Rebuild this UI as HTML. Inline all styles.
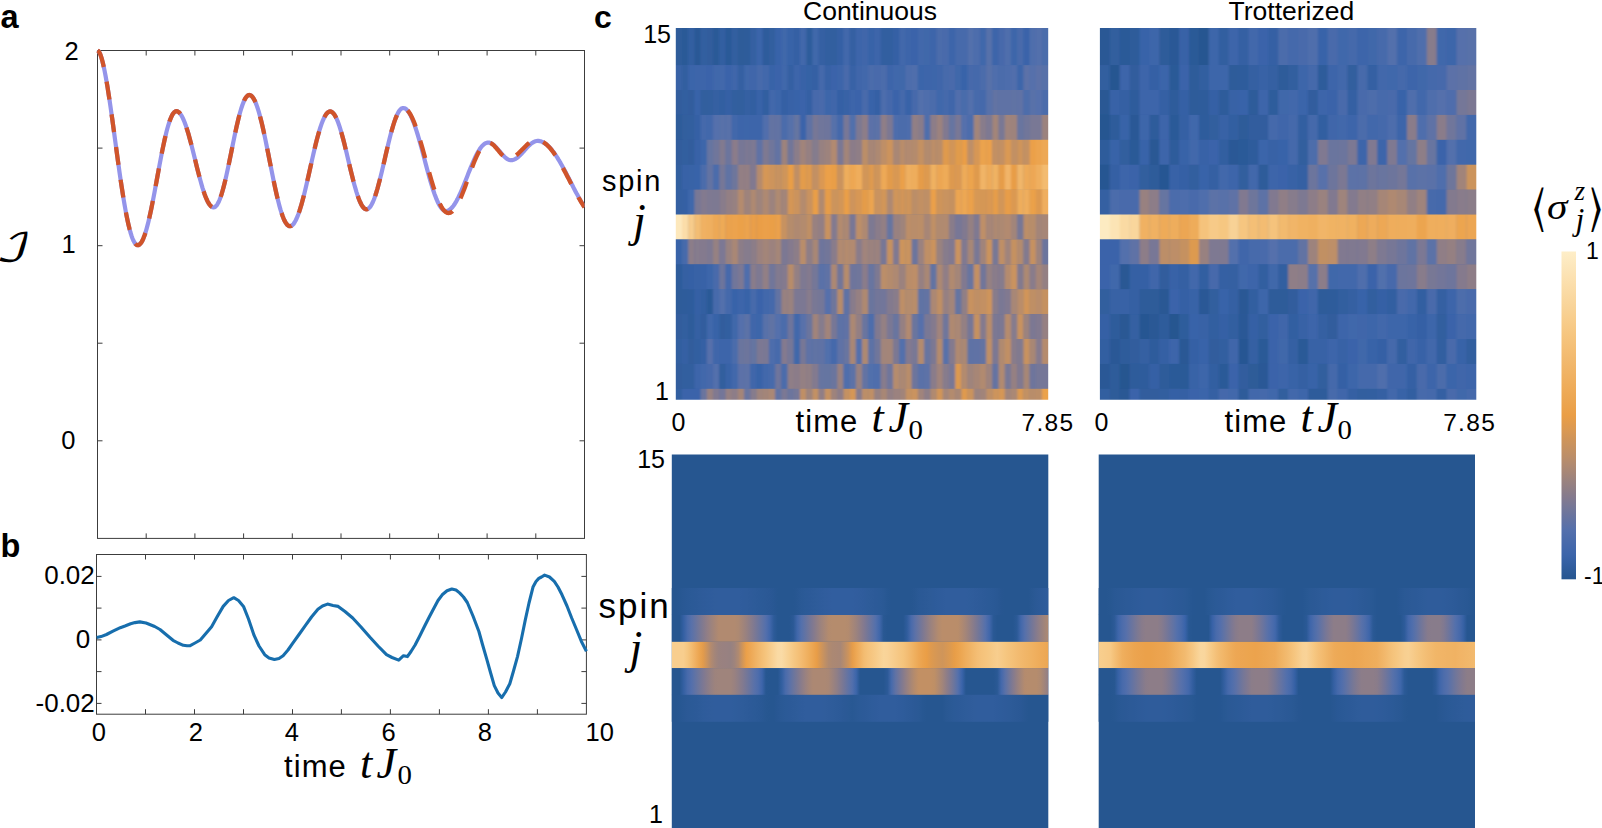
<!DOCTYPE html>
<html><head><meta charset="utf-8"><title>Figure</title>
<style>html,body{margin:0;padding:0;background:#fff}svg{display:block}</style></head>
<body><svg width="1602" height="828" viewBox="0 0 1602 828">
<rect width="1602" height="828" fill="#fff"/>
<g fill="none" stroke="#3c3c3c" stroke-width="1">
<rect x="97.5" y="50.5" width="487.0" height="487.9"/>
<path d="M146.2 50.5 v5 M146.2 538.4 v-5 M194.9 50.5 v5 M194.9 538.4 v-5 M243.6 50.5 v5 M243.6 538.4 v-5 M292.3 50.5 v5 M292.3 538.4 v-5 M341.0 50.5 v5 M341.0 538.4 v-5 M389.7 50.5 v5 M389.7 538.4 v-5 M438.4 50.5 v5 M438.4 538.4 v-5 M487.1 50.5 v5 M487.1 538.4 v-5 M535.8 50.5 v5 M535.8 538.4 v-5 M97.5 148.1 h5 M584.5 148.1 h-5 M97.5 245.7 h5 M584.5 245.7 h-5 M97.5 343.2 h5 M584.5 343.2 h-5 M97.5 440.8 h5 M584.5 440.8 h-5 "/>
</g>
<clipPath id="ca"><rect x="95.5" y="48.5" width="489.0" height="489.9"/></clipPath>
<g clip-path="url(#ca)" fill="none" stroke-linejoin="round">
<path d="M97.5 50.5 L98.5 51.1 L99.5 52.6 L100.5 54.9 L101.5 57.9 L102.5 61.5 L103.5 65.7 L104.5 70.4 L105.5 75.5 L106.5 81.1 L107.5 87.0 L108.5 93.3 L109.5 99.9 L110.5 106.7 L111.5 113.8 L112.5 120.9 L113.5 128.2 L114.5 135.6 L115.5 143.0 L116.5 150.4 L117.5 157.7 L118.5 164.9 L119.5 172.1 L120.5 179.0 L121.5 185.7 L122.5 192.2 L123.5 198.5 L124.5 204.4 L125.5 210.0 L126.5 215.3 L127.5 220.2 L128.5 224.7 L129.5 228.8 L130.5 232.5 L131.5 235.7 L132.5 238.5 L133.5 240.8 L134.5 242.6 L135.5 243.9 L136.5 244.8 L137.5 245.2 L138.5 245.1 L139.5 244.6 L140.5 243.6 L141.5 242.2 L142.5 240.4 L143.5 238.1 L144.5 235.5 L145.5 232.5 L146.5 229.1 L147.5 225.4 L148.5 221.4 L149.5 217.1 L150.5 212.5 L151.5 207.7 L152.5 202.7 L153.5 197.6 L154.5 192.3 L155.5 186.9 L156.5 181.5 L157.5 176.0 L158.5 170.6 L159.5 165.2 L160.5 159.9 L161.5 154.7 L162.5 149.7 L163.5 144.9 L164.5 140.2 L165.5 135.9 L166.5 131.8 L167.5 128.0 L168.5 124.6 L169.5 121.5 L170.5 118.8 L171.5 116.5 L172.5 114.5 L173.5 113.1 L174.5 112.0 L175.5 111.4 L176.5 111.2 L177.5 111.4 L178.5 112.0 L179.5 112.8 L180.5 114.1 L181.5 115.6 L182.5 117.4 L183.5 119.6 L184.5 122.0 L185.5 124.7 L186.5 127.7 L187.5 130.8 L188.5 134.2 L189.5 137.8 L190.5 141.5 L191.5 145.3 L192.5 149.2 L193.5 153.2 L194.5 157.3 L195.5 161.3 L196.5 165.4 L197.5 169.4 L198.5 173.3 L199.5 177.1 L200.5 180.8 L201.5 184.4 L202.5 187.8 L203.5 190.9 L204.5 193.9 L205.5 196.6 L206.5 199.0 L207.5 201.2 L208.5 203.0 L209.5 204.5 L210.5 205.8 L211.5 206.6 L212.5 207.2 L213.5 207.4 L214.5 207.2 L215.5 206.6 L216.5 205.6 L217.5 204.1 L218.5 202.3 L219.5 200.0 L220.5 197.4 L221.5 194.4 L222.5 191.0 L223.5 187.4 L224.5 183.5 L225.5 179.3 L226.5 174.9 L227.5 170.3 L228.5 165.6 L229.5 160.8 L230.5 155.9 L231.5 151.0 L232.5 146.0 L233.5 141.1 L234.5 136.3 L235.5 131.6 L236.5 127.0 L237.5 122.7 L238.5 118.5 L239.5 114.6 L240.5 111.0 L241.5 107.7 L242.5 104.8 L243.5 102.2 L244.5 99.9 L245.5 98.1 L246.5 96.7 L247.5 95.7 L248.5 95.1 L249.5 95.0 L250.5 95.3 L251.5 95.9 L252.5 97.0 L253.5 98.4 L254.5 100.2 L255.5 102.4 L256.5 104.9 L257.5 107.8 L258.5 110.9 L259.5 114.4 L260.5 118.1 L261.5 122.1 L262.5 126.3 L263.5 130.8 L264.5 135.4 L265.5 140.1 L266.5 145.0 L267.5 150.0 L268.5 155.0 L269.5 160.1 L270.5 165.2 L271.5 170.2 L272.5 175.2 L273.5 180.1 L274.5 184.9 L275.5 189.5 L276.5 194.0 L277.5 198.2 L278.5 202.3 L279.5 206.1 L280.5 209.6 L281.5 212.8 L282.5 215.7 L283.5 218.3 L284.5 220.6 L285.5 222.4 L286.5 223.9 L287.5 225.1 L288.5 225.8 L289.5 226.2 L290.5 226.1 L291.5 225.8 L292.5 225.0 L293.5 224.0 L294.5 222.5 L295.5 220.8 L296.5 218.8 L297.5 216.4 L298.5 213.8 L299.5 210.9 L300.5 207.7 L301.5 204.3 L302.5 200.7 L303.5 196.9 L304.5 192.9 L305.5 188.7 L306.5 184.5 L307.5 180.1 L308.5 175.7 L309.5 171.3 L310.5 166.8 L311.5 162.3 L312.5 157.9 L313.5 153.5 L314.5 149.3 L315.5 145.1 L316.5 141.1 L317.5 137.3 L318.5 133.7 L319.5 130.2 L320.5 127.0 L321.5 124.1 L322.5 121.4 L323.5 119.1 L324.5 117.0 L325.5 115.2 L326.5 113.8 L327.5 112.7 L328.5 111.9 L329.5 111.5 L330.5 111.4 L331.5 111.7 L332.5 112.4 L333.5 113.4 L334.5 114.8 L335.5 116.5 L336.5 118.5 L337.5 120.8 L338.5 123.5 L339.5 126.4 L340.5 129.6 L341.5 133.0 L342.5 136.6 L343.5 140.4 L344.5 144.3 L345.5 148.4 L346.5 152.5 L347.5 156.8 L348.5 161.0 L349.5 165.2 L350.5 169.4 L351.5 173.5 L352.5 177.6 L353.5 181.5 L354.5 185.2 L355.5 188.7 L356.5 192.1 L357.5 195.2 L358.5 198.0 L359.5 200.6 L360.5 202.8 L361.5 204.8 L362.5 206.4 L363.5 207.7 L364.5 208.6 L365.5 209.1 L366.5 209.3 L367.5 209.1 L368.5 208.6 L369.5 207.6 L370.5 206.4 L371.5 204.7 L372.5 202.8 L373.5 200.5 L374.5 197.9 L375.5 195.0 L376.5 191.8 L377.5 188.5 L378.5 184.8 L379.5 181.0 L380.5 177.1 L381.5 173.0 L382.5 168.8 L383.5 164.5 L384.5 160.2 L385.5 155.8 L386.5 151.5 L387.5 147.3 L388.5 143.1 L389.5 139.0 L390.5 135.1 L391.5 131.3 L392.5 127.8 L393.5 124.5 L394.5 121.4 L395.5 118.6 L396.5 116.1 L397.5 113.9 L398.5 112.0 L399.5 110.5 L400.5 109.3 L401.5 108.5 L402.5 108.1 L403.5 108.0 L404.5 108.2 L405.5 108.7 L406.5 109.5 L407.5 110.6 L408.5 111.9 L409.5 113.4 L410.5 115.3 L411.5 117.3 L412.5 119.6 L413.5 122.1 L414.5 124.8 L415.5 127.7 L416.5 130.8 L417.5 134.0 L418.5 137.3 L419.5 140.8 L420.5 144.4 L421.5 148.0 L422.5 151.8 L423.5 155.5 L424.5 159.3 L425.5 163.1 L426.5 166.9 L427.5 170.6 L428.5 174.3 L429.5 177.8 L430.5 181.3 L431.5 184.7 L432.5 187.9 L433.5 191.0 L434.5 193.9 L435.5 196.6 L436.5 199.2 L437.5 201.5 L438.5 203.6 L439.5 205.4 L440.5 207.0 L441.5 208.3 L442.5 209.4 L443.5 210.2 L444.5 210.7 L445.5 211.0 L446.5 211.0 L447.5 210.8 L448.5 210.4 L449.5 209.8 L450.5 209.0 L451.5 208.1 L452.5 207.0 L453.5 205.7 L454.5 204.3 L455.5 202.7 L456.5 200.9 L457.5 199.1 L458.5 197.1 L459.5 195.0 L460.5 192.8 L461.5 190.5 L462.5 188.1 L463.5 185.7 L464.5 183.2 L465.5 180.7 L466.5 178.2 L467.5 175.7 L468.5 173.1 L469.5 170.6 L470.5 168.1 L471.5 165.7 L472.5 163.3 L473.5 161.0 L474.5 158.8 L475.5 156.7 L476.5 154.7 L477.5 152.8 L478.5 151.1 L479.5 149.5 L480.5 148.0 L481.5 146.7 L482.5 145.6 L483.5 144.7 L484.5 143.9 L485.5 143.3 L486.5 142.9 L487.5 142.6 L488.5 142.6 L489.5 142.7 L490.5 143.0 L491.5 143.5 L492.5 144.1 L493.5 144.8 L494.5 145.7 L495.5 146.7 L496.5 147.7 L497.5 148.8 L498.5 150.0 L499.5 151.2 L500.5 152.4 L501.5 153.6 L502.5 154.8 L503.5 155.8 L504.5 156.8 L505.5 157.7 L506.5 158.5 L507.5 159.1 L508.5 159.6 L509.5 160.0 L510.5 160.2 L511.5 160.2 L512.5 160.1 L513.5 159.8 L514.5 159.4 L515.5 158.9 L516.5 158.3 L517.5 157.6 L518.5 156.7 L519.5 155.8 L520.5 154.8 L521.5 153.8 L522.5 152.7 L523.5 151.6 L524.5 150.4 L525.5 149.3 L526.5 148.2 L527.5 147.1 L528.5 146.1 L529.5 145.1 L530.5 144.2 L531.5 143.4 L532.5 142.7 L533.5 142.1 L534.5 141.6 L535.5 141.2 L536.5 141.0 L537.5 140.9 L538.5 140.9 L539.5 141.1 L540.5 141.3 L541.5 141.6 L542.5 142.0 L543.5 142.5 L544.5 143.1 L545.5 143.7 L546.5 144.5 L547.5 145.3 L548.5 146.3 L549.5 147.3 L550.5 148.3 L551.5 149.5 L552.5 150.8 L553.5 152.1 L554.5 153.4 L555.5 154.9 L556.5 156.4 L557.5 157.9 L558.5 159.6 L559.5 161.2 L560.5 162.9 L561.5 164.7 L562.5 166.5 L563.5 168.3 L564.5 170.2 L565.5 172.1 L566.5 174.0 L567.5 175.9 L568.5 177.8 L569.5 179.8 L570.5 181.7 L571.5 183.7 L572.5 185.6 L573.5 187.6 L574.5 189.5 L575.5 191.4 L576.5 193.3 L577.5 195.1 L578.5 196.9 L579.5 198.7 L580.5 200.5 L581.5 202.2 L582.5 203.8 L583.5 205.4 L584.5 207.0" stroke="#9494ea" stroke-width="4.2"/>
<path d="M97.5 50.5 L98.5 51.1 L99.5 52.6 L100.5 54.9 L101.5 57.9 L102.5 61.5 L103.5 65.7 L104.5 70.4 L105.5 75.5 L106.5 81.1 L107.5 87.0 L108.5 93.3 L109.5 99.9 L110.5 106.7 L111.5 113.8 L112.5 120.9 L113.5 128.2 L114.5 135.6 L115.5 143.0 L116.5 150.4 L117.5 157.7 L118.5 164.9 L119.5 172.1 L120.5 179.0 L121.5 185.7 L122.5 192.2 L123.5 198.5 L124.5 204.4 L125.5 210.0 L126.5 215.3 L127.5 220.2 L128.5 224.7 L129.5 228.8 L130.5 232.5 L131.5 235.7 L132.5 238.5 L133.5 240.8 L134.5 242.6 L135.5 243.9 L136.5 244.8 L137.5 245.2 L138.5 245.1 L139.5 244.6 L140.5 243.6 L141.5 242.2 L142.5 240.4 L143.5 238.1 L144.5 235.5 L145.5 232.5 L146.5 229.1 L147.5 225.4 L148.5 221.4 L149.5 217.1 L150.5 212.5 L151.5 207.7 L152.5 202.7 L153.5 197.6 L154.5 192.3 L155.5 186.9 L156.5 181.5 L157.5 176.0 L158.5 170.6 L159.5 165.2 L160.5 159.9 L161.5 154.7 L162.5 149.7 L163.5 144.9 L164.5 140.2 L165.5 135.9 L166.5 131.8 L167.5 128.0 L168.5 124.6 L169.5 121.5 L170.5 118.8 L171.5 116.5 L172.5 114.5 L173.5 113.1 L174.5 112.0 L175.5 111.4 L176.5 111.2 L177.5 111.4 L178.5 112.0 L179.5 112.8 L180.5 114.1 L181.5 115.6 L182.5 117.4 L183.5 119.6 L184.5 122.0 L185.5 124.7 L186.5 127.7 L187.5 130.8 L188.5 134.2 L189.5 137.8 L190.5 141.5 L191.5 145.3 L192.5 149.2 L193.5 153.2 L194.5 157.3 L195.5 161.3 L196.5 165.4 L197.5 169.4 L198.5 173.3 L199.5 177.1 L200.5 180.8 L201.5 184.4 L202.5 187.8 L203.5 190.9 L204.5 193.9 L205.5 196.6 L206.5 199.0 L207.5 201.2 L208.5 203.0 L209.5 204.5 L210.5 205.8 L211.5 206.6 L212.5 207.2 L213.5 207.4 L214.5 207.2 L215.5 206.6 L216.5 205.6 L217.5 204.1 L218.5 202.3 L219.5 200.0 L220.5 197.4 L221.5 194.4 L222.5 191.0 L223.5 187.4 L224.5 183.5 L225.5 179.3 L226.5 174.9 L227.5 170.3 L228.5 165.6 L229.5 160.8 L230.5 155.9 L231.5 151.0 L232.5 146.0 L233.5 141.1 L234.5 136.3 L235.5 131.6 L236.5 127.0 L237.5 122.7 L238.5 118.5 L239.5 114.6 L240.5 111.0 L241.5 107.7 L242.5 104.8 L243.5 102.2 L244.5 99.9 L245.5 98.1 L246.5 96.7 L247.5 95.7 L248.5 95.1 L249.5 95.0 L250.5 95.3 L251.5 95.9 L252.5 97.0 L253.5 98.4 L254.5 100.2 L255.5 102.4 L256.5 104.9 L257.5 107.8 L258.5 110.9 L259.5 114.4 L260.5 118.1 L261.5 122.1 L262.5 126.3 L263.5 130.8 L264.5 135.4 L265.5 140.1 L266.5 145.0 L267.5 150.0 L268.5 155.0 L269.5 160.1 L270.5 165.2 L271.5 170.2 L272.5 175.2 L273.5 180.1 L274.5 184.9 L275.5 189.5 L276.5 194.0 L277.5 198.2 L278.5 202.3 L279.5 206.1 L280.5 209.6 L281.5 212.8 L282.5 215.7 L283.5 218.3 L284.5 220.6 L285.5 222.4 L286.5 223.9 L287.5 225.1 L288.5 225.8 L289.5 226.2 L290.5 226.1 L291.5 225.8 L292.5 225.0 L293.5 224.0 L294.5 222.5 L295.5 220.8 L296.5 218.8 L297.5 216.4 L298.5 213.8 L299.5 210.9 L300.5 207.7 L301.5 204.3 L302.5 200.7 L303.5 196.9 L304.5 192.9 L305.5 188.7 L306.5 184.5 L307.5 180.1 L308.5 175.7 L309.5 171.3 L310.5 166.8 L311.5 162.3 L312.5 157.9 L313.5 153.5 L314.5 149.3 L315.5 145.1 L316.5 141.1 L317.5 137.3 L318.5 133.7 L319.5 130.2 L320.5 127.0 L321.5 124.1 L322.5 121.4 L323.5 119.1 L324.5 117.0 L325.5 115.2 L326.5 113.8 L327.5 112.7 L328.5 111.9 L329.5 111.5 L330.5 111.4 L331.5 111.7 L332.5 112.4 L333.5 113.4 L334.5 114.8 L335.5 116.5 L336.5 118.5 L337.5 120.8 L338.5 123.5 L339.5 126.4 L340.5 129.6 L341.5 133.0 L342.5 136.6 L343.5 140.4 L344.5 144.3 L345.5 148.4 L346.5 152.5 L347.5 156.8 L348.5 161.0 L349.5 165.2 L350.5 169.4 L351.5 173.5 L352.5 177.6 L353.5 181.5 L354.5 185.2 L355.5 188.7 L356.5 192.1 L357.5 195.2 L358.5 198.0 L359.5 200.6 L360.5 202.8 L361.5 204.8 L362.5 206.4 L363.5 207.7 L364.5 208.6 L365.5 209.1 L366.5 209.3 L367.5 209.1 L368.5 208.6 L369.5 207.6 L370.5 206.4 L371.5 204.7 L372.5 202.8 L373.5 200.5 L374.5 197.9 L375.5 195.0 L376.5 191.8 L377.5 188.5 L378.5 184.8 L379.5 181.0 L380.5 177.1 L381.5 173.0 L382.5 168.8 L383.5 164.5 L384.5 160.2 L385.5 155.8 L386.5 151.5 L387.5 147.3 L388.5 143.1 L389.5 139.0 L390.5 135.1 L391.5 131.3 L392.5 127.8 L393.5 124.5 L394.5 121.4 L395.5 118.6 L396.5 116.1 L397.5 113.9 L398.5 112.0 L399.5 110.5 L400.5 109.3 L401.5 108.5 L402.5 108.1 L403.5 108.0 L404.5 108.2 L405.5 108.7 L406.5 109.4 L407.5 110.3 L408.5 111.5 L409.5 112.9 L410.5 114.6 L411.5 116.5 L412.5 118.5 L413.5 120.8 L414.5 123.3 L415.5 126.0 L416.5 128.8 L417.5 131.8 L418.5 134.9 L419.5 138.1 L420.5 141.5 L421.5 144.9 L422.5 148.4 L423.5 152.0 L424.5 155.6 L425.5 159.2 L426.5 162.9 L427.5 166.5 L428.5 170.1 L429.5 173.6 L430.5 177.1 L431.5 180.5 L432.5 183.9 L433.5 187.1 L434.5 190.1 L435.5 193.1 L436.5 195.8 L437.5 198.5 L438.5 200.9 L439.5 203.1 L440.5 205.1 L441.5 206.9 L442.5 208.5 L443.5 209.9 L444.5 211.0 L445.5 211.9 L446.5 212.5 L447.5 212.9 L448.5 213.0 L449.5 212.9 L450.5 212.6 L451.5 212.0 L452.5 211.3 L453.5 210.3 L454.5 209.1 L455.5 207.7 L456.5 206.2 L457.5 204.4 L458.5 202.5 L459.5 200.5 L460.5 198.3 L461.5 196.0 L462.5 193.5 L463.5 191.0 L464.5 188.4 L465.5 185.7 L466.5 182.9 L467.5 180.2 L468.5 177.4 L469.5 174.6 L470.5 171.8 L471.5 169.1 L472.5 166.4 L473.5 163.8 L474.5 161.3 L475.5 158.9 L476.5 156.6 L477.5 154.5 L478.5 152.5 L479.5 150.6 L480.5 148.9 L481.5 147.4 L482.5 146.1 L483.5 145.0 L484.5 144.1 L485.5 143.4 L486.5 142.9 L487.5 142.7 L488.5 142.6 L489.5 142.8 L490.5 143.1 L491.5 143.6 L492.5 144.3 L493.5 145.1 L494.5 146.1 L495.5 147.2 L496.5 148.3 L497.5 149.5 L498.5 150.7 L499.5 152.0 L500.5 153.1 L501.5 154.3 L502.5 155.3 L503.5 156.2 L504.5 157.0 L505.5 157.7 L506.5 158.1 L507.5 158.4 L508.5 158.5 L509.5 158.4 L510.5 158.3 L511.5 158.0 L512.5 157.6 L513.5 157.1 L514.5 156.5 L515.5 155.8 L516.5 155.0 L517.5 154.2 L518.5 153.3 L519.5 152.3 L520.5 151.3 L521.5 150.3 L522.5 149.2 L523.5 148.2 L524.5 147.2 L525.5 146.2 L526.5 145.2 L527.5 144.3 L528.5 143.5 L529.5 142.7 L530.5 142.0 L531.5 141.4 L532.5 140.9 L533.5 140.5 L534.5 140.2 L535.5 140.1 L536.5 140.0 L537.5 140.0 L538.5 140.2 L539.5 140.4 L540.5 140.7 L541.5 141.1 L542.5 141.6 L543.5 142.2 L544.5 142.9 L545.5 143.7 L546.5 144.5 L547.5 145.4 L548.5 146.4 L549.5 147.5 L550.5 148.6 L551.5 149.9 L552.5 151.2 L553.5 152.5 L554.5 154.0 L555.5 155.4 L556.5 157.0 L557.5 158.6 L558.5 160.2 L559.5 161.9 L560.5 163.6 L561.5 165.4 L562.5 167.2 L563.5 169.1 L564.5 170.9 L565.5 172.8 L566.5 174.7 L567.5 176.7 L568.5 178.6 L569.5 180.5 L570.5 182.5 L571.5 184.4 L572.5 186.3 L573.5 188.2 L574.5 190.1 L575.5 192.0 L576.5 193.9 L577.5 195.7 L578.5 197.5 L579.5 199.2 L580.5 200.9 L581.5 202.6 L582.5 204.2 L583.5 205.8 L584.5 207.3" stroke="#d0542a" stroke-width="4.3" stroke-dasharray="18 15"/>
</g>
<g fill="none" stroke="#3c3c3c" stroke-width="1">
<rect x="96.5" y="554.5" width="489.9" height="159.7"/>
<path d="M145.5 554.5 v5 M145.5 714.2 v-5 M194.5 554.5 v5 M194.5 714.2 v-5 M243.5 554.5 v5 M243.5 714.2 v-5 M292.5 554.5 v5 M292.5 714.2 v-5 M341.4 554.5 v5 M341.4 714.2 v-5 M390.4 554.5 v5 M390.4 714.2 v-5 M439.4 554.5 v5 M439.4 714.2 v-5 M488.4 554.5 v5 M488.4 714.2 v-5 M537.4 554.5 v5 M537.4 714.2 v-5 M96.5 703.4 h5 M586.4 703.4 h-5 M96.5 671.6 h5 M586.4 671.6 h-5 M96.5 639.9 h5 M586.4 639.9 h-5 M96.5 608.1 h5 M586.4 608.1 h-5 M96.5 576.4 h5 M586.4 576.4 h-5 "/>
</g>
<path d="M96.7 637.5 L101.0 636.6 L106.5 634.5 L113.0 631.2 L120.3 627.7 L125.0 626.0 L130.6 623.8 L135.0 622.6 L139.8 621.9 L146.0 623.0 L154.7 626.5 L160.0 629.5 L166.0 634.5 L173.0 640.3 L178.0 643.0 L183.3 645.3 L187.0 645.8 L190.2 645.6 L195.0 643.0 L200.3 640.0 L205.0 634.5 L211.6 626.7 L217.0 617.0 L223.2 606.4 L228.5 600.5 L233.8 597.7 L238.5 600.5 L243.5 606.4 L248.5 619.0 L254.1 635.4 L259.0 646.0 L264.7 654.7 L269.0 658.0 L274.4 659.5 L279.0 658.5 L283.1 655.7 L288.0 650.0 L292.8 643.1 L299.0 634.5 L305.3 625.7 L311.5 617.0 L317.9 609.3 L322.5 606.0 L327.5 604.1 L333.0 605.5 L338.2 606.4 L345.0 611.5 L352.7 618.0 L361.0 627.0 L370.0 637.3 L378.0 646.0 L386.5 654.7 L392.0 657.5 L398.7 660.1 L403.5 655.7 L407.4 656.6 L411.0 651.5 L415.1 645.0 L420.0 635.5 L424.8 625.7 L429.5 616.5 L434.4 607.3 L438.0 600.5 L442.2 594.8 L447.0 590.8 L451.8 589.0 L456.0 590.0 L459.6 592.9 L463.5 597.0 L467.3 602.5 L473.0 616.0 L478.9 631.5 L482.5 644.5 L486.6 658.6 L490.5 672.5 L494.3 685.6 L498.0 693.0 L501.7 697.6 L505.5 692.0 L509.8 683.7 L513.5 671.0 L517.5 656.6 L521.5 638.5 L525.3 619.9 L529.0 603.0 L533.0 587.1 L536.0 581.5 L538.8 578.4 L541.5 577.0 L544.6 575.1 L549.5 577.0 L554.3 581.3 L558.0 587.0 L562.0 594.8 L567.0 606.0 L571.7 618.0 L576.5 629.5 L581.3 641.2 L586.4 651.3" fill="none" stroke="#176ead" stroke-width="3.1" stroke-linejoin="round" stroke-linecap="butt"/>
<text x="0.6" y="28.4" font-family='"Liberation Sans", Arial, Helvetica, sans-serif' font-size="32.5" text-anchor="start" font-weight="bold" font-style="normal" >a</text>
<text x="0.5" y="557.3" font-family='"Liberation Sans", Arial, Helvetica, sans-serif' font-size="32.5" text-anchor="start" font-weight="bold" font-style="normal" >b</text>
<text x="594.0" y="28.4" font-family='"Liberation Sans", Arial, Helvetica, sans-serif' font-size="32.0" text-anchor="start" font-weight="bold" font-style="normal" >c</text>
<text x="71.6" y="59.6" font-family='"Liberation Sans", Arial, Helvetica, sans-serif' font-size="25.5" text-anchor="middle" font-weight="normal" font-style="normal" >2</text>
<text x="68.6" y="253.1" font-family='"Liberation Sans", Arial, Helvetica, sans-serif' font-size="25.5" text-anchor="middle" font-weight="normal" font-style="normal" >1</text>
<text x="68.4" y="448.8" font-family='"Liberation Sans", Arial, Helvetica, sans-serif' font-size="25.5" text-anchor="middle" font-weight="normal" font-style="normal" >0</text>
<text x="94.8" y="584.1" font-family='"Liberation Sans", Arial, Helvetica, sans-serif' font-size="26.0" text-anchor="end" font-weight="normal" font-style="normal" >0.02</text>
<text x="90.2" y="648.2" font-family='"Liberation Sans", Arial, Helvetica, sans-serif' font-size="26.0" text-anchor="end" font-weight="normal" font-style="normal" >0</text>
<text x="94.8" y="711.8" font-family='"Liberation Sans", Arial, Helvetica, sans-serif' font-size="26.0" text-anchor="end" font-weight="normal" font-style="normal" >-0.02</text>
<text x="98.9" y="741.0" font-family='"Liberation Sans", Arial, Helvetica, sans-serif' font-size="25.5" text-anchor="middle" font-weight="normal" font-style="normal" >0</text>
<text x="195.9" y="741.0" font-family='"Liberation Sans", Arial, Helvetica, sans-serif' font-size="25.5" text-anchor="middle" font-weight="normal" font-style="normal" >2</text>
<text x="291.8" y="741.0" font-family='"Liberation Sans", Arial, Helvetica, sans-serif' font-size="25.5" text-anchor="middle" font-weight="normal" font-style="normal" >4</text>
<text x="388.5" y="741.0" font-family='"Liberation Sans", Arial, Helvetica, sans-serif' font-size="25.5" text-anchor="middle" font-weight="normal" font-style="normal" >6</text>
<text x="484.9" y="741.0" font-family='"Liberation Sans", Arial, Helvetica, sans-serif' font-size="25.5" text-anchor="middle" font-weight="normal" font-style="normal" >8</text>
<text x="599.8" y="741.0" font-family='"Liberation Sans", Arial, Helvetica, sans-serif' font-size="25.5" text-anchor="middle" font-weight="normal" font-style="normal" >10</text>
<text x="284.0" y="777.3" font-family='"Liberation Sans", Arial, Helvetica, sans-serif' font-size="31.0" text-anchor="start" font-weight="normal" font-style="normal" letter-spacing="1.1">time</text>
<text x="360.0" y="777.6" font-family='"Liberation Serif", "DejaVu Serif", serif' font-size="44.0" text-anchor="start" font-weight="normal" font-style="italic" >t</text>
<text x="376.5" y="777.6" font-family='"Liberation Serif", "DejaVu Serif", serif' font-size="44.0" text-anchor="start" font-weight="normal" font-style="italic" >J</text>
<text transform="translate(397.5 784.0) scale(1.030 1.000)" font-family='"Liberation Serif", "DejaVu Serif", serif' font-size="28.0" font-style="normal">0</text>
<text transform="translate(-4.5 260.8) scale(1.290 1.000)" font-family='"DejaVu Math TeX Gyre", "DejaVu Sans", "DejaVu Serif", serif' font-size="38.5" font-style="normal">&#x2110;</text>
<filter id="bx" x="-5%" y="-5%" width="110%" height="110%"><feGaussianBlur stdDeviation="1.1 0.35"/></filter>
<filter id="bx2" x="-5%" y="-5%" width="110%" height="110%"><feGaussianBlur stdDeviation="0.8 0.35"/></filter>
<clipPath id="ctl"><rect x="675.8" y="28" width="372.4" height="371.7"/></clipPath>
<clipPath id="ctr"><rect x="1099.9" y="28" width="376.4" height="371.7"/></clipPath>
<g clip-path="url(#ctl)"><g filter="url(#bx)">
<rect x="660" y="20" width="400" height="390" fill="#3a64aa"/>
<rect x="669.80" y="28.00" width="12.51" height="37.40" fill="#2e5b9a"/>
<rect x="682.01" y="28.00" width="6.51" height="37.40" fill="#2b5a97"/>
<rect x="688.21" y="28.00" width="6.51" height="37.40" fill="#335fa1"/>
<rect x="694.42" y="28.00" width="6.51" height="37.40" fill="#2b5996"/>
<rect x="700.63" y="28.00" width="6.51" height="37.40" fill="#325fa0"/>
<rect x="706.83" y="28.00" width="6.51" height="37.40" fill="#305d9d"/>
<rect x="713.04" y="28.00" width="6.51" height="37.40" fill="#2c5a97"/>
<rect x="719.25" y="28.00" width="6.51" height="37.40" fill="#335fa1"/>
<rect x="725.45" y="28.00" width="6.51" height="37.40" fill="#2c5a98"/>
<rect x="731.66" y="28.00" width="6.51" height="37.40" fill="#335fa0"/>
<rect x="737.87" y="28.00" width="6.51" height="37.40" fill="#2d5b99"/>
<rect x="744.07" y="28.00" width="6.51" height="37.40" fill="#2e5b9a"/>
<rect x="750.28" y="28.00" width="6.51" height="37.40" fill="#3460a2"/>
<rect x="756.49" y="28.00" width="6.51" height="37.40" fill="#3b65aa"/>
<rect x="762.69" y="28.00" width="6.51" height="37.40" fill="#2f5c9c"/>
<rect x="768.90" y="28.00" width="6.51" height="37.40" fill="#315e9f"/>
<rect x="775.11" y="28.00" width="6.51" height="37.40" fill="#3963a9"/>
<rect x="781.31" y="28.00" width="6.51" height="37.40" fill="#4067aa"/>
<rect x="787.52" y="28.00" width="6.51" height="37.40" fill="#3963a8"/>
<rect x="793.73" y="28.00" width="6.51" height="37.40" fill="#3661a4"/>
<rect x="799.93" y="28.00" width="6.51" height="37.40" fill="#4268ab"/>
<rect x="806.14" y="28.00" width="6.51" height="37.40" fill="#2f5d9c"/>
<rect x="812.35" y="28.00" width="6.51" height="37.40" fill="#4067aa"/>
<rect x="818.55" y="28.00" width="6.51" height="37.40" fill="#3560a3"/>
<rect x="824.76" y="28.00" width="6.51" height="37.40" fill="#325ea0"/>
<rect x="830.97" y="28.00" width="6.51" height="37.40" fill="#325e9f"/>
<rect x="837.17" y="28.00" width="6.51" height="37.40" fill="#3661a5"/>
<rect x="843.38" y="28.00" width="6.51" height="37.40" fill="#4268ab"/>
<rect x="849.59" y="28.00" width="6.51" height="37.40" fill="#3460a2"/>
<rect x="855.79" y="28.00" width="6.51" height="37.40" fill="#3d65aa"/>
<rect x="862.00" y="28.00" width="6.51" height="37.40" fill="#3f66aa"/>
<rect x="868.21" y="28.00" width="6.51" height="37.40" fill="#3963a8"/>
<rect x="874.41" y="28.00" width="6.51" height="37.40" fill="#3d65aa"/>
<rect x="880.62" y="28.00" width="6.51" height="37.40" fill="#325fa0"/>
<rect x="886.83" y="28.00" width="6.51" height="37.40" fill="#325fa0"/>
<rect x="893.03" y="28.00" width="6.51" height="37.40" fill="#3661a5"/>
<rect x="899.24" y="28.00" width="6.51" height="37.40" fill="#4268ab"/>
<rect x="905.45" y="28.00" width="6.51" height="37.40" fill="#3d65aa"/>
<rect x="911.65" y="28.00" width="6.51" height="37.40" fill="#3a64aa"/>
<rect x="917.86" y="28.00" width="6.51" height="37.40" fill="#4268ab"/>
<rect x="924.07" y="28.00" width="6.51" height="37.40" fill="#4067aa"/>
<rect x="930.27" y="28.00" width="6.51" height="37.40" fill="#3c65aa"/>
<rect x="936.48" y="28.00" width="6.51" height="37.40" fill="#4b6cab"/>
<rect x="942.69" y="28.00" width="6.51" height="37.40" fill="#496bab"/>
<rect x="948.89" y="28.00" width="6.51" height="37.40" fill="#3d65aa"/>
<rect x="955.10" y="28.00" width="6.51" height="37.40" fill="#476aab"/>
<rect x="961.31" y="28.00" width="6.51" height="37.40" fill="#476aab"/>
<rect x="967.51" y="28.00" width="6.51" height="37.40" fill="#526fac"/>
<rect x="973.72" y="28.00" width="6.51" height="37.40" fill="#4e6dac"/>
<rect x="979.93" y="28.00" width="6.51" height="37.40" fill="#4167ab"/>
<rect x="986.13" y="28.00" width="6.51" height="37.40" fill="#5771aa"/>
<rect x="992.34" y="28.00" width="6.51" height="37.40" fill="#3c65aa"/>
<rect x="998.55" y="28.00" width="6.51" height="37.40" fill="#4669ab"/>
<rect x="1004.75" y="28.00" width="6.51" height="37.40" fill="#506eac"/>
<rect x="1010.96" y="28.00" width="6.51" height="37.40" fill="#3e66aa"/>
<rect x="1017.17" y="28.00" width="6.51" height="37.40" fill="#496bab"/>
<rect x="1023.37" y="28.00" width="6.51" height="37.40" fill="#3b64aa"/>
<rect x="1029.58" y="28.00" width="6.51" height="37.40" fill="#4f6eac"/>
<rect x="1035.79" y="28.00" width="6.51" height="37.40" fill="#526fac"/>
<rect x="1041.99" y="28.00" width="12.51" height="37.40" fill="#4c6dab"/>
<rect x="669.80" y="65.10" width="12.51" height="25.20" fill="#3762a6"/>
<rect x="682.01" y="65.10" width="6.51" height="25.20" fill="#325fa0"/>
<rect x="688.21" y="65.10" width="6.51" height="25.20" fill="#3b65aa"/>
<rect x="694.42" y="65.10" width="6.51" height="25.20" fill="#3c65aa"/>
<rect x="700.63" y="65.10" width="6.51" height="25.20" fill="#3c65aa"/>
<rect x="706.83" y="65.10" width="6.51" height="25.20" fill="#3a64aa"/>
<rect x="713.04" y="65.10" width="6.51" height="25.20" fill="#4167ab"/>
<rect x="719.25" y="65.10" width="6.51" height="25.20" fill="#4368ab"/>
<rect x="725.45" y="65.10" width="6.51" height="25.20" fill="#3b64aa"/>
<rect x="731.66" y="65.10" width="6.51" height="25.20" fill="#3f66aa"/>
<rect x="737.87" y="65.10" width="6.51" height="25.20" fill="#3460a2"/>
<rect x="744.07" y="65.10" width="6.51" height="25.20" fill="#4067aa"/>
<rect x="750.28" y="65.10" width="6.51" height="25.20" fill="#3f66aa"/>
<rect x="756.49" y="65.10" width="6.51" height="25.20" fill="#466aab"/>
<rect x="762.69" y="65.10" width="6.51" height="25.20" fill="#4368ab"/>
<rect x="768.90" y="65.10" width="6.51" height="25.20" fill="#3963a8"/>
<rect x="775.11" y="65.10" width="6.51" height="25.20" fill="#3b64aa"/>
<rect x="781.31" y="65.10" width="6.51" height="25.20" fill="#4167ab"/>
<rect x="787.52" y="65.10" width="6.51" height="25.20" fill="#3460a3"/>
<rect x="793.73" y="65.10" width="6.51" height="25.20" fill="#3d65aa"/>
<rect x="799.93" y="65.10" width="6.51" height="25.20" fill="#3762a7"/>
<rect x="806.14" y="65.10" width="6.51" height="25.20" fill="#3662a5"/>
<rect x="812.35" y="65.10" width="6.51" height="25.20" fill="#3561a4"/>
<rect x="818.55" y="65.10" width="6.51" height="25.20" fill="#4569ab"/>
<rect x="824.76" y="65.10" width="6.51" height="25.20" fill="#3762a6"/>
<rect x="830.97" y="65.10" width="6.51" height="25.20" fill="#3a64aa"/>
<rect x="837.17" y="65.10" width="6.51" height="25.20" fill="#3d65aa"/>
<rect x="843.38" y="65.10" width="6.51" height="25.20" fill="#496bab"/>
<rect x="849.59" y="65.10" width="6.51" height="25.20" fill="#3762a6"/>
<rect x="855.79" y="65.10" width="6.51" height="25.20" fill="#3f66aa"/>
<rect x="862.00" y="65.10" width="6.51" height="25.20" fill="#4268ab"/>
<rect x="868.21" y="65.10" width="6.51" height="25.20" fill="#4b6cab"/>
<rect x="874.41" y="65.10" width="6.51" height="25.20" fill="#4a6bab"/>
<rect x="880.62" y="65.10" width="6.51" height="25.20" fill="#4b6cab"/>
<rect x="886.83" y="65.10" width="6.51" height="25.20" fill="#3d65aa"/>
<rect x="893.03" y="65.10" width="6.51" height="25.20" fill="#4167ab"/>
<rect x="899.24" y="65.10" width="6.51" height="25.20" fill="#4067aa"/>
<rect x="905.45" y="65.10" width="6.51" height="25.20" fill="#4e6dac"/>
<rect x="911.65" y="65.10" width="6.51" height="25.20" fill="#506eac"/>
<rect x="917.86" y="65.10" width="6.51" height="25.20" fill="#3b65aa"/>
<rect x="924.07" y="65.10" width="6.51" height="25.20" fill="#3c65aa"/>
<rect x="930.27" y="65.10" width="6.51" height="25.20" fill="#3e66aa"/>
<rect x="936.48" y="65.10" width="6.51" height="25.20" fill="#3f66aa"/>
<rect x="942.69" y="65.10" width="6.51" height="25.20" fill="#466aab"/>
<rect x="948.89" y="65.10" width="6.51" height="25.20" fill="#496bab"/>
<rect x="955.10" y="65.10" width="6.51" height="25.20" fill="#4067aa"/>
<rect x="961.31" y="65.10" width="6.51" height="25.20" fill="#3964a9"/>
<rect x="967.51" y="65.10" width="6.51" height="25.20" fill="#4669ab"/>
<rect x="973.72" y="65.10" width="6.51" height="25.20" fill="#4569ab"/>
<rect x="979.93" y="65.10" width="6.51" height="25.20" fill="#4b6cab"/>
<rect x="986.13" y="65.10" width="6.51" height="25.20" fill="#5871a9"/>
<rect x="992.34" y="65.10" width="6.51" height="25.20" fill="#506eac"/>
<rect x="998.55" y="65.10" width="6.51" height="25.20" fill="#4b6cab"/>
<rect x="1004.75" y="65.10" width="6.51" height="25.20" fill="#4e6dac"/>
<rect x="1010.96" y="65.10" width="6.51" height="25.20" fill="#516eac"/>
<rect x="1017.17" y="65.10" width="6.51" height="25.20" fill="#3e66aa"/>
<rect x="1023.37" y="65.10" width="6.51" height="25.20" fill="#5b71a8"/>
<rect x="1029.58" y="65.10" width="6.51" height="25.20" fill="#5670ab"/>
<rect x="1035.79" y="65.10" width="6.51" height="25.20" fill="#5b71a8"/>
<rect x="1041.99" y="65.10" width="12.51" height="25.20" fill="#5871a9"/>
<rect x="669.80" y="90.00" width="12.51" height="25.20" fill="#305d9d"/>
<rect x="682.01" y="90.00" width="6.51" height="25.20" fill="#325ea0"/>
<rect x="688.21" y="90.00" width="6.51" height="25.20" fill="#305d9d"/>
<rect x="694.42" y="90.00" width="6.51" height="25.20" fill="#3964a9"/>
<rect x="700.63" y="90.00" width="6.51" height="25.20" fill="#315e9e"/>
<rect x="706.83" y="90.00" width="6.51" height="25.20" fill="#315e9f"/>
<rect x="713.04" y="90.00" width="6.51" height="25.20" fill="#3460a2"/>
<rect x="719.25" y="90.00" width="6.51" height="25.20" fill="#335fa1"/>
<rect x="725.45" y="90.00" width="6.51" height="25.20" fill="#3661a5"/>
<rect x="731.66" y="90.00" width="6.51" height="25.20" fill="#325e9f"/>
<rect x="737.87" y="90.00" width="6.51" height="25.20" fill="#315e9e"/>
<rect x="744.07" y="90.00" width="6.51" height="25.20" fill="#3460a2"/>
<rect x="750.28" y="90.00" width="6.51" height="25.20" fill="#335fa1"/>
<rect x="756.49" y="90.00" width="6.51" height="25.20" fill="#3863a8"/>
<rect x="762.69" y="90.00" width="6.51" height="25.20" fill="#325fa0"/>
<rect x="768.90" y="90.00" width="6.51" height="25.20" fill="#4368ab"/>
<rect x="775.11" y="90.00" width="6.51" height="25.20" fill="#3e66aa"/>
<rect x="781.31" y="90.00" width="6.51" height="25.20" fill="#3561a4"/>
<rect x="787.52" y="90.00" width="6.51" height="25.20" fill="#3762a7"/>
<rect x="793.73" y="90.00" width="6.51" height="25.20" fill="#3964a9"/>
<rect x="799.93" y="90.00" width="6.51" height="25.20" fill="#3a64aa"/>
<rect x="806.14" y="90.00" width="6.51" height="25.20" fill="#3661a4"/>
<rect x="812.35" y="90.00" width="6.51" height="25.20" fill="#4669ab"/>
<rect x="818.55" y="90.00" width="6.51" height="25.20" fill="#496bab"/>
<rect x="824.76" y="90.00" width="6.51" height="25.20" fill="#3e66aa"/>
<rect x="830.97" y="90.00" width="6.51" height="25.20" fill="#3f66aa"/>
<rect x="837.17" y="90.00" width="6.51" height="25.20" fill="#3661a5"/>
<rect x="843.38" y="90.00" width="6.51" height="25.20" fill="#3762a6"/>
<rect x="849.59" y="90.00" width="6.51" height="25.20" fill="#3c65aa"/>
<rect x="855.79" y="90.00" width="6.51" height="25.20" fill="#3b64aa"/>
<rect x="862.00" y="90.00" width="6.51" height="25.20" fill="#496bab"/>
<rect x="868.21" y="90.00" width="6.51" height="25.20" fill="#3963a9"/>
<rect x="874.41" y="90.00" width="6.51" height="25.20" fill="#3661a5"/>
<rect x="880.62" y="90.00" width="6.51" height="25.20" fill="#4e6dac"/>
<rect x="886.83" y="90.00" width="6.51" height="25.20" fill="#4468ab"/>
<rect x="893.03" y="90.00" width="6.51" height="25.20" fill="#3a64aa"/>
<rect x="899.24" y="90.00" width="6.51" height="25.20" fill="#4569ab"/>
<rect x="905.45" y="90.00" width="6.51" height="25.20" fill="#3863a8"/>
<rect x="911.65" y="90.00" width="6.51" height="25.20" fill="#4669ab"/>
<rect x="917.86" y="90.00" width="6.51" height="25.20" fill="#536fac"/>
<rect x="924.07" y="90.00" width="6.51" height="25.20" fill="#506eac"/>
<rect x="930.27" y="90.00" width="6.51" height="25.20" fill="#4c6cab"/>
<rect x="936.48" y="90.00" width="6.51" height="25.20" fill="#4167ab"/>
<rect x="942.69" y="90.00" width="6.51" height="25.20" fill="#4469ab"/>
<rect x="948.89" y="90.00" width="6.51" height="25.20" fill="#3f66aa"/>
<rect x="955.10" y="90.00" width="6.51" height="25.20" fill="#516eac"/>
<rect x="961.31" y="90.00" width="6.51" height="25.20" fill="#4a6cab"/>
<rect x="967.51" y="90.00" width="6.51" height="25.20" fill="#526fac"/>
<rect x="973.72" y="90.00" width="6.51" height="25.20" fill="#466aab"/>
<rect x="979.93" y="90.00" width="6.51" height="25.20" fill="#4469ab"/>
<rect x="986.13" y="90.00" width="6.51" height="25.20" fill="#5871a9"/>
<rect x="992.34" y="90.00" width="6.51" height="25.20" fill="#6273a3"/>
<rect x="998.55" y="90.00" width="6.51" height="25.20" fill="#5e72a5"/>
<rect x="1004.75" y="90.00" width="6.51" height="25.20" fill="#5e72a5"/>
<rect x="1010.96" y="90.00" width="6.51" height="25.20" fill="#6173a4"/>
<rect x="1017.17" y="90.00" width="6.51" height="25.20" fill="#6072a5"/>
<rect x="1023.37" y="90.00" width="6.51" height="25.20" fill="#4d6dab"/>
<rect x="1029.58" y="90.00" width="6.51" height="25.20" fill="#5971a9"/>
<rect x="1035.79" y="90.00" width="6.51" height="25.20" fill="#5470ac"/>
<rect x="1041.99" y="90.00" width="12.51" height="25.20" fill="#4b6cab"/>
<rect x="669.80" y="114.90" width="12.51" height="25.20" fill="#2e5b9a"/>
<rect x="682.01" y="114.90" width="6.51" height="25.20" fill="#315e9e"/>
<rect x="688.21" y="114.90" width="6.51" height="25.20" fill="#315e9f"/>
<rect x="694.42" y="114.90" width="6.51" height="25.20" fill="#3661a5"/>
<rect x="700.63" y="114.90" width="6.51" height="25.20" fill="#4469ab"/>
<rect x="706.83" y="114.90" width="6.51" height="25.20" fill="#4368ab"/>
<rect x="713.04" y="114.90" width="6.51" height="25.20" fill="#5470ac"/>
<rect x="719.25" y="114.90" width="6.51" height="25.20" fill="#5871a9"/>
<rect x="725.45" y="114.90" width="6.51" height="25.20" fill="#5971a9"/>
<rect x="731.66" y="114.90" width="6.51" height="25.20" fill="#4268ab"/>
<rect x="737.87" y="114.90" width="6.51" height="25.20" fill="#3d65aa"/>
<rect x="744.07" y="114.90" width="6.51" height="25.20" fill="#3d66aa"/>
<rect x="750.28" y="114.90" width="6.51" height="25.20" fill="#3c65aa"/>
<rect x="756.49" y="114.90" width="6.51" height="25.20" fill="#3d65aa"/>
<rect x="762.69" y="114.90" width="6.51" height="25.20" fill="#516eac"/>
<rect x="768.90" y="114.90" width="6.51" height="25.20" fill="#6473a2"/>
<rect x="775.11" y="114.90" width="6.51" height="25.20" fill="#6273a3"/>
<rect x="781.31" y="114.90" width="6.51" height="25.20" fill="#4c6cab"/>
<rect x="787.52" y="114.90" width="6.51" height="25.20" fill="#5771aa"/>
<rect x="793.73" y="114.90" width="6.51" height="25.20" fill="#6574a1"/>
<rect x="799.93" y="114.90" width="6.51" height="25.20" fill="#3a64aa"/>
<rect x="806.14" y="114.90" width="6.51" height="25.20" fill="#5f72a5"/>
<rect x="812.35" y="114.90" width="6.51" height="25.20" fill="#777796"/>
<rect x="818.55" y="114.90" width="6.51" height="25.20" fill="#6f769b"/>
<rect x="824.76" y="114.90" width="6.51" height="25.20" fill="#6e759c"/>
<rect x="830.97" y="114.90" width="6.51" height="25.20" fill="#5771aa"/>
<rect x="837.17" y="114.90" width="6.51" height="25.20" fill="#4569ab"/>
<rect x="843.38" y="114.90" width="6.51" height="25.20" fill="#787796"/>
<rect x="849.59" y="114.90" width="6.51" height="25.20" fill="#516fac"/>
<rect x="855.79" y="114.90" width="6.51" height="25.20" fill="#7d7992"/>
<rect x="862.00" y="114.90" width="6.51" height="25.20" fill="#8d7d88"/>
<rect x="868.21" y="114.90" width="6.51" height="25.20" fill="#5b71a8"/>
<rect x="874.41" y="114.90" width="6.51" height="25.20" fill="#5c72a7"/>
<rect x="880.62" y="114.90" width="6.51" height="25.20" fill="#8f7e87"/>
<rect x="886.83" y="114.90" width="6.51" height="25.20" fill="#7c7893"/>
<rect x="893.03" y="114.90" width="6.51" height="25.20" fill="#4e6dac"/>
<rect x="899.24" y="114.90" width="6.51" height="25.20" fill="#4c6cab"/>
<rect x="905.45" y="114.90" width="6.51" height="25.20" fill="#4e6dac"/>
<rect x="911.65" y="114.90" width="6.51" height="25.20" fill="#917f85"/>
<rect x="917.86" y="114.90" width="6.51" height="25.20" fill="#897c8a"/>
<rect x="924.07" y="114.90" width="6.51" height="25.20" fill="#506eac"/>
<rect x="930.27" y="114.90" width="6.51" height="25.20" fill="#8d7d88"/>
<rect x="936.48" y="114.90" width="6.51" height="25.20" fill="#9c827e"/>
<rect x="942.69" y="114.90" width="6.51" height="25.20" fill="#817990"/>
<rect x="948.89" y="114.90" width="6.51" height="25.20" fill="#6674a1"/>
<rect x="955.10" y="114.90" width="6.51" height="25.20" fill="#797895"/>
<rect x="961.31" y="114.90" width="6.51" height="25.20" fill="#5570ac"/>
<rect x="967.51" y="114.90" width="6.51" height="25.20" fill="#4e6dac"/>
<rect x="973.72" y="114.90" width="6.51" height="25.20" fill="#a2857a"/>
<rect x="979.93" y="114.90" width="6.51" height="25.20" fill="#887b8b"/>
<rect x="986.13" y="114.90" width="6.51" height="25.20" fill="#7e7992"/>
<rect x="992.34" y="114.90" width="6.51" height="25.20" fill="#a38579"/>
<rect x="998.55" y="114.90" width="6.51" height="25.20" fill="#797895"/>
<rect x="1004.75" y="114.90" width="6.51" height="25.20" fill="#a0847b"/>
<rect x="1010.96" y="114.90" width="6.51" height="25.20" fill="#9e837c"/>
<rect x="1017.17" y="114.90" width="6.51" height="25.20" fill="#69749f"/>
<rect x="1023.37" y="114.90" width="6.51" height="25.20" fill="#71769a"/>
<rect x="1029.58" y="114.90" width="6.51" height="25.20" fill="#797895"/>
<rect x="1035.79" y="114.90" width="6.51" height="25.20" fill="#797895"/>
<rect x="1041.99" y="114.90" width="12.51" height="25.20" fill="#9b827e"/>
<rect x="669.80" y="139.80" width="12.51" height="25.20" fill="#305d9d"/>
<rect x="682.01" y="139.80" width="6.51" height="25.20" fill="#325e9f"/>
<rect x="688.21" y="139.80" width="6.51" height="25.20" fill="#305d9d"/>
<rect x="694.42" y="139.80" width="6.51" height="25.20" fill="#3762a7"/>
<rect x="700.63" y="139.80" width="6.51" height="25.20" fill="#3d66aa"/>
<rect x="706.83" y="139.80" width="6.51" height="25.20" fill="#6674a1"/>
<rect x="713.04" y="139.80" width="6.51" height="25.20" fill="#6f769b"/>
<rect x="719.25" y="139.80" width="6.51" height="25.20" fill="#827a8f"/>
<rect x="725.45" y="139.80" width="6.51" height="25.20" fill="#6c759d"/>
<rect x="731.66" y="139.80" width="6.51" height="25.20" fill="#8b7c8a"/>
<rect x="737.87" y="139.80" width="6.51" height="25.20" fill="#777796"/>
<rect x="744.07" y="139.80" width="6.51" height="25.20" fill="#7b7893"/>
<rect x="750.28" y="139.80" width="6.51" height="25.20" fill="#7e7992"/>
<rect x="756.49" y="139.80" width="6.51" height="25.20" fill="#6072a5"/>
<rect x="762.69" y="139.80" width="6.51" height="25.20" fill="#7e7991"/>
<rect x="768.90" y="139.80" width="6.51" height="25.20" fill="#6f769b"/>
<rect x="775.11" y="139.80" width="6.51" height="25.20" fill="#6373a3"/>
<rect x="781.31" y="139.80" width="6.51" height="25.20" fill="#9e837c"/>
<rect x="787.52" y="139.80" width="6.51" height="25.20" fill="#727699"/>
<rect x="793.73" y="139.80" width="6.51" height="25.20" fill="#8b7d89"/>
<rect x="799.93" y="139.80" width="6.51" height="25.20" fill="#a1847a"/>
<rect x="806.14" y="139.80" width="6.51" height="25.20" fill="#968082"/>
<rect x="812.35" y="139.80" width="6.51" height="25.20" fill="#857b8d"/>
<rect x="818.55" y="139.80" width="6.51" height="25.20" fill="#978181"/>
<rect x="824.76" y="139.80" width="6.51" height="25.20" fill="#9d837d"/>
<rect x="830.97" y="139.80" width="6.51" height="25.20" fill="#b28a6f"/>
<rect x="837.17" y="139.80" width="6.51" height="25.20" fill="#7a7894"/>
<rect x="843.38" y="139.80" width="6.51" height="25.20" fill="#a38579"/>
<rect x="849.59" y="139.80" width="6.51" height="25.20" fill="#8b7c89"/>
<rect x="855.79" y="139.80" width="6.51" height="25.20" fill="#8f7e86"/>
<rect x="862.00" y="139.80" width="6.51" height="25.20" fill="#bb8e68"/>
<rect x="868.21" y="139.80" width="6.51" height="25.20" fill="#a78676"/>
<rect x="874.41" y="139.80" width="6.51" height="25.20" fill="#ad8972"/>
<rect x="880.62" y="139.80" width="6.51" height="25.20" fill="#bf8f66"/>
<rect x="886.83" y="139.80" width="6.51" height="25.20" fill="#cc935d"/>
<rect x="893.03" y="139.80" width="6.51" height="25.20" fill="#a98775"/>
<rect x="899.24" y="139.80" width="6.51" height="25.20" fill="#b98d6a"/>
<rect x="905.45" y="139.80" width="6.51" height="25.20" fill="#b28a6f"/>
<rect x="911.65" y="139.80" width="6.51" height="25.20" fill="#b48b6d"/>
<rect x="917.86" y="139.80" width="6.51" height="25.20" fill="#c49162"/>
<rect x="924.07" y="139.80" width="6.51" height="25.20" fill="#b38b6e"/>
<rect x="930.27" y="139.80" width="6.51" height="25.20" fill="#bc8e68"/>
<rect x="936.48" y="139.80" width="6.51" height="25.20" fill="#ba8d69"/>
<rect x="942.69" y="139.80" width="6.51" height="25.20" fill="#df9a4e"/>
<rect x="948.89" y="139.80" width="6.51" height="25.20" fill="#d19558"/>
<rect x="955.10" y="139.80" width="6.51" height="25.20" fill="#e19b4c"/>
<rect x="961.31" y="139.80" width="6.51" height="25.20" fill="#ea9e46"/>
<rect x="967.51" y="139.80" width="6.51" height="25.20" fill="#be8f67"/>
<rect x="973.72" y="139.80" width="6.51" height="25.20" fill="#d69755"/>
<rect x="979.93" y="139.80" width="6.51" height="25.20" fill="#eba34d"/>
<rect x="986.13" y="139.80" width="6.51" height="25.20" fill="#eba14b"/>
<rect x="992.34" y="139.80" width="6.51" height="25.20" fill="#c39063"/>
<rect x="998.55" y="139.80" width="6.51" height="25.20" fill="#c39063"/>
<rect x="1004.75" y="139.80" width="6.51" height="25.20" fill="#da9952"/>
<rect x="1010.96" y="139.80" width="6.51" height="25.20" fill="#c29064"/>
<rect x="1017.17" y="139.80" width="6.51" height="25.20" fill="#cf945a"/>
<rect x="1023.37" y="139.80" width="6.51" height="25.20" fill="#c49162"/>
<rect x="1029.58" y="139.80" width="6.51" height="25.20" fill="#eba049"/>
<rect x="1035.79" y="139.80" width="6.51" height="25.20" fill="#eca44f"/>
<rect x="1041.99" y="139.80" width="12.51" height="25.20" fill="#eda855"/>
<rect x="669.80" y="164.70" width="12.51" height="25.20" fill="#325e9f"/>
<rect x="682.01" y="164.70" width="6.51" height="25.20" fill="#3862a7"/>
<rect x="688.21" y="164.70" width="6.51" height="25.20" fill="#3863a7"/>
<rect x="694.42" y="164.70" width="6.51" height="25.20" fill="#3963a9"/>
<rect x="700.63" y="164.70" width="6.51" height="25.20" fill="#4c6cab"/>
<rect x="706.83" y="164.70" width="6.51" height="25.20" fill="#6473a2"/>
<rect x="713.04" y="164.70" width="6.51" height="25.20" fill="#4c6cab"/>
<rect x="719.25" y="164.70" width="6.51" height="25.20" fill="#767797"/>
<rect x="725.45" y="164.70" width="6.51" height="25.20" fill="#6173a4"/>
<rect x="731.66" y="164.70" width="6.51" height="25.20" fill="#6e769b"/>
<rect x="737.87" y="164.70" width="6.51" height="25.20" fill="#937f84"/>
<rect x="744.07" y="164.70" width="6.51" height="25.20" fill="#937f84"/>
<rect x="750.28" y="164.70" width="6.51" height="25.20" fill="#817990"/>
<rect x="756.49" y="164.70" width="6.51" height="25.20" fill="#b58b6d"/>
<rect x="762.69" y="164.70" width="6.51" height="25.20" fill="#d59756"/>
<rect x="768.90" y="164.70" width="6.51" height="25.20" fill="#cd945b"/>
<rect x="775.11" y="164.70" width="6.51" height="25.20" fill="#c79260"/>
<rect x="781.31" y="164.70" width="6.51" height="25.20" fill="#cf955a"/>
<rect x="787.52" y="164.70" width="6.51" height="25.20" fill="#e99e47"/>
<rect x="793.73" y="164.70" width="6.51" height="25.20" fill="#c08f65"/>
<rect x="799.93" y="164.70" width="6.51" height="25.20" fill="#e39c4b"/>
<rect x="806.14" y="164.70" width="6.51" height="25.20" fill="#de9a4f"/>
<rect x="812.35" y="164.70" width="6.51" height="25.20" fill="#c39063"/>
<rect x="818.55" y="164.70" width="6.51" height="25.20" fill="#da9852"/>
<rect x="824.76" y="164.70" width="6.51" height="25.20" fill="#eba049"/>
<rect x="830.97" y="164.70" width="6.51" height="25.20" fill="#e99e47"/>
<rect x="837.17" y="164.70" width="6.51" height="25.20" fill="#cb935d"/>
<rect x="843.38" y="164.70" width="6.51" height="25.20" fill="#eead5b"/>
<rect x="849.59" y="164.70" width="6.51" height="25.20" fill="#eda753"/>
<rect x="855.79" y="164.70" width="6.51" height="25.20" fill="#efad5c"/>
<rect x="862.00" y="164.70" width="6.51" height="25.20" fill="#d29658"/>
<rect x="868.21" y="164.70" width="6.51" height="25.20" fill="#de9a4f"/>
<rect x="874.41" y="164.70" width="6.51" height="25.20" fill="#cf955a"/>
<rect x="880.62" y="164.70" width="6.51" height="25.20" fill="#eda956"/>
<rect x="886.83" y="164.70" width="6.51" height="25.20" fill="#e29b4c"/>
<rect x="893.03" y="164.70" width="6.51" height="25.20" fill="#d99853"/>
<rect x="899.24" y="164.70" width="6.51" height="25.20" fill="#eba049"/>
<rect x="905.45" y="164.70" width="6.51" height="25.20" fill="#efaf5f"/>
<rect x="911.65" y="164.70" width="6.51" height="25.20" fill="#eead5b"/>
<rect x="917.86" y="164.70" width="6.51" height="25.20" fill="#e59c4a"/>
<rect x="924.07" y="164.70" width="6.51" height="25.20" fill="#de9a4f"/>
<rect x="930.27" y="164.70" width="6.51" height="25.20" fill="#f0b161"/>
<rect x="936.48" y="164.70" width="6.51" height="25.20" fill="#eca652"/>
<rect x="942.69" y="164.70" width="6.51" height="25.20" fill="#eeab58"/>
<rect x="948.89" y="164.70" width="6.51" height="25.20" fill="#dd9950"/>
<rect x="955.10" y="164.70" width="6.51" height="25.20" fill="#dc9951"/>
<rect x="961.31" y="164.70" width="6.51" height="25.20" fill="#eeab59"/>
<rect x="967.51" y="164.70" width="6.51" height="25.20" fill="#eca44e"/>
<rect x="973.72" y="164.70" width="6.51" height="25.20" fill="#df9a4e"/>
<rect x="979.93" y="164.70" width="6.51" height="25.20" fill="#f1b466"/>
<rect x="986.13" y="164.70" width="6.51" height="25.20" fill="#eeac5a"/>
<rect x="992.34" y="164.70" width="6.51" height="25.20" fill="#f0b262"/>
<rect x="998.55" y="164.70" width="6.51" height="25.20" fill="#e69d49"/>
<rect x="1004.75" y="164.70" width="6.51" height="25.20" fill="#f1b467"/>
<rect x="1010.96" y="164.70" width="6.51" height="25.20" fill="#e89d47"/>
<rect x="1017.17" y="164.70" width="6.51" height="25.20" fill="#f1b669"/>
<rect x="1023.37" y="164.70" width="6.51" height="25.20" fill="#eeaa58"/>
<rect x="1029.58" y="164.70" width="6.51" height="25.20" fill="#eda754"/>
<rect x="1035.79" y="164.70" width="6.51" height="25.20" fill="#efaf5e"/>
<rect x="1041.99" y="164.70" width="12.51" height="25.20" fill="#f3bb70"/>
<rect x="669.80" y="189.60" width="12.51" height="25.20" fill="#3460a2"/>
<rect x="682.01" y="189.60" width="6.51" height="25.20" fill="#3661a4"/>
<rect x="688.21" y="189.60" width="6.51" height="25.20" fill="#4167ab"/>
<rect x="694.42" y="189.60" width="6.51" height="25.20" fill="#797895"/>
<rect x="700.63" y="189.60" width="6.51" height="25.20" fill="#837a8f"/>
<rect x="706.83" y="189.60" width="6.51" height="25.20" fill="#7e7992"/>
<rect x="713.04" y="189.60" width="6.51" height="25.20" fill="#7d7992"/>
<rect x="719.25" y="189.60" width="6.51" height="25.20" fill="#897c8b"/>
<rect x="725.45" y="189.60" width="6.51" height="25.20" fill="#937f84"/>
<rect x="731.66" y="189.60" width="6.51" height="25.20" fill="#978181"/>
<rect x="737.87" y="189.60" width="6.51" height="25.20" fill="#b48b6e"/>
<rect x="744.07" y="189.60" width="6.51" height="25.20" fill="#9e837c"/>
<rect x="750.28" y="189.60" width="6.51" height="25.20" fill="#af8971"/>
<rect x="756.49" y="189.60" width="6.51" height="25.20" fill="#9f847c"/>
<rect x="762.69" y="189.60" width="6.51" height="25.20" fill="#ae8972"/>
<rect x="768.90" y="189.60" width="6.51" height="25.20" fill="#9c837e"/>
<rect x="775.11" y="189.60" width="6.51" height="25.20" fill="#af8a71"/>
<rect x="781.31" y="189.60" width="6.51" height="25.20" fill="#a38579"/>
<rect x="787.52" y="189.60" width="6.51" height="25.20" fill="#d49656"/>
<rect x="793.73" y="189.60" width="6.51" height="25.20" fill="#cb935d"/>
<rect x="799.93" y="189.60" width="6.51" height="25.20" fill="#b48b6e"/>
<rect x="806.14" y="189.60" width="6.51" height="25.20" fill="#c9925e"/>
<rect x="812.35" y="189.60" width="6.51" height="25.20" fill="#e99e47"/>
<rect x="818.55" y="189.60" width="6.51" height="25.20" fill="#b08a70"/>
<rect x="824.76" y="189.60" width="6.51" height="25.20" fill="#e59c49"/>
<rect x="830.97" y="189.60" width="6.51" height="25.20" fill="#cc945c"/>
<rect x="837.17" y="189.60" width="6.51" height="25.20" fill="#d29658"/>
<rect x="843.38" y="189.60" width="6.51" height="25.20" fill="#ea9f47"/>
<rect x="849.59" y="189.60" width="6.51" height="25.20" fill="#ce945b"/>
<rect x="855.79" y="189.60" width="6.51" height="25.20" fill="#d79754"/>
<rect x="862.00" y="189.60" width="6.51" height="25.20" fill="#e49c4a"/>
<rect x="868.21" y="189.60" width="6.51" height="25.20" fill="#eca44f"/>
<rect x="874.41" y="189.60" width="6.51" height="25.20" fill="#ca935e"/>
<rect x="880.62" y="189.60" width="6.51" height="25.20" fill="#d29658"/>
<rect x="886.83" y="189.60" width="6.51" height="25.20" fill="#ae8972"/>
<rect x="893.03" y="189.60" width="6.51" height="25.20" fill="#cf955a"/>
<rect x="899.24" y="189.60" width="6.51" height="25.20" fill="#d29558"/>
<rect x="905.45" y="189.60" width="6.51" height="25.20" fill="#cf955a"/>
<rect x="911.65" y="189.60" width="6.51" height="25.20" fill="#bb8e68"/>
<rect x="917.86" y="189.60" width="6.51" height="25.20" fill="#c29064"/>
<rect x="924.07" y="189.60" width="6.51" height="25.20" fill="#bf8f66"/>
<rect x="930.27" y="189.60" width="6.51" height="25.20" fill="#eba049"/>
<rect x="936.48" y="189.60" width="6.51" height="25.20" fill="#ce945a"/>
<rect x="942.69" y="189.60" width="6.51" height="25.20" fill="#c9935e"/>
<rect x="948.89" y="189.60" width="6.51" height="25.20" fill="#c59161"/>
<rect x="955.10" y="189.60" width="6.51" height="25.20" fill="#eca551"/>
<rect x="961.31" y="189.60" width="6.51" height="25.20" fill="#eda753"/>
<rect x="967.51" y="189.60" width="6.51" height="25.20" fill="#eba14b"/>
<rect x="973.72" y="189.60" width="6.51" height="25.20" fill="#d79854"/>
<rect x="979.93" y="189.60" width="6.51" height="25.20" fill="#d59755"/>
<rect x="986.13" y="189.60" width="6.51" height="25.20" fill="#da9852"/>
<rect x="992.34" y="189.60" width="6.51" height="25.20" fill="#e69d49"/>
<rect x="998.55" y="189.60" width="6.51" height="25.20" fill="#d29658"/>
<rect x="1004.75" y="189.60" width="6.51" height="25.20" fill="#e79d48"/>
<rect x="1010.96" y="189.60" width="6.51" height="25.20" fill="#db9951"/>
<rect x="1017.17" y="189.60" width="6.51" height="25.20" fill="#eead5c"/>
<rect x="1023.37" y="189.60" width="6.51" height="25.20" fill="#efae5d"/>
<rect x="1029.58" y="189.60" width="6.51" height="25.20" fill="#eba14a"/>
<rect x="1035.79" y="189.60" width="6.51" height="25.20" fill="#dd9950"/>
<rect x="1041.99" y="189.60" width="12.51" height="25.20" fill="#efae5e"/>
<rect x="669.80" y="214.50" width="12.51" height="25.20" fill="#fde8bc"/>
<rect x="682.01" y="214.50" width="6.51" height="25.20" fill="#fbdda9"/>
<rect x="688.21" y="214.50" width="6.51" height="25.20" fill="#f7cc8b"/>
<rect x="694.42" y="214.50" width="6.51" height="25.20" fill="#f3bd73"/>
<rect x="700.63" y="214.50" width="6.51" height="25.20" fill="#f0b162"/>
<rect x="706.83" y="214.50" width="6.51" height="25.20" fill="#efaf5e"/>
<rect x="713.04" y="214.50" width="6.51" height="25.20" fill="#eda957"/>
<rect x="719.25" y="214.50" width="6.51" height="25.20" fill="#eeaa57"/>
<rect x="725.45" y="214.50" width="6.51" height="25.20" fill="#eba24d"/>
<rect x="731.66" y="214.50" width="6.51" height="25.20" fill="#eca34e"/>
<rect x="737.87" y="214.50" width="6.51" height="25.20" fill="#eba14a"/>
<rect x="744.07" y="214.50" width="6.51" height="25.20" fill="#eca34e"/>
<rect x="750.28" y="214.50" width="6.51" height="25.20" fill="#ea9f48"/>
<rect x="756.49" y="214.50" width="6.51" height="25.20" fill="#ea9e46"/>
<rect x="762.69" y="214.50" width="6.51" height="25.20" fill="#eba049"/>
<rect x="768.90" y="214.50" width="6.51" height="25.20" fill="#ea9f47"/>
<rect x="775.11" y="214.50" width="6.51" height="25.20" fill="#eba14b"/>
<rect x="781.31" y="214.50" width="6.51" height="25.20" fill="#c79260"/>
<rect x="787.52" y="214.50" width="6.51" height="25.20" fill="#b58c6c"/>
<rect x="793.73" y="214.50" width="6.51" height="25.20" fill="#af8971"/>
<rect x="799.93" y="214.50" width="6.51" height="25.20" fill="#b38b6e"/>
<rect x="806.14" y="214.50" width="6.51" height="25.20" fill="#bf8f65"/>
<rect x="812.35" y="214.50" width="6.51" height="25.20" fill="#998180"/>
<rect x="818.55" y="214.50" width="6.51" height="25.20" fill="#937f84"/>
<rect x="824.76" y="214.50" width="6.51" height="25.20" fill="#c8925f"/>
<rect x="830.97" y="214.50" width="6.51" height="25.20" fill="#837a8f"/>
<rect x="837.17" y="214.50" width="6.51" height="25.20" fill="#b38b6e"/>
<rect x="843.38" y="214.50" width="6.51" height="25.20" fill="#ac8873"/>
<rect x="849.59" y="214.50" width="6.51" height="25.20" fill="#787796"/>
<rect x="855.79" y="214.50" width="6.51" height="25.20" fill="#bc8e68"/>
<rect x="862.00" y="214.50" width="6.51" height="25.20" fill="#ae8972"/>
<rect x="868.21" y="214.50" width="6.51" height="25.20" fill="#7d7992"/>
<rect x="874.41" y="214.50" width="6.51" height="25.20" fill="#8a7c8a"/>
<rect x="880.62" y="214.50" width="6.51" height="25.20" fill="#937f84"/>
<rect x="886.83" y="214.50" width="6.51" height="25.20" fill="#6674a0"/>
<rect x="893.03" y="214.50" width="6.51" height="25.20" fill="#998180"/>
<rect x="899.24" y="214.50" width="6.51" height="25.20" fill="#9f847b"/>
<rect x="905.45" y="214.50" width="6.51" height="25.20" fill="#bc8e68"/>
<rect x="911.65" y="214.50" width="6.51" height="25.20" fill="#b98d6a"/>
<rect x="917.86" y="214.50" width="6.51" height="25.20" fill="#bb8e68"/>
<rect x="924.07" y="214.50" width="6.51" height="25.20" fill="#a78676"/>
<rect x="930.27" y="214.50" width="6.51" height="25.20" fill="#c09065"/>
<rect x="936.48" y="214.50" width="6.51" height="25.20" fill="#b08a70"/>
<rect x="942.69" y="214.50" width="6.51" height="25.20" fill="#b18a70"/>
<rect x="948.89" y="214.50" width="6.51" height="25.20" fill="#897c8a"/>
<rect x="955.10" y="214.50" width="6.51" height="25.20" fill="#787796"/>
<rect x="961.31" y="214.50" width="6.51" height="25.20" fill="#817990"/>
<rect x="967.51" y="214.50" width="6.51" height="25.20" fill="#958082"/>
<rect x="973.72" y="214.50" width="6.51" height="25.20" fill="#7f7991"/>
<rect x="979.93" y="214.50" width="6.51" height="25.20" fill="#be8f67"/>
<rect x="986.13" y="214.50" width="6.51" height="25.20" fill="#a78677"/>
<rect x="992.34" y="214.50" width="6.51" height="25.20" fill="#ad8972"/>
<rect x="998.55" y="214.50" width="6.51" height="25.20" fill="#ad8972"/>
<rect x="1004.75" y="214.50" width="6.51" height="25.20" fill="#b28a6f"/>
<rect x="1010.96" y="214.50" width="6.51" height="25.20" fill="#a1857a"/>
<rect x="1017.17" y="214.50" width="6.51" height="25.20" fill="#777796"/>
<rect x="1023.37" y="214.50" width="6.51" height="25.20" fill="#bc8e68"/>
<rect x="1029.58" y="214.50" width="6.51" height="25.20" fill="#b88d6b"/>
<rect x="1035.79" y="214.50" width="6.51" height="25.20" fill="#a38579"/>
<rect x="1041.99" y="214.50" width="12.51" height="25.20" fill="#a68677"/>
<rect x="669.80" y="239.40" width="12.51" height="25.20" fill="#3963a8"/>
<rect x="682.01" y="239.40" width="6.51" height="25.20" fill="#466aab"/>
<rect x="688.21" y="239.40" width="6.51" height="25.20" fill="#8c7d89"/>
<rect x="694.42" y="239.40" width="6.51" height="25.20" fill="#867b8d"/>
<rect x="700.63" y="239.40" width="6.51" height="25.20" fill="#847a8e"/>
<rect x="706.83" y="239.40" width="6.51" height="25.20" fill="#7f7991"/>
<rect x="713.04" y="239.40" width="6.51" height="25.20" fill="#968182"/>
<rect x="719.25" y="239.40" width="6.51" height="25.20" fill="#7b7894"/>
<rect x="725.45" y="239.40" width="6.51" height="25.20" fill="#998280"/>
<rect x="731.66" y="239.40" width="6.51" height="25.20" fill="#a98775"/>
<rect x="737.87" y="239.40" width="6.51" height="25.20" fill="#8c7d88"/>
<rect x="744.07" y="239.40" width="6.51" height="25.20" fill="#867b8d"/>
<rect x="750.28" y="239.40" width="6.51" height="25.20" fill="#8c7d88"/>
<rect x="756.49" y="239.40" width="6.51" height="25.20" fill="#9c827e"/>
<rect x="762.69" y="239.40" width="6.51" height="25.20" fill="#a38579"/>
<rect x="768.90" y="239.40" width="6.51" height="25.20" fill="#9c827e"/>
<rect x="775.11" y="239.40" width="6.51" height="25.20" fill="#a58678"/>
<rect x="781.31" y="239.40" width="6.51" height="25.20" fill="#7c7893"/>
<rect x="787.52" y="239.40" width="6.51" height="25.20" fill="#857a8e"/>
<rect x="793.73" y="239.40" width="6.51" height="25.20" fill="#8d7d88"/>
<rect x="799.93" y="239.40" width="6.51" height="25.20" fill="#b98d6a"/>
<rect x="806.14" y="239.40" width="6.51" height="25.20" fill="#8f7e86"/>
<rect x="812.35" y="239.40" width="6.51" height="25.20" fill="#a88775"/>
<rect x="818.55" y="239.40" width="6.51" height="25.20" fill="#6e759c"/>
<rect x="824.76" y="239.40" width="6.51" height="25.20" fill="#727699"/>
<rect x="830.97" y="239.40" width="6.51" height="25.20" fill="#897c8b"/>
<rect x="837.17" y="239.40" width="6.51" height="25.20" fill="#b28a6f"/>
<rect x="843.38" y="239.40" width="6.51" height="25.20" fill="#b48b6e"/>
<rect x="849.59" y="239.40" width="6.51" height="25.20" fill="#b28a6f"/>
<rect x="855.79" y="239.40" width="6.51" height="25.20" fill="#8a7c8a"/>
<rect x="862.00" y="239.40" width="6.51" height="25.20" fill="#a1847b"/>
<rect x="868.21" y="239.40" width="6.51" height="25.20" fill="#9b827e"/>
<rect x="874.41" y="239.40" width="6.51" height="25.20" fill="#9b827e"/>
<rect x="880.62" y="239.40" width="6.51" height="25.20" fill="#777796"/>
<rect x="886.83" y="239.40" width="6.51" height="25.20" fill="#c59161"/>
<rect x="893.03" y="239.40" width="6.51" height="25.20" fill="#807991"/>
<rect x="899.24" y="239.40" width="6.51" height="25.20" fill="#cd945c"/>
<rect x="905.45" y="239.40" width="6.51" height="25.20" fill="#c9935e"/>
<rect x="911.65" y="239.40" width="6.51" height="25.20" fill="#6c759d"/>
<rect x="917.86" y="239.40" width="6.51" height="25.20" fill="#9b827f"/>
<rect x="924.07" y="239.40" width="6.51" height="25.20" fill="#bf8f66"/>
<rect x="930.27" y="239.40" width="6.51" height="25.20" fill="#cc935c"/>
<rect x="936.48" y="239.40" width="6.51" height="25.20" fill="#9a827f"/>
<rect x="942.69" y="239.40" width="6.51" height="25.20" fill="#877b8c"/>
<rect x="948.89" y="239.40" width="6.51" height="25.20" fill="#817990"/>
<rect x="955.10" y="239.40" width="6.51" height="25.20" fill="#ca935e"/>
<rect x="961.31" y="239.40" width="6.51" height="25.20" fill="#817990"/>
<rect x="967.51" y="239.40" width="6.51" height="25.20" fill="#a78776"/>
<rect x="973.72" y="239.40" width="6.51" height="25.20" fill="#797895"/>
<rect x="979.93" y="239.40" width="6.51" height="25.20" fill="#a1847a"/>
<rect x="986.13" y="239.40" width="6.51" height="25.20" fill="#ca935d"/>
<rect x="992.34" y="239.40" width="6.51" height="25.20" fill="#787895"/>
<rect x="998.55" y="239.40" width="6.51" height="25.20" fill="#bf8f66"/>
<rect x="1004.75" y="239.40" width="6.51" height="25.20" fill="#a0847b"/>
<rect x="1010.96" y="239.40" width="6.51" height="25.20" fill="#c59161"/>
<rect x="1017.17" y="239.40" width="6.51" height="25.20" fill="#b48b6e"/>
<rect x="1023.37" y="239.40" width="6.51" height="25.20" fill="#837a8f"/>
<rect x="1029.58" y="239.40" width="6.51" height="25.20" fill="#c69161"/>
<rect x="1035.79" y="239.40" width="6.51" height="25.20" fill="#9d837d"/>
<rect x="1041.99" y="239.40" width="12.51" height="25.20" fill="#6c759d"/>
<rect x="669.80" y="264.30" width="12.51" height="25.20" fill="#2e5c9b"/>
<rect x="682.01" y="264.30" width="6.51" height="25.20" fill="#3460a3"/>
<rect x="688.21" y="264.30" width="6.51" height="25.20" fill="#3661a5"/>
<rect x="694.42" y="264.30" width="6.51" height="25.20" fill="#3762a6"/>
<rect x="700.63" y="264.30" width="6.51" height="25.20" fill="#3862a7"/>
<rect x="706.83" y="264.30" width="6.51" height="25.20" fill="#3e66aa"/>
<rect x="713.04" y="264.30" width="6.51" height="25.20" fill="#486bab"/>
<rect x="719.25" y="264.30" width="6.51" height="25.20" fill="#6d759c"/>
<rect x="725.45" y="264.30" width="6.51" height="25.20" fill="#4669ab"/>
<rect x="731.66" y="264.30" width="6.51" height="25.20" fill="#71769a"/>
<rect x="737.87" y="264.30" width="6.51" height="25.20" fill="#7b7894"/>
<rect x="744.07" y="264.30" width="6.51" height="25.20" fill="#4f6eac"/>
<rect x="750.28" y="264.30" width="6.51" height="25.20" fill="#897c8a"/>
<rect x="756.49" y="264.30" width="6.51" height="25.20" fill="#7e7992"/>
<rect x="762.69" y="264.30" width="6.51" height="25.20" fill="#927f85"/>
<rect x="768.90" y="264.30" width="6.51" height="25.20" fill="#71769a"/>
<rect x="775.11" y="264.30" width="6.51" height="25.20" fill="#827a8f"/>
<rect x="781.31" y="264.30" width="6.51" height="25.20" fill="#847a8e"/>
<rect x="787.52" y="264.30" width="6.51" height="25.20" fill="#b78c6b"/>
<rect x="793.73" y="264.30" width="6.51" height="25.20" fill="#948083"/>
<rect x="799.93" y="264.30" width="6.51" height="25.20" fill="#7e7992"/>
<rect x="806.14" y="264.30" width="6.51" height="25.20" fill="#847a8e"/>
<rect x="812.35" y="264.30" width="6.51" height="25.20" fill="#747798"/>
<rect x="818.55" y="264.30" width="6.51" height="25.20" fill="#5a71a8"/>
<rect x="824.76" y="264.30" width="6.51" height="25.20" fill="#5f72a5"/>
<rect x="830.97" y="264.30" width="6.51" height="25.20" fill="#ac8873"/>
<rect x="837.17" y="264.30" width="6.51" height="25.20" fill="#727699"/>
<rect x="843.38" y="264.30" width="6.51" height="25.20" fill="#b68c6c"/>
<rect x="849.59" y="264.30" width="6.51" height="25.20" fill="#6e759c"/>
<rect x="855.79" y="264.30" width="6.51" height="25.20" fill="#6f769b"/>
<rect x="862.00" y="264.30" width="6.51" height="25.20" fill="#8a7c8a"/>
<rect x="868.21" y="264.30" width="6.51" height="25.20" fill="#6874a0"/>
<rect x="874.41" y="264.30" width="6.51" height="25.20" fill="#7d7992"/>
<rect x="880.62" y="264.30" width="6.51" height="25.20" fill="#bb8e69"/>
<rect x="886.83" y="264.30" width="6.51" height="25.20" fill="#b48b6d"/>
<rect x="893.03" y="264.30" width="6.51" height="25.20" fill="#ae8972"/>
<rect x="899.24" y="264.30" width="6.51" height="25.20" fill="#9c827e"/>
<rect x="905.45" y="264.30" width="6.51" height="25.20" fill="#ba8d69"/>
<rect x="911.65" y="264.30" width="6.51" height="25.20" fill="#bd8e67"/>
<rect x="917.86" y="264.30" width="6.51" height="25.20" fill="#968082"/>
<rect x="924.07" y="264.30" width="6.51" height="25.20" fill="#a98775"/>
<rect x="930.27" y="264.30" width="6.51" height="25.20" fill="#6273a3"/>
<rect x="936.48" y="264.30" width="6.51" height="25.20" fill="#ac8873"/>
<rect x="942.69" y="264.30" width="6.51" height="25.20" fill="#907e86"/>
<rect x="948.89" y="264.30" width="6.51" height="25.20" fill="#b08a70"/>
<rect x="955.10" y="264.30" width="6.51" height="25.20" fill="#a58678"/>
<rect x="961.31" y="264.30" width="6.51" height="25.20" fill="#817990"/>
<rect x="967.51" y="264.30" width="6.51" height="25.20" fill="#6774a0"/>
<rect x="973.72" y="264.30" width="6.51" height="25.20" fill="#c39063"/>
<rect x="979.93" y="264.30" width="6.51" height="25.20" fill="#71769a"/>
<rect x="986.13" y="264.30" width="6.51" height="25.20" fill="#968182"/>
<rect x="992.34" y="264.30" width="6.51" height="25.20" fill="#8a7c8a"/>
<rect x="998.55" y="264.30" width="6.51" height="25.20" fill="#867b8d"/>
<rect x="1004.75" y="264.30" width="6.51" height="25.20" fill="#b48b6e"/>
<rect x="1010.96" y="264.30" width="6.51" height="25.20" fill="#ca935e"/>
<rect x="1017.17" y="264.30" width="6.51" height="25.20" fill="#837a8e"/>
<rect x="1023.37" y="264.30" width="6.51" height="25.20" fill="#ad8972"/>
<rect x="1029.58" y="264.30" width="6.51" height="25.20" fill="#897c8b"/>
<rect x="1035.79" y="264.30" width="6.51" height="25.20" fill="#a48578"/>
<rect x="1041.99" y="264.30" width="12.51" height="25.20" fill="#948083"/>
<rect x="669.80" y="289.20" width="12.51" height="25.20" fill="#2e5b9a"/>
<rect x="682.01" y="289.20" width="6.51" height="25.20" fill="#2e5c9b"/>
<rect x="688.21" y="289.20" width="6.51" height="25.20" fill="#2f5c9c"/>
<rect x="694.42" y="289.20" width="6.51" height="25.20" fill="#3661a5"/>
<rect x="700.63" y="289.20" width="6.51" height="25.20" fill="#335fa1"/>
<rect x="706.83" y="289.20" width="6.51" height="25.20" fill="#2b5a97"/>
<rect x="713.04" y="289.20" width="6.51" height="25.20" fill="#476aab"/>
<rect x="719.25" y="289.20" width="6.51" height="25.20" fill="#5370ac"/>
<rect x="725.45" y="289.20" width="6.51" height="25.20" fill="#4569ab"/>
<rect x="731.66" y="289.20" width="6.51" height="25.20" fill="#3964a9"/>
<rect x="737.87" y="289.20" width="6.51" height="25.20" fill="#3d65aa"/>
<rect x="744.07" y="289.20" width="6.51" height="25.20" fill="#3963a8"/>
<rect x="750.28" y="289.20" width="6.51" height="25.20" fill="#466aab"/>
<rect x="756.49" y="289.20" width="6.51" height="25.20" fill="#3a64aa"/>
<rect x="762.69" y="289.20" width="6.51" height="25.20" fill="#4368ab"/>
<rect x="768.90" y="289.20" width="6.51" height="25.20" fill="#4569ab"/>
<rect x="775.11" y="289.20" width="6.51" height="25.20" fill="#6273a3"/>
<rect x="781.31" y="289.20" width="6.51" height="25.20" fill="#988180"/>
<rect x="787.52" y="289.20" width="6.51" height="25.20" fill="#9a827f"/>
<rect x="793.73" y="289.20" width="6.51" height="25.20" fill="#7c7893"/>
<rect x="799.93" y="289.20" width="6.51" height="25.20" fill="#7c7893"/>
<rect x="806.14" y="289.20" width="6.51" height="25.20" fill="#887b8c"/>
<rect x="812.35" y="289.20" width="6.51" height="25.20" fill="#797895"/>
<rect x="818.55" y="289.20" width="6.51" height="25.20" fill="#757798"/>
<rect x="824.76" y="289.20" width="6.51" height="25.20" fill="#5670ab"/>
<rect x="830.97" y="289.20" width="6.51" height="25.20" fill="#6e769b"/>
<rect x="837.17" y="289.20" width="6.51" height="25.20" fill="#b78c6b"/>
<rect x="843.38" y="289.20" width="6.51" height="25.20" fill="#5e72a5"/>
<rect x="849.59" y="289.20" width="6.51" height="25.20" fill="#887c8b"/>
<rect x="855.79" y="289.20" width="6.51" height="25.20" fill="#968082"/>
<rect x="862.00" y="289.20" width="6.51" height="25.20" fill="#ae8971"/>
<rect x="868.21" y="289.20" width="6.51" height="25.20" fill="#6b759d"/>
<rect x="874.41" y="289.20" width="6.51" height="25.20" fill="#737699"/>
<rect x="880.62" y="289.20" width="6.51" height="25.20" fill="#72769a"/>
<rect x="886.83" y="289.20" width="6.51" height="25.20" fill="#837a8e"/>
<rect x="893.03" y="289.20" width="6.51" height="25.20" fill="#897c8a"/>
<rect x="899.24" y="289.20" width="6.51" height="25.20" fill="#be8f66"/>
<rect x="905.45" y="289.20" width="6.51" height="25.20" fill="#b58c6d"/>
<rect x="911.65" y="289.20" width="6.51" height="25.20" fill="#b98d6a"/>
<rect x="917.86" y="289.20" width="6.51" height="25.20" fill="#6073a4"/>
<rect x="924.07" y="289.20" width="6.51" height="25.20" fill="#6373a3"/>
<rect x="930.27" y="289.20" width="6.51" height="25.20" fill="#ac8873"/>
<rect x="936.48" y="289.20" width="6.51" height="25.20" fill="#bf8f65"/>
<rect x="942.69" y="289.20" width="6.51" height="25.20" fill="#968082"/>
<rect x="948.89" y="289.20" width="6.51" height="25.20" fill="#a38579"/>
<rect x="955.10" y="289.20" width="6.51" height="25.20" fill="#6574a1"/>
<rect x="961.31" y="289.20" width="6.51" height="25.20" fill="#917f85"/>
<rect x="967.51" y="289.20" width="6.51" height="25.20" fill="#c79260"/>
<rect x="973.72" y="289.20" width="6.51" height="25.20" fill="#bf8f65"/>
<rect x="979.93" y="289.20" width="6.51" height="25.20" fill="#c39063"/>
<rect x="986.13" y="289.20" width="6.51" height="25.20" fill="#ce945b"/>
<rect x="992.34" y="289.20" width="6.51" height="25.20" fill="#887c8b"/>
<rect x="998.55" y="289.20" width="6.51" height="25.20" fill="#7a7894"/>
<rect x="1004.75" y="289.20" width="6.51" height="25.20" fill="#817990"/>
<rect x="1010.96" y="289.20" width="6.51" height="25.20" fill="#a88776"/>
<rect x="1017.17" y="289.20" width="6.51" height="25.20" fill="#ba8d6a"/>
<rect x="1023.37" y="289.20" width="6.51" height="25.20" fill="#d19558"/>
<rect x="1029.58" y="289.20" width="6.51" height="25.20" fill="#bf8f65"/>
<rect x="1035.79" y="289.20" width="6.51" height="25.20" fill="#ba8d6a"/>
<rect x="1041.99" y="289.20" width="12.51" height="25.20" fill="#c59161"/>
<rect x="669.80" y="314.10" width="12.51" height="25.20" fill="#305d9d"/>
<rect x="682.01" y="314.10" width="6.51" height="25.20" fill="#315e9f"/>
<rect x="688.21" y="314.10" width="6.51" height="25.20" fill="#2e5b9a"/>
<rect x="694.42" y="314.10" width="6.51" height="25.20" fill="#3560a3"/>
<rect x="700.63" y="314.10" width="6.51" height="25.20" fill="#305d9e"/>
<rect x="706.83" y="314.10" width="6.51" height="25.20" fill="#4167ab"/>
<rect x="713.04" y="314.10" width="6.51" height="25.20" fill="#3963a8"/>
<rect x="719.25" y="314.10" width="6.51" height="25.20" fill="#305d9d"/>
<rect x="725.45" y="314.10" width="6.51" height="25.20" fill="#325fa0"/>
<rect x="731.66" y="314.10" width="6.51" height="25.20" fill="#4067aa"/>
<rect x="737.87" y="314.10" width="6.51" height="25.20" fill="#5470ac"/>
<rect x="744.07" y="314.10" width="6.51" height="25.20" fill="#5c72a7"/>
<rect x="750.28" y="314.10" width="6.51" height="25.20" fill="#3f66aa"/>
<rect x="756.49" y="314.10" width="6.51" height="25.20" fill="#3e66aa"/>
<rect x="762.69" y="314.10" width="6.51" height="25.20" fill="#5971a9"/>
<rect x="768.90" y="314.10" width="6.51" height="25.20" fill="#6173a4"/>
<rect x="775.11" y="314.10" width="6.51" height="25.20" fill="#5470ac"/>
<rect x="781.31" y="314.10" width="6.51" height="25.20" fill="#4c6cab"/>
<rect x="787.52" y="314.10" width="6.51" height="25.20" fill="#6e759c"/>
<rect x="793.73" y="314.10" width="6.51" height="25.20" fill="#4268ab"/>
<rect x="799.93" y="314.10" width="6.51" height="25.20" fill="#5871aa"/>
<rect x="806.14" y="314.10" width="6.51" height="25.20" fill="#6b759e"/>
<rect x="812.35" y="314.10" width="6.51" height="25.20" fill="#a1847a"/>
<rect x="818.55" y="314.10" width="6.51" height="25.20" fill="#867b8d"/>
<rect x="824.76" y="314.10" width="6.51" height="25.20" fill="#a1847a"/>
<rect x="830.97" y="314.10" width="6.51" height="25.20" fill="#777796"/>
<rect x="837.17" y="314.10" width="6.51" height="25.20" fill="#5d72a6"/>
<rect x="843.38" y="314.10" width="6.51" height="25.20" fill="#6072a5"/>
<rect x="849.59" y="314.10" width="6.51" height="25.20" fill="#ac8873"/>
<rect x="855.79" y="314.10" width="6.51" height="25.20" fill="#937f84"/>
<rect x="862.00" y="314.10" width="6.51" height="25.20" fill="#69749f"/>
<rect x="868.21" y="314.10" width="6.51" height="25.20" fill="#4e6dac"/>
<rect x="874.41" y="314.10" width="6.51" height="25.20" fill="#807990"/>
<rect x="880.62" y="314.10" width="6.51" height="25.20" fill="#948083"/>
<rect x="886.83" y="314.10" width="6.51" height="25.20" fill="#7a7894"/>
<rect x="893.03" y="314.10" width="6.51" height="25.20" fill="#69749f"/>
<rect x="899.24" y="314.10" width="6.51" height="25.20" fill="#968082"/>
<rect x="905.45" y="314.10" width="6.51" height="25.20" fill="#b28a6f"/>
<rect x="911.65" y="314.10" width="6.51" height="25.20" fill="#6a759e"/>
<rect x="917.86" y="314.10" width="6.51" height="25.20" fill="#5670ab"/>
<rect x="924.07" y="314.10" width="6.51" height="25.20" fill="#797895"/>
<rect x="930.27" y="314.10" width="6.51" height="25.20" fill="#847a8e"/>
<rect x="936.48" y="314.10" width="6.51" height="25.20" fill="#a1847b"/>
<rect x="942.69" y="314.10" width="6.51" height="25.20" fill="#6f769b"/>
<rect x="948.89" y="314.10" width="6.51" height="25.20" fill="#af8971"/>
<rect x="955.10" y="314.10" width="6.51" height="25.20" fill="#ab8874"/>
<rect x="961.31" y="314.10" width="6.51" height="25.20" fill="#948083"/>
<rect x="967.51" y="314.10" width="6.51" height="25.20" fill="#767797"/>
<rect x="973.72" y="314.10" width="6.51" height="25.20" fill="#c59161"/>
<rect x="979.93" y="314.10" width="6.51" height="25.20" fill="#847a8e"/>
<rect x="986.13" y="314.10" width="6.51" height="25.20" fill="#b98d6a"/>
<rect x="992.34" y="314.10" width="6.51" height="25.20" fill="#7c7893"/>
<rect x="998.55" y="314.10" width="6.51" height="25.20" fill="#7c7893"/>
<rect x="1004.75" y="314.10" width="6.51" height="25.20" fill="#b58b6d"/>
<rect x="1010.96" y="314.10" width="6.51" height="25.20" fill="#867b8d"/>
<rect x="1017.17" y="314.10" width="6.51" height="25.20" fill="#c8925f"/>
<rect x="1023.37" y="314.10" width="6.51" height="25.20" fill="#9c837e"/>
<rect x="1029.58" y="314.10" width="6.51" height="25.20" fill="#7c7893"/>
<rect x="1035.79" y="314.10" width="6.51" height="25.20" fill="#817990"/>
<rect x="1041.99" y="314.10" width="12.51" height="25.20" fill="#968082"/>
<rect x="669.80" y="339.00" width="12.51" height="25.20" fill="#325ea0"/>
<rect x="682.01" y="339.00" width="6.51" height="25.20" fill="#3561a4"/>
<rect x="688.21" y="339.00" width="6.51" height="25.20" fill="#305d9c"/>
<rect x="694.42" y="339.00" width="6.51" height="25.20" fill="#335fa0"/>
<rect x="700.63" y="339.00" width="6.51" height="25.20" fill="#3561a4"/>
<rect x="706.83" y="339.00" width="6.51" height="25.20" fill="#5670ab"/>
<rect x="713.04" y="339.00" width="6.51" height="25.20" fill="#3f66aa"/>
<rect x="719.25" y="339.00" width="6.51" height="25.20" fill="#3c65aa"/>
<rect x="725.45" y="339.00" width="6.51" height="25.20" fill="#3d65aa"/>
<rect x="731.66" y="339.00" width="6.51" height="25.20" fill="#4c6cab"/>
<rect x="737.87" y="339.00" width="6.51" height="25.20" fill="#6b759e"/>
<rect x="744.07" y="339.00" width="6.51" height="25.20" fill="#6d759c"/>
<rect x="750.28" y="339.00" width="6.51" height="25.20" fill="#6574a1"/>
<rect x="756.49" y="339.00" width="6.51" height="25.20" fill="#7c7893"/>
<rect x="762.69" y="339.00" width="6.51" height="25.20" fill="#7a7894"/>
<rect x="768.90" y="339.00" width="6.51" height="25.20" fill="#4e6dac"/>
<rect x="775.11" y="339.00" width="6.51" height="25.20" fill="#466aab"/>
<rect x="781.31" y="339.00" width="6.51" height="25.20" fill="#847a8e"/>
<rect x="787.52" y="339.00" width="6.51" height="25.20" fill="#767797"/>
<rect x="793.73" y="339.00" width="6.51" height="25.20" fill="#4067aa"/>
<rect x="799.93" y="339.00" width="6.51" height="25.20" fill="#777796"/>
<rect x="806.14" y="339.00" width="6.51" height="25.20" fill="#5e72a6"/>
<rect x="812.35" y="339.00" width="6.51" height="25.20" fill="#6073a4"/>
<rect x="818.55" y="339.00" width="6.51" height="25.20" fill="#5f72a5"/>
<rect x="824.76" y="339.00" width="6.51" height="25.20" fill="#516fac"/>
<rect x="830.97" y="339.00" width="6.51" height="25.20" fill="#4569ab"/>
<rect x="837.17" y="339.00" width="6.51" height="25.20" fill="#5e72a6"/>
<rect x="843.38" y="339.00" width="6.51" height="25.20" fill="#6874a0"/>
<rect x="849.59" y="339.00" width="6.51" height="25.20" fill="#a98775"/>
<rect x="855.79" y="339.00" width="6.51" height="25.20" fill="#526fac"/>
<rect x="862.00" y="339.00" width="6.51" height="25.20" fill="#ad8972"/>
<rect x="868.21" y="339.00" width="6.51" height="25.20" fill="#5d72a6"/>
<rect x="874.41" y="339.00" width="6.51" height="25.20" fill="#6f769b"/>
<rect x="880.62" y="339.00" width="6.51" height="25.20" fill="#a2857a"/>
<rect x="886.83" y="339.00" width="6.51" height="25.20" fill="#a38579"/>
<rect x="893.03" y="339.00" width="6.51" height="25.20" fill="#7c7893"/>
<rect x="899.24" y="339.00" width="6.51" height="25.20" fill="#5370ac"/>
<rect x="905.45" y="339.00" width="6.51" height="25.20" fill="#837a8f"/>
<rect x="911.65" y="339.00" width="6.51" height="25.20" fill="#797895"/>
<rect x="917.86" y="339.00" width="6.51" height="25.20" fill="#b38b6e"/>
<rect x="924.07" y="339.00" width="6.51" height="25.20" fill="#6874a0"/>
<rect x="930.27" y="339.00" width="6.51" height="25.20" fill="#7c7893"/>
<rect x="936.48" y="339.00" width="6.51" height="25.20" fill="#b48b6d"/>
<rect x="942.69" y="339.00" width="6.51" height="25.20" fill="#5971a9"/>
<rect x="948.89" y="339.00" width="6.51" height="25.20" fill="#847a8e"/>
<rect x="955.10" y="339.00" width="6.51" height="25.20" fill="#af8971"/>
<rect x="961.31" y="339.00" width="6.51" height="25.20" fill="#ab8873"/>
<rect x="967.51" y="339.00" width="6.51" height="25.20" fill="#5f72a5"/>
<rect x="973.72" y="339.00" width="6.51" height="25.20" fill="#6072a5"/>
<rect x="979.93" y="339.00" width="6.51" height="25.20" fill="#6473a2"/>
<rect x="986.13" y="339.00" width="6.51" height="25.20" fill="#bf8f66"/>
<rect x="992.34" y="339.00" width="6.51" height="25.20" fill="#7c7893"/>
<rect x="998.55" y="339.00" width="6.51" height="25.20" fill="#b08a70"/>
<rect x="1004.75" y="339.00" width="6.51" height="25.20" fill="#c08f65"/>
<rect x="1010.96" y="339.00" width="6.51" height="25.20" fill="#887b8b"/>
<rect x="1017.17" y="339.00" width="6.51" height="25.20" fill="#827a8f"/>
<rect x="1023.37" y="339.00" width="6.51" height="25.20" fill="#c8925f"/>
<rect x="1029.58" y="339.00" width="6.51" height="25.20" fill="#a88775"/>
<rect x="1035.79" y="339.00" width="6.51" height="25.20" fill="#857a8e"/>
<rect x="1041.99" y="339.00" width="12.51" height="25.20" fill="#b58b6d"/>
<rect x="669.80" y="363.90" width="12.51" height="25.20" fill="#305d9d"/>
<rect x="682.01" y="363.90" width="6.51" height="25.20" fill="#325e9f"/>
<rect x="688.21" y="363.90" width="6.51" height="25.20" fill="#325e9f"/>
<rect x="694.42" y="363.90" width="6.51" height="25.20" fill="#3c65aa"/>
<rect x="700.63" y="363.90" width="6.51" height="25.20" fill="#4368ab"/>
<rect x="706.83" y="363.90" width="6.51" height="25.20" fill="#4669ab"/>
<rect x="713.04" y="363.90" width="6.51" height="25.20" fill="#526fac"/>
<rect x="719.25" y="363.90" width="6.51" height="25.20" fill="#315e9e"/>
<rect x="725.45" y="363.90" width="6.51" height="25.20" fill="#3863a7"/>
<rect x="731.66" y="363.90" width="6.51" height="25.20" fill="#4268ab"/>
<rect x="737.87" y="363.90" width="6.51" height="25.20" fill="#5b71a8"/>
<rect x="744.07" y="363.90" width="6.51" height="25.20" fill="#5d72a7"/>
<rect x="750.28" y="363.90" width="6.51" height="25.20" fill="#3f66aa"/>
<rect x="756.49" y="363.90" width="6.51" height="25.20" fill="#3963a8"/>
<rect x="762.69" y="363.90" width="6.51" height="25.20" fill="#4268ab"/>
<rect x="768.90" y="363.90" width="6.51" height="25.20" fill="#466aab"/>
<rect x="775.11" y="363.90" width="6.51" height="25.20" fill="#6e759c"/>
<rect x="781.31" y="363.90" width="6.51" height="25.20" fill="#4c6cab"/>
<rect x="787.52" y="363.90" width="6.51" height="25.20" fill="#8f7e87"/>
<rect x="793.73" y="363.90" width="6.51" height="25.20" fill="#8b7c89"/>
<rect x="799.93" y="363.90" width="6.51" height="25.20" fill="#948083"/>
<rect x="806.14" y="363.90" width="6.51" height="25.20" fill="#917f85"/>
<rect x="812.35" y="363.90" width="6.51" height="25.20" fill="#837a8f"/>
<rect x="818.55" y="363.90" width="6.51" height="25.20" fill="#6674a1"/>
<rect x="824.76" y="363.90" width="6.51" height="25.20" fill="#6574a1"/>
<rect x="830.97" y="363.90" width="6.51" height="25.20" fill="#6b759e"/>
<rect x="837.17" y="363.90" width="6.51" height="25.20" fill="#998180"/>
<rect x="843.38" y="363.90" width="6.51" height="25.20" fill="#506eac"/>
<rect x="849.59" y="363.90" width="6.51" height="25.20" fill="#5c72a7"/>
<rect x="855.79" y="363.90" width="6.51" height="25.20" fill="#988180"/>
<rect x="862.00" y="363.90" width="6.51" height="25.20" fill="#6373a3"/>
<rect x="868.21" y="363.90" width="6.51" height="25.20" fill="#516fac"/>
<rect x="874.41" y="363.90" width="6.51" height="25.20" fill="#4f6eac"/>
<rect x="880.62" y="363.90" width="6.51" height="25.20" fill="#877b8c"/>
<rect x="886.83" y="363.90" width="6.51" height="25.20" fill="#6f769b"/>
<rect x="893.03" y="363.90" width="6.51" height="25.20" fill="#b58c6d"/>
<rect x="899.24" y="363.90" width="6.51" height="25.20" fill="#ac8873"/>
<rect x="905.45" y="363.90" width="6.51" height="25.20" fill="#b88d6b"/>
<rect x="911.65" y="363.90" width="6.51" height="25.20" fill="#6d759c"/>
<rect x="917.86" y="363.90" width="6.51" height="25.20" fill="#5a71a8"/>
<rect x="924.07" y="363.90" width="6.51" height="25.20" fill="#5d72a7"/>
<rect x="930.27" y="363.90" width="6.51" height="25.20" fill="#8a7c8a"/>
<rect x="936.48" y="363.90" width="6.51" height="25.20" fill="#a1847b"/>
<rect x="942.69" y="363.90" width="6.51" height="25.20" fill="#877b8c"/>
<rect x="948.89" y="363.90" width="6.51" height="25.20" fill="#797895"/>
<rect x="955.10" y="363.90" width="6.51" height="25.20" fill="#dc9950"/>
<rect x="961.31" y="363.90" width="6.51" height="25.20" fill="#b38b6e"/>
<rect x="967.51" y="363.90" width="6.51" height="25.20" fill="#9f847c"/>
<rect x="973.72" y="363.90" width="6.51" height="25.20" fill="#a78676"/>
<rect x="979.93" y="363.90" width="6.51" height="25.20" fill="#b18a6f"/>
<rect x="986.13" y="363.90" width="6.51" height="25.20" fill="#9f837c"/>
<rect x="992.34" y="363.90" width="6.51" height="25.20" fill="#6573a2"/>
<rect x="998.55" y="363.90" width="6.51" height="25.20" fill="#b18a6f"/>
<rect x="1004.75" y="363.90" width="6.51" height="25.20" fill="#787895"/>
<rect x="1010.96" y="363.90" width="6.51" height="25.20" fill="#958082"/>
<rect x="1017.17" y="363.90" width="6.51" height="25.20" fill="#817990"/>
<rect x="1023.37" y="363.90" width="6.51" height="25.20" fill="#a78776"/>
<rect x="1029.58" y="363.90" width="6.51" height="25.20" fill="#6e759c"/>
<rect x="1035.79" y="363.90" width="6.51" height="25.20" fill="#747798"/>
<rect x="1041.99" y="363.90" width="12.51" height="25.20" fill="#747798"/>
<rect x="669.80" y="388.80" width="12.51" height="11.20" fill="#325fa0"/>
<rect x="682.01" y="388.80" width="6.51" height="11.20" fill="#3b64aa"/>
<rect x="688.21" y="388.80" width="6.51" height="11.20" fill="#3a64aa"/>
<rect x="694.42" y="388.80" width="6.51" height="11.20" fill="#3a64aa"/>
<rect x="700.63" y="388.80" width="6.51" height="11.20" fill="#6a759e"/>
<rect x="706.83" y="388.80" width="6.51" height="11.20" fill="#988181"/>
<rect x="713.04" y="388.80" width="6.51" height="11.20" fill="#817990"/>
<rect x="719.25" y="388.80" width="6.51" height="11.20" fill="#737699"/>
<rect x="725.45" y="388.80" width="6.51" height="11.20" fill="#958083"/>
<rect x="731.66" y="388.80" width="6.51" height="11.20" fill="#8d7d88"/>
<rect x="737.87" y="388.80" width="6.51" height="11.20" fill="#a48578"/>
<rect x="744.07" y="388.80" width="6.51" height="11.20" fill="#6b759e"/>
<rect x="750.28" y="388.80" width="6.51" height="11.20" fill="#867b8d"/>
<rect x="756.49" y="388.80" width="6.51" height="11.20" fill="#9f847c"/>
<rect x="762.69" y="388.80" width="6.51" height="11.20" fill="#a38579"/>
<rect x="768.90" y="388.80" width="6.51" height="11.20" fill="#ab8874"/>
<rect x="775.11" y="388.80" width="6.51" height="11.20" fill="#6473a2"/>
<rect x="781.31" y="388.80" width="6.51" height="11.20" fill="#7b7894"/>
<rect x="787.52" y="388.80" width="6.51" height="11.20" fill="#6c759d"/>
<rect x="793.73" y="388.80" width="6.51" height="11.20" fill="#757798"/>
<rect x="799.93" y="388.80" width="6.51" height="11.20" fill="#bf8f65"/>
<rect x="806.14" y="388.80" width="6.51" height="11.20" fill="#9f847b"/>
<rect x="812.35" y="388.80" width="6.51" height="11.20" fill="#c39163"/>
<rect x="818.55" y="388.80" width="6.51" height="11.20" fill="#907e86"/>
<rect x="824.76" y="388.80" width="6.51" height="11.20" fill="#c49162"/>
<rect x="830.97" y="388.80" width="6.51" height="11.20" fill="#9e837c"/>
<rect x="837.17" y="388.80" width="6.51" height="11.20" fill="#8e7d87"/>
<rect x="843.38" y="388.80" width="6.51" height="11.20" fill="#c49162"/>
<rect x="849.59" y="388.80" width="6.51" height="11.20" fill="#d59756"/>
<rect x="855.79" y="388.80" width="6.51" height="11.20" fill="#877b8c"/>
<rect x="862.00" y="388.80" width="6.51" height="11.20" fill="#bb8e68"/>
<rect x="868.21" y="388.80" width="6.51" height="11.20" fill="#bf8f66"/>
<rect x="874.41" y="388.80" width="6.51" height="11.20" fill="#978181"/>
<rect x="880.62" y="388.80" width="6.51" height="11.20" fill="#a88775"/>
<rect x="886.83" y="388.80" width="6.51" height="11.20" fill="#937f84"/>
<rect x="893.03" y="388.80" width="6.51" height="11.20" fill="#9b827f"/>
<rect x="899.24" y="388.80" width="6.51" height="11.20" fill="#a1847a"/>
<rect x="905.45" y="388.80" width="6.51" height="11.20" fill="#c49162"/>
<rect x="911.65" y="388.80" width="6.51" height="11.20" fill="#ca935e"/>
<rect x="917.86" y="388.80" width="6.51" height="11.20" fill="#a0847b"/>
<rect x="924.07" y="388.80" width="6.51" height="11.20" fill="#8e7e87"/>
<rect x="930.27" y="388.80" width="6.51" height="11.20" fill="#b08a70"/>
<rect x="936.48" y="388.80" width="6.51" height="11.20" fill="#d19558"/>
<rect x="942.69" y="388.80" width="6.51" height="11.20" fill="#a58678"/>
<rect x="948.89" y="388.80" width="6.51" height="11.20" fill="#b38b6e"/>
<rect x="955.10" y="388.80" width="6.51" height="11.20" fill="#a98775"/>
<rect x="961.31" y="388.80" width="6.51" height="11.20" fill="#df9a4e"/>
<rect x="967.51" y="388.80" width="6.51" height="11.20" fill="#ca935d"/>
<rect x="973.72" y="388.80" width="6.51" height="11.20" fill="#9c837e"/>
<rect x="979.93" y="388.80" width="6.51" height="11.20" fill="#a1847a"/>
<rect x="986.13" y="388.80" width="6.51" height="11.20" fill="#bf8f66"/>
<rect x="992.34" y="388.80" width="6.51" height="11.20" fill="#cd945c"/>
<rect x="998.55" y="388.80" width="6.51" height="11.20" fill="#d59756"/>
<rect x="1004.75" y="388.80" width="6.51" height="11.20" fill="#a2857a"/>
<rect x="1010.96" y="388.80" width="6.51" height="11.20" fill="#aa8874"/>
<rect x="1017.17" y="388.80" width="6.51" height="11.20" fill="#db9951"/>
<rect x="1023.37" y="388.80" width="6.51" height="11.20" fill="#c39163"/>
<rect x="1029.58" y="388.80" width="6.51" height="11.20" fill="#b88d6a"/>
<rect x="1035.79" y="388.80" width="6.51" height="11.20" fill="#bb8e68"/>
<rect x="1041.99" y="388.80" width="12.51" height="11.20" fill="#eba24b"/>
</g></g>
<g clip-path="url(#ctr)"><g filter="url(#bx2)">
<rect x="1085" y="20" width="400" height="390" fill="#3a64aa"/>
<rect x="1093.90" y="28.00" width="16.21" height="37.40" fill="#2a5995"/>
<rect x="1109.81" y="28.00" width="10.21" height="37.40" fill="#315e9e"/>
<rect x="1119.71" y="28.00" width="10.21" height="37.40" fill="#2c5a98"/>
<rect x="1129.62" y="28.00" width="10.21" height="37.40" fill="#2e5c9a"/>
<rect x="1139.52" y="28.00" width="10.21" height="37.40" fill="#3964a9"/>
<rect x="1149.43" y="28.00" width="10.21" height="37.40" fill="#3d66aa"/>
<rect x="1159.33" y="28.00" width="10.21" height="37.40" fill="#2e5c9a"/>
<rect x="1169.24" y="28.00" width="10.21" height="37.40" fill="#2a5996"/>
<rect x="1179.14" y="28.00" width="10.21" height="37.40" fill="#3862a7"/>
<rect x="1189.05" y="28.00" width="10.21" height="37.40" fill="#2b5a97"/>
<rect x="1198.95" y="28.00" width="10.21" height="37.40" fill="#275791"/>
<rect x="1208.86" y="28.00" width="10.21" height="37.40" fill="#3e66aa"/>
<rect x="1218.76" y="28.00" width="10.21" height="37.40" fill="#325ea0"/>
<rect x="1228.67" y="28.00" width="10.21" height="37.40" fill="#3d65aa"/>
<rect x="1238.57" y="28.00" width="10.21" height="37.40" fill="#3460a3"/>
<rect x="1248.48" y="28.00" width="10.21" height="37.40" fill="#4368ab"/>
<rect x="1258.38" y="28.00" width="10.21" height="37.40" fill="#3a64aa"/>
<rect x="1268.29" y="28.00" width="10.21" height="37.40" fill="#3661a4"/>
<rect x="1278.19" y="28.00" width="10.21" height="37.40" fill="#4c6cab"/>
<rect x="1288.10" y="28.00" width="10.21" height="37.40" fill="#4569ab"/>
<rect x="1298.01" y="28.00" width="10.21" height="37.40" fill="#486aab"/>
<rect x="1307.91" y="28.00" width="10.21" height="37.40" fill="#506eac"/>
<rect x="1317.82" y="28.00" width="10.21" height="37.40" fill="#3964a9"/>
<rect x="1327.72" y="28.00" width="10.21" height="37.40" fill="#486bab"/>
<rect x="1337.63" y="28.00" width="10.21" height="37.40" fill="#4167ab"/>
<rect x="1347.53" y="28.00" width="10.21" height="37.40" fill="#4569ab"/>
<rect x="1357.44" y="28.00" width="10.21" height="37.40" fill="#3c65aa"/>
<rect x="1367.34" y="28.00" width="10.21" height="37.40" fill="#4067aa"/>
<rect x="1377.25" y="28.00" width="10.21" height="37.40" fill="#476aab"/>
<rect x="1387.15" y="28.00" width="10.21" height="37.40" fill="#526fac"/>
<rect x="1397.06" y="28.00" width="10.21" height="37.40" fill="#3c65aa"/>
<rect x="1406.96" y="28.00" width="10.21" height="37.40" fill="#466aab"/>
<rect x="1416.87" y="28.00" width="10.21" height="37.40" fill="#4f6eac"/>
<rect x="1426.77" y="28.00" width="10.21" height="37.40" fill="#887b8b"/>
<rect x="1436.68" y="28.00" width="10.21" height="37.40" fill="#4167ab"/>
<rect x="1446.58" y="28.00" width="10.21" height="37.40" fill="#3e66aa"/>
<rect x="1456.49" y="28.00" width="10.21" height="37.40" fill="#5670ab"/>
<rect x="1466.39" y="28.00" width="16.21" height="37.40" fill="#5871a9"/>
<rect x="1093.90" y="65.10" width="16.21" height="25.20" fill="#315e9f"/>
<rect x="1109.81" y="65.10" width="10.21" height="25.20" fill="#275791"/>
<rect x="1119.71" y="65.10" width="10.21" height="25.20" fill="#3d65aa"/>
<rect x="1129.62" y="65.10" width="10.21" height="25.20" fill="#305d9d"/>
<rect x="1139.52" y="65.10" width="10.21" height="25.20" fill="#3d65aa"/>
<rect x="1149.43" y="65.10" width="10.21" height="25.20" fill="#3661a5"/>
<rect x="1159.33" y="65.10" width="10.21" height="25.20" fill="#3b65aa"/>
<rect x="1169.24" y="65.10" width="10.21" height="25.20" fill="#2b5a97"/>
<rect x="1179.14" y="65.10" width="10.21" height="25.20" fill="#3b64aa"/>
<rect x="1189.05" y="65.10" width="10.21" height="25.20" fill="#2e5b9a"/>
<rect x="1198.95" y="65.10" width="10.21" height="25.20" fill="#325fa0"/>
<rect x="1208.86" y="65.10" width="10.21" height="25.20" fill="#3e66aa"/>
<rect x="1218.76" y="65.10" width="10.21" height="25.20" fill="#3e66aa"/>
<rect x="1228.67" y="65.10" width="10.21" height="25.20" fill="#2e5b9a"/>
<rect x="1238.57" y="65.10" width="10.21" height="25.20" fill="#2f5c9c"/>
<rect x="1248.48" y="65.10" width="10.21" height="25.20" fill="#3460a2"/>
<rect x="1258.38" y="65.10" width="10.21" height="25.20" fill="#3762a6"/>
<rect x="1268.29" y="65.10" width="10.21" height="25.20" fill="#3460a2"/>
<rect x="1278.19" y="65.10" width="10.21" height="25.20" fill="#2e5b9a"/>
<rect x="1288.10" y="65.10" width="10.21" height="25.20" fill="#315e9f"/>
<rect x="1298.01" y="65.10" width="10.21" height="25.20" fill="#3e66aa"/>
<rect x="1307.91" y="65.10" width="10.21" height="25.20" fill="#4469ab"/>
<rect x="1317.82" y="65.10" width="10.21" height="25.20" fill="#2f5c9b"/>
<rect x="1327.72" y="65.10" width="10.21" height="25.20" fill="#3c65aa"/>
<rect x="1337.63" y="65.10" width="10.21" height="25.20" fill="#4368ab"/>
<rect x="1347.53" y="65.10" width="10.21" height="25.20" fill="#315e9e"/>
<rect x="1357.44" y="65.10" width="10.21" height="25.20" fill="#476aab"/>
<rect x="1367.34" y="65.10" width="10.21" height="25.20" fill="#3460a3"/>
<rect x="1377.25" y="65.10" width="10.21" height="25.20" fill="#4268ab"/>
<rect x="1387.15" y="65.10" width="10.21" height="25.20" fill="#4167ab"/>
<rect x="1397.06" y="65.10" width="10.21" height="25.20" fill="#4469ab"/>
<rect x="1406.96" y="65.10" width="10.21" height="25.20" fill="#3c65aa"/>
<rect x="1416.87" y="65.10" width="10.21" height="25.20" fill="#4067aa"/>
<rect x="1426.77" y="65.10" width="10.21" height="25.20" fill="#4569ab"/>
<rect x="1436.68" y="65.10" width="10.21" height="25.20" fill="#4669ab"/>
<rect x="1446.58" y="65.10" width="10.21" height="25.20" fill="#5b71a8"/>
<rect x="1456.49" y="65.10" width="10.21" height="25.20" fill="#5f72a5"/>
<rect x="1466.39" y="65.10" width="16.21" height="25.20" fill="#6373a3"/>
<rect x="1093.90" y="90.00" width="16.21" height="25.20" fill="#295894"/>
<rect x="1109.81" y="90.00" width="10.21" height="25.20" fill="#3862a7"/>
<rect x="1119.71" y="90.00" width="10.21" height="25.20" fill="#3560a3"/>
<rect x="1129.62" y="90.00" width="10.21" height="25.20" fill="#2f5c9c"/>
<rect x="1139.52" y="90.00" width="10.21" height="25.20" fill="#3c65aa"/>
<rect x="1149.43" y="90.00" width="10.21" height="25.20" fill="#3d65aa"/>
<rect x="1159.33" y="90.00" width="10.21" height="25.20" fill="#3561a4"/>
<rect x="1169.24" y="90.00" width="10.21" height="25.20" fill="#2f5c9b"/>
<rect x="1179.14" y="90.00" width="10.21" height="25.20" fill="#3661a5"/>
<rect x="1189.05" y="90.00" width="10.21" height="25.20" fill="#2e5b9a"/>
<rect x="1198.95" y="90.00" width="10.21" height="25.20" fill="#2e5c9b"/>
<rect x="1208.86" y="90.00" width="10.21" height="25.20" fill="#3661a5"/>
<rect x="1218.76" y="90.00" width="10.21" height="25.20" fill="#2e5c9b"/>
<rect x="1228.67" y="90.00" width="10.21" height="25.20" fill="#3762a6"/>
<rect x="1238.57" y="90.00" width="10.21" height="25.20" fill="#3963a9"/>
<rect x="1248.48" y="90.00" width="10.21" height="25.20" fill="#2e5b9a"/>
<rect x="1258.38" y="90.00" width="10.21" height="25.20" fill="#3d65aa"/>
<rect x="1268.29" y="90.00" width="10.21" height="25.20" fill="#2f5d9c"/>
<rect x="1278.19" y="90.00" width="10.21" height="25.20" fill="#4067aa"/>
<rect x="1288.10" y="90.00" width="10.21" height="25.20" fill="#4268ab"/>
<rect x="1298.01" y="90.00" width="10.21" height="25.20" fill="#3b65aa"/>
<rect x="1307.91" y="90.00" width="10.21" height="25.20" fill="#315d9e"/>
<rect x="1317.82" y="90.00" width="10.21" height="25.20" fill="#3c65aa"/>
<rect x="1327.72" y="90.00" width="10.21" height="25.20" fill="#3a64a9"/>
<rect x="1337.63" y="90.00" width="10.21" height="25.20" fill="#4a6bab"/>
<rect x="1347.53" y="90.00" width="10.21" height="25.20" fill="#3560a3"/>
<rect x="1357.44" y="90.00" width="10.21" height="25.20" fill="#496bab"/>
<rect x="1367.34" y="90.00" width="10.21" height="25.20" fill="#4d6dab"/>
<rect x="1377.25" y="90.00" width="10.21" height="25.20" fill="#476aab"/>
<rect x="1387.15" y="90.00" width="10.21" height="25.20" fill="#496bab"/>
<rect x="1397.06" y="90.00" width="10.21" height="25.20" fill="#3963a9"/>
<rect x="1406.96" y="90.00" width="10.21" height="25.20" fill="#4f6eac"/>
<rect x="1416.87" y="90.00" width="10.21" height="25.20" fill="#4268ab"/>
<rect x="1426.77" y="90.00" width="10.21" height="25.20" fill="#506eac"/>
<rect x="1436.68" y="90.00" width="10.21" height="25.20" fill="#5470ac"/>
<rect x="1446.58" y="90.00" width="10.21" height="25.20" fill="#4f6dac"/>
<rect x="1456.49" y="90.00" width="10.21" height="25.20" fill="#747798"/>
<rect x="1466.39" y="90.00" width="16.21" height="25.20" fill="#7c7893"/>
<rect x="1093.90" y="114.90" width="16.21" height="25.20" fill="#275791"/>
<rect x="1109.81" y="114.90" width="10.21" height="25.20" fill="#2e5c9b"/>
<rect x="1119.71" y="114.90" width="10.21" height="25.20" fill="#3963a8"/>
<rect x="1129.62" y="114.90" width="10.21" height="25.20" fill="#2b5996"/>
<rect x="1139.52" y="114.90" width="10.21" height="25.20" fill="#3e66aa"/>
<rect x="1149.43" y="114.90" width="10.21" height="25.20" fill="#2e5c9b"/>
<rect x="1159.33" y="114.90" width="10.21" height="25.20" fill="#3c65aa"/>
<rect x="1169.24" y="114.90" width="10.21" height="25.20" fill="#2c5a98"/>
<rect x="1179.14" y="114.90" width="10.21" height="25.20" fill="#3561a4"/>
<rect x="1189.05" y="114.90" width="10.21" height="25.20" fill="#4167ab"/>
<rect x="1198.95" y="114.90" width="10.21" height="25.20" fill="#2f5c9c"/>
<rect x="1208.86" y="114.90" width="10.21" height="25.20" fill="#315e9e"/>
<rect x="1218.76" y="114.90" width="10.21" height="25.20" fill="#3762a6"/>
<rect x="1228.67" y="114.90" width="10.21" height="25.20" fill="#335fa1"/>
<rect x="1238.57" y="114.90" width="10.21" height="25.20" fill="#2d5b99"/>
<rect x="1248.48" y="114.90" width="10.21" height="25.20" fill="#315d9e"/>
<rect x="1258.38" y="114.90" width="10.21" height="25.20" fill="#315d9e"/>
<rect x="1268.29" y="114.90" width="10.21" height="25.20" fill="#4569ab"/>
<rect x="1278.19" y="114.90" width="10.21" height="25.20" fill="#3f66aa"/>
<rect x="1288.10" y="114.90" width="10.21" height="25.20" fill="#4569ab"/>
<rect x="1298.01" y="114.90" width="10.21" height="25.20" fill="#335fa1"/>
<rect x="1307.91" y="114.90" width="10.21" height="25.20" fill="#4469ab"/>
<rect x="1317.82" y="114.90" width="10.21" height="25.20" fill="#335fa1"/>
<rect x="1327.72" y="114.90" width="10.21" height="25.20" fill="#3f66aa"/>
<rect x="1337.63" y="114.90" width="10.21" height="25.20" fill="#4268ab"/>
<rect x="1347.53" y="114.90" width="10.21" height="25.20" fill="#3c65aa"/>
<rect x="1357.44" y="114.90" width="10.21" height="25.20" fill="#4b6cab"/>
<rect x="1367.34" y="114.90" width="10.21" height="25.20" fill="#4368ab"/>
<rect x="1377.25" y="114.90" width="10.21" height="25.20" fill="#4469ab"/>
<rect x="1387.15" y="114.90" width="10.21" height="25.20" fill="#4e6dac"/>
<rect x="1397.06" y="114.90" width="10.21" height="25.20" fill="#3c65aa"/>
<rect x="1406.96" y="114.90" width="10.21" height="25.20" fill="#8a7c8a"/>
<rect x="1416.87" y="114.90" width="10.21" height="25.20" fill="#506eac"/>
<rect x="1426.77" y="114.90" width="10.21" height="25.20" fill="#5e72a6"/>
<rect x="1436.68" y="114.90" width="10.21" height="25.20" fill="#8a7c8a"/>
<rect x="1446.58" y="114.90" width="10.21" height="25.20" fill="#6f769b"/>
<rect x="1456.49" y="114.90" width="10.21" height="25.20" fill="#6072a5"/>
<rect x="1466.39" y="114.90" width="16.21" height="25.20" fill="#4368ab"/>
<rect x="1093.90" y="139.80" width="16.21" height="25.20" fill="#2e5c9b"/>
<rect x="1109.81" y="139.80" width="10.21" height="25.20" fill="#3863a8"/>
<rect x="1119.71" y="139.80" width="10.21" height="25.20" fill="#315e9e"/>
<rect x="1129.62" y="139.80" width="10.21" height="25.20" fill="#2b5a97"/>
<rect x="1139.52" y="139.80" width="10.21" height="25.20" fill="#3963a9"/>
<rect x="1149.43" y="139.80" width="10.21" height="25.20" fill="#295894"/>
<rect x="1159.33" y="139.80" width="10.21" height="25.20" fill="#3c65aa"/>
<rect x="1169.24" y="139.80" width="10.21" height="25.20" fill="#2f5c9b"/>
<rect x="1179.14" y="139.80" width="10.21" height="25.20" fill="#3863a8"/>
<rect x="1189.05" y="139.80" width="10.21" height="25.20" fill="#4268ab"/>
<rect x="1198.95" y="139.80" width="10.21" height="25.20" fill="#3862a7"/>
<rect x="1208.86" y="139.80" width="10.21" height="25.20" fill="#3a64aa"/>
<rect x="1218.76" y="139.80" width="10.21" height="25.20" fill="#325ea0"/>
<rect x="1228.67" y="139.80" width="10.21" height="25.20" fill="#2b5996"/>
<rect x="1238.57" y="139.80" width="10.21" height="25.20" fill="#2c5a98"/>
<rect x="1248.48" y="139.80" width="10.21" height="25.20" fill="#2f5c9c"/>
<rect x="1258.38" y="139.80" width="10.21" height="25.20" fill="#3b65aa"/>
<rect x="1268.29" y="139.80" width="10.21" height="25.20" fill="#3762a6"/>
<rect x="1278.19" y="139.80" width="10.21" height="25.20" fill="#3964a9"/>
<rect x="1288.10" y="139.80" width="10.21" height="25.20" fill="#4469ab"/>
<rect x="1298.01" y="139.80" width="10.21" height="25.20" fill="#315e9e"/>
<rect x="1307.91" y="139.80" width="10.21" height="25.20" fill="#4d6dab"/>
<rect x="1317.82" y="139.80" width="10.21" height="25.20" fill="#807991"/>
<rect x="1327.72" y="139.80" width="10.21" height="25.20" fill="#6a759e"/>
<rect x="1337.63" y="139.80" width="10.21" height="25.20" fill="#6c759d"/>
<rect x="1347.53" y="139.80" width="10.21" height="25.20" fill="#7c7893"/>
<rect x="1357.44" y="139.80" width="10.21" height="25.20" fill="#3d65aa"/>
<rect x="1367.34" y="139.80" width="10.21" height="25.20" fill="#807991"/>
<rect x="1377.25" y="139.80" width="10.21" height="25.20" fill="#3c65aa"/>
<rect x="1387.15" y="139.80" width="10.21" height="25.20" fill="#7f7991"/>
<rect x="1397.06" y="139.80" width="10.21" height="25.20" fill="#526fac"/>
<rect x="1406.96" y="139.80" width="10.21" height="25.20" fill="#6574a1"/>
<rect x="1416.87" y="139.80" width="10.21" height="25.20" fill="#8e7e87"/>
<rect x="1426.77" y="139.80" width="10.21" height="25.20" fill="#6774a0"/>
<rect x="1436.68" y="139.80" width="10.21" height="25.20" fill="#3a64aa"/>
<rect x="1446.58" y="139.80" width="10.21" height="25.20" fill="#536fac"/>
<rect x="1456.49" y="139.80" width="10.21" height="25.20" fill="#4268ab"/>
<rect x="1466.39" y="139.80" width="16.21" height="25.20" fill="#4167ab"/>
<rect x="1093.90" y="164.70" width="16.21" height="25.20" fill="#285792"/>
<rect x="1109.81" y="164.70" width="10.21" height="25.20" fill="#3561a4"/>
<rect x="1119.71" y="164.70" width="10.21" height="25.20" fill="#3c65aa"/>
<rect x="1129.62" y="164.70" width="10.21" height="25.20" fill="#3a64a9"/>
<rect x="1139.52" y="164.70" width="10.21" height="25.20" fill="#315e9e"/>
<rect x="1149.43" y="164.70" width="10.21" height="25.20" fill="#2e5b9a"/>
<rect x="1159.33" y="164.70" width="10.21" height="25.20" fill="#285793"/>
<rect x="1169.24" y="164.70" width="10.21" height="25.20" fill="#3862a7"/>
<rect x="1179.14" y="164.70" width="10.21" height="25.20" fill="#3661a5"/>
<rect x="1189.05" y="164.70" width="10.21" height="25.20" fill="#315e9f"/>
<rect x="1198.95" y="164.70" width="10.21" height="25.20" fill="#3963a9"/>
<rect x="1208.86" y="164.70" width="10.21" height="25.20" fill="#3460a3"/>
<rect x="1218.76" y="164.70" width="10.21" height="25.20" fill="#4268ab"/>
<rect x="1228.67" y="164.70" width="10.21" height="25.20" fill="#3c65aa"/>
<rect x="1238.57" y="164.70" width="10.21" height="25.20" fill="#315e9e"/>
<rect x="1248.48" y="164.70" width="10.21" height="25.20" fill="#4268ab"/>
<rect x="1258.38" y="164.70" width="10.21" height="25.20" fill="#2e5c9a"/>
<rect x="1268.29" y="164.70" width="10.21" height="25.20" fill="#3c65aa"/>
<rect x="1278.19" y="164.70" width="10.21" height="25.20" fill="#3a64aa"/>
<rect x="1288.10" y="164.70" width="10.21" height="25.20" fill="#3762a6"/>
<rect x="1298.01" y="164.70" width="10.21" height="25.20" fill="#3460a3"/>
<rect x="1307.91" y="164.70" width="10.21" height="25.20" fill="#6c759d"/>
<rect x="1317.82" y="164.70" width="10.21" height="25.20" fill="#5871aa"/>
<rect x="1327.72" y="164.70" width="10.21" height="25.20" fill="#6d759c"/>
<rect x="1337.63" y="164.70" width="10.21" height="25.20" fill="#7c7893"/>
<rect x="1347.53" y="164.70" width="10.21" height="25.20" fill="#5b72a7"/>
<rect x="1357.44" y="164.70" width="10.21" height="25.20" fill="#5d72a6"/>
<rect x="1367.34" y="164.70" width="10.21" height="25.20" fill="#6d759c"/>
<rect x="1377.25" y="164.70" width="10.21" height="25.20" fill="#69749f"/>
<rect x="1387.15" y="164.70" width="10.21" height="25.20" fill="#6d759c"/>
<rect x="1397.06" y="164.70" width="10.21" height="25.20" fill="#747798"/>
<rect x="1406.96" y="164.70" width="10.21" height="25.20" fill="#5871a9"/>
<rect x="1416.87" y="164.70" width="10.21" height="25.20" fill="#5c72a7"/>
<rect x="1426.77" y="164.70" width="10.21" height="25.20" fill="#5a71a8"/>
<rect x="1436.68" y="164.70" width="10.21" height="25.20" fill="#506eac"/>
<rect x="1446.58" y="164.70" width="10.21" height="25.20" fill="#6e769b"/>
<rect x="1456.49" y="164.70" width="10.21" height="25.20" fill="#a1847a"/>
<rect x="1466.39" y="164.70" width="16.21" height="25.20" fill="#cc945c"/>
<rect x="1093.90" y="189.60" width="16.21" height="25.20" fill="#3460a2"/>
<rect x="1109.81" y="189.60" width="10.21" height="25.20" fill="#4b6cab"/>
<rect x="1119.71" y="189.60" width="10.21" height="25.20" fill="#4a6bab"/>
<rect x="1129.62" y="189.60" width="10.21" height="25.20" fill="#496bab"/>
<rect x="1139.52" y="189.60" width="10.21" height="25.20" fill="#988180"/>
<rect x="1149.43" y="189.60" width="10.21" height="25.20" fill="#8d7d88"/>
<rect x="1159.33" y="189.60" width="10.21" height="25.20" fill="#6674a1"/>
<rect x="1169.24" y="189.60" width="10.21" height="25.20" fill="#4c6cab"/>
<rect x="1179.14" y="189.60" width="10.21" height="25.20" fill="#4e6dac"/>
<rect x="1189.05" y="189.60" width="10.21" height="25.20" fill="#486aab"/>
<rect x="1198.95" y="189.60" width="10.21" height="25.20" fill="#4f6eac"/>
<rect x="1208.86" y="189.60" width="10.21" height="25.20" fill="#5c72a7"/>
<rect x="1218.76" y="189.60" width="10.21" height="25.20" fill="#5971a9"/>
<rect x="1228.67" y="189.60" width="10.21" height="25.20" fill="#5e72a6"/>
<rect x="1238.57" y="189.60" width="10.21" height="25.20" fill="#817990"/>
<rect x="1248.48" y="189.60" width="10.21" height="25.20" fill="#6e769b"/>
<rect x="1258.38" y="189.60" width="10.21" height="25.20" fill="#5d72a6"/>
<rect x="1268.29" y="189.60" width="10.21" height="25.20" fill="#817990"/>
<rect x="1278.19" y="189.60" width="10.21" height="25.20" fill="#907e86"/>
<rect x="1288.10" y="189.60" width="10.21" height="25.20" fill="#877b8c"/>
<rect x="1298.01" y="189.60" width="10.21" height="25.20" fill="#7d7992"/>
<rect x="1307.91" y="189.60" width="10.21" height="25.20" fill="#8d7d88"/>
<rect x="1317.82" y="189.60" width="10.21" height="25.20" fill="#9a827f"/>
<rect x="1327.72" y="189.60" width="10.21" height="25.20" fill="#817990"/>
<rect x="1337.63" y="189.60" width="10.21" height="25.20" fill="#9f847c"/>
<rect x="1347.53" y="189.60" width="10.21" height="25.20" fill="#837a8f"/>
<rect x="1357.44" y="189.60" width="10.21" height="25.20" fill="#917f85"/>
<rect x="1367.34" y="189.60" width="10.21" height="25.20" fill="#917f85"/>
<rect x="1377.25" y="189.60" width="10.21" height="25.20" fill="#a68677"/>
<rect x="1387.15" y="189.60" width="10.21" height="25.20" fill="#af8971"/>
<rect x="1397.06" y="189.60" width="10.21" height="25.20" fill="#a88776"/>
<rect x="1406.96" y="189.60" width="10.21" height="25.20" fill="#917f85"/>
<rect x="1416.87" y="189.60" width="10.21" height="25.20" fill="#9f847c"/>
<rect x="1426.77" y="189.60" width="10.21" height="25.20" fill="#476aab"/>
<rect x="1436.68" y="189.60" width="10.21" height="25.20" fill="#4569ab"/>
<rect x="1446.58" y="189.60" width="10.21" height="25.20" fill="#837a8e"/>
<rect x="1456.49" y="189.60" width="10.21" height="25.20" fill="#897c8b"/>
<rect x="1466.39" y="189.60" width="16.21" height="25.20" fill="#8b7d89"/>
<rect x="1093.90" y="214.50" width="16.21" height="25.20" fill="#fdebc2"/>
<rect x="1109.81" y="214.50" width="10.21" height="25.20" fill="#fce4b5"/>
<rect x="1119.71" y="214.50" width="10.21" height="25.20" fill="#fadaa3"/>
<rect x="1129.62" y="214.50" width="10.21" height="25.20" fill="#f9d69c"/>
<rect x="1139.52" y="214.50" width="10.21" height="25.20" fill="#f0b162"/>
<rect x="1149.43" y="214.50" width="10.21" height="25.20" fill="#f0b162"/>
<rect x="1159.33" y="214.50" width="10.21" height="25.20" fill="#eeab59"/>
<rect x="1169.24" y="214.50" width="10.21" height="25.20" fill="#eead5b"/>
<rect x="1179.14" y="214.50" width="10.21" height="25.20" fill="#eca652"/>
<rect x="1189.05" y="214.50" width="10.21" height="25.20" fill="#eeac5a"/>
<rect x="1198.95" y="214.50" width="10.21" height="25.20" fill="#f5c37c"/>
<rect x="1208.86" y="214.50" width="10.21" height="25.20" fill="#f7ca88"/>
<rect x="1218.76" y="214.50" width="10.21" height="25.20" fill="#f6c781"/>
<rect x="1228.67" y="214.50" width="10.21" height="25.20" fill="#f8d296"/>
<rect x="1238.57" y="214.50" width="10.21" height="25.20" fill="#f6c680"/>
<rect x="1248.48" y="214.50" width="10.21" height="25.20" fill="#f4bf76"/>
<rect x="1258.38" y="214.50" width="10.21" height="25.20" fill="#f3bc72"/>
<rect x="1268.29" y="214.50" width="10.21" height="25.20" fill="#f5c37b"/>
<rect x="1278.19" y="214.50" width="10.21" height="25.20" fill="#f2ba6e"/>
<rect x="1288.10" y="214.50" width="10.21" height="25.20" fill="#f1b567"/>
<rect x="1298.01" y="214.50" width="10.21" height="25.20" fill="#f0b262"/>
<rect x="1307.91" y="214.50" width="10.21" height="25.20" fill="#efb060"/>
<rect x="1317.82" y="214.50" width="10.21" height="25.20" fill="#f1b567"/>
<rect x="1327.72" y="214.50" width="10.21" height="25.20" fill="#f0b364"/>
<rect x="1337.63" y="214.50" width="10.21" height="25.20" fill="#f0b263"/>
<rect x="1347.53" y="214.50" width="10.21" height="25.20" fill="#f0b161"/>
<rect x="1357.44" y="214.50" width="10.21" height="25.20" fill="#eda854"/>
<rect x="1367.34" y="214.50" width="10.21" height="25.20" fill="#eeac5b"/>
<rect x="1377.25" y="214.50" width="10.21" height="25.20" fill="#eda855"/>
<rect x="1387.15" y="214.50" width="10.21" height="25.20" fill="#efad5c"/>
<rect x="1397.06" y="214.50" width="10.21" height="25.20" fill="#efad5c"/>
<rect x="1406.96" y="214.50" width="10.21" height="25.20" fill="#efae5d"/>
<rect x="1416.87" y="214.50" width="10.21" height="25.20" fill="#eca550"/>
<rect x="1426.77" y="214.50" width="10.21" height="25.20" fill="#efae5d"/>
<rect x="1436.68" y="214.50" width="10.21" height="25.20" fill="#efae5d"/>
<rect x="1446.58" y="214.50" width="10.21" height="25.20" fill="#efae5e"/>
<rect x="1456.49" y="214.50" width="10.21" height="25.20" fill="#eca550"/>
<rect x="1466.39" y="214.50" width="16.21" height="25.20" fill="#eca652"/>
<rect x="1093.90" y="239.40" width="16.21" height="25.20" fill="#3a64aa"/>
<rect x="1109.81" y="239.40" width="10.21" height="25.20" fill="#3a64aa"/>
<rect x="1119.71" y="239.40" width="10.21" height="25.20" fill="#5370ac"/>
<rect x="1129.62" y="239.40" width="10.21" height="25.20" fill="#5e72a6"/>
<rect x="1139.52" y="239.40" width="10.21" height="25.20" fill="#8d7d88"/>
<rect x="1149.43" y="239.40" width="10.21" height="25.20" fill="#787796"/>
<rect x="1159.33" y="239.40" width="10.21" height="25.20" fill="#bc8e68"/>
<rect x="1169.24" y="239.40" width="10.21" height="25.20" fill="#bd8e67"/>
<rect x="1179.14" y="239.40" width="10.21" height="25.20" fill="#c59161"/>
<rect x="1189.05" y="239.40" width="10.21" height="25.20" fill="#dd9a4f"/>
<rect x="1198.95" y="239.40" width="10.21" height="25.20" fill="#988180"/>
<rect x="1208.86" y="239.40" width="10.21" height="25.20" fill="#7e7992"/>
<rect x="1218.76" y="239.40" width="10.21" height="25.20" fill="#7f7991"/>
<rect x="1228.67" y="239.40" width="10.21" height="25.20" fill="#5370ac"/>
<rect x="1238.57" y="239.40" width="10.21" height="25.20" fill="#3f66aa"/>
<rect x="1248.48" y="239.40" width="10.21" height="25.20" fill="#466aab"/>
<rect x="1258.38" y="239.40" width="10.21" height="25.20" fill="#486aab"/>
<rect x="1268.29" y="239.40" width="10.21" height="25.20" fill="#5570ac"/>
<rect x="1278.19" y="239.40" width="10.21" height="25.20" fill="#4b6cab"/>
<rect x="1288.10" y="239.40" width="10.21" height="25.20" fill="#4b6cab"/>
<rect x="1298.01" y="239.40" width="10.21" height="25.20" fill="#6273a3"/>
<rect x="1307.91" y="239.40" width="10.21" height="25.20" fill="#9d837d"/>
<rect x="1317.82" y="239.40" width="10.21" height="25.20" fill="#c19064"/>
<rect x="1327.72" y="239.40" width="10.21" height="25.20" fill="#be8f67"/>
<rect x="1337.63" y="239.40" width="10.21" height="25.20" fill="#817990"/>
<rect x="1347.53" y="239.40" width="10.21" height="25.20" fill="#807990"/>
<rect x="1357.44" y="239.40" width="10.21" height="25.20" fill="#817990"/>
<rect x="1367.34" y="239.40" width="10.21" height="25.20" fill="#8e7e87"/>
<rect x="1377.25" y="239.40" width="10.21" height="25.20" fill="#7e7992"/>
<rect x="1387.15" y="239.40" width="10.21" height="25.20" fill="#777796"/>
<rect x="1397.06" y="239.40" width="10.21" height="25.20" fill="#6e759c"/>
<rect x="1406.96" y="239.40" width="10.21" height="25.20" fill="#6073a4"/>
<rect x="1416.87" y="239.40" width="10.21" height="25.20" fill="#7b7894"/>
<rect x="1426.77" y="239.40" width="10.21" height="25.20" fill="#5b72a7"/>
<rect x="1436.68" y="239.40" width="10.21" height="25.20" fill="#907e86"/>
<rect x="1446.58" y="239.40" width="10.21" height="25.20" fill="#958082"/>
<rect x="1456.49" y="239.40" width="10.21" height="25.20" fill="#877b8c"/>
<rect x="1466.39" y="239.40" width="16.21" height="25.20" fill="#70769b"/>
<rect x="1093.90" y="264.30" width="16.21" height="25.20" fill="#3b64aa"/>
<rect x="1109.81" y="264.30" width="10.21" height="25.20" fill="#4167ab"/>
<rect x="1119.71" y="264.30" width="10.21" height="25.20" fill="#295894"/>
<rect x="1129.62" y="264.30" width="10.21" height="25.20" fill="#3661a4"/>
<rect x="1139.52" y="264.30" width="10.21" height="25.20" fill="#3661a5"/>
<rect x="1149.43" y="264.30" width="10.21" height="25.20" fill="#3f66aa"/>
<rect x="1159.33" y="264.30" width="10.21" height="25.20" fill="#305d9d"/>
<rect x="1169.24" y="264.30" width="10.21" height="25.20" fill="#3862a7"/>
<rect x="1179.14" y="264.30" width="10.21" height="25.20" fill="#3460a3"/>
<rect x="1189.05" y="264.30" width="10.21" height="25.20" fill="#4268ab"/>
<rect x="1198.95" y="264.30" width="10.21" height="25.20" fill="#335fa1"/>
<rect x="1208.86" y="264.30" width="10.21" height="25.20" fill="#4669ab"/>
<rect x="1218.76" y="264.30" width="10.21" height="25.20" fill="#3560a3"/>
<rect x="1228.67" y="264.30" width="10.21" height="25.20" fill="#3460a2"/>
<rect x="1238.57" y="264.30" width="10.21" height="25.20" fill="#4167ab"/>
<rect x="1248.48" y="264.30" width="10.21" height="25.20" fill="#3c65aa"/>
<rect x="1258.38" y="264.30" width="10.21" height="25.20" fill="#325fa0"/>
<rect x="1268.29" y="264.30" width="10.21" height="25.20" fill="#4067aa"/>
<rect x="1278.19" y="264.30" width="10.21" height="25.20" fill="#335fa0"/>
<rect x="1288.10" y="264.30" width="10.21" height="25.20" fill="#8f7e87"/>
<rect x="1298.01" y="264.30" width="10.21" height="25.20" fill="#8c7d89"/>
<rect x="1307.91" y="264.30" width="10.21" height="25.20" fill="#5771aa"/>
<rect x="1317.82" y="264.30" width="10.21" height="25.20" fill="#8c7d89"/>
<rect x="1327.72" y="264.30" width="10.21" height="25.20" fill="#4067aa"/>
<rect x="1337.63" y="264.30" width="10.21" height="25.20" fill="#4268ab"/>
<rect x="1347.53" y="264.30" width="10.21" height="25.20" fill="#4268ab"/>
<rect x="1357.44" y="264.30" width="10.21" height="25.20" fill="#506eac"/>
<rect x="1367.34" y="264.30" width="10.21" height="25.20" fill="#3b64aa"/>
<rect x="1377.25" y="264.30" width="10.21" height="25.20" fill="#516fac"/>
<rect x="1387.15" y="264.30" width="10.21" height="25.20" fill="#4669ab"/>
<rect x="1397.06" y="264.30" width="10.21" height="25.20" fill="#6c759d"/>
<rect x="1406.96" y="264.30" width="10.21" height="25.20" fill="#6e759c"/>
<rect x="1416.87" y="264.30" width="10.21" height="25.20" fill="#887b8b"/>
<rect x="1426.77" y="264.30" width="10.21" height="25.20" fill="#787895"/>
<rect x="1436.68" y="264.30" width="10.21" height="25.20" fill="#737699"/>
<rect x="1446.58" y="264.30" width="10.21" height="25.20" fill="#6e759c"/>
<rect x="1456.49" y="264.30" width="10.21" height="25.20" fill="#857a8d"/>
<rect x="1466.39" y="264.30" width="16.21" height="25.20" fill="#8e7d87"/>
<rect x="1093.90" y="289.20" width="16.21" height="25.20" fill="#315e9e"/>
<rect x="1109.81" y="289.20" width="10.21" height="25.20" fill="#3762a5"/>
<rect x="1119.71" y="289.20" width="10.21" height="25.20" fill="#3762a6"/>
<rect x="1129.62" y="289.20" width="10.21" height="25.20" fill="#3460a3"/>
<rect x="1139.52" y="289.20" width="10.21" height="25.20" fill="#2d5b9a"/>
<rect x="1149.43" y="289.20" width="10.21" height="25.20" fill="#2d5b99"/>
<rect x="1159.33" y="289.20" width="10.21" height="25.20" fill="#295894"/>
<rect x="1169.24" y="289.20" width="10.21" height="25.20" fill="#3a64aa"/>
<rect x="1179.14" y="289.20" width="10.21" height="25.20" fill="#3661a5"/>
<rect x="1189.05" y="289.20" width="10.21" height="25.20" fill="#3863a7"/>
<rect x="1198.95" y="289.20" width="10.21" height="25.20" fill="#2a5996"/>
<rect x="1208.86" y="289.20" width="10.21" height="25.20" fill="#315e9e"/>
<rect x="1218.76" y="289.20" width="10.21" height="25.20" fill="#3964a9"/>
<rect x="1228.67" y="289.20" width="10.21" height="25.20" fill="#3560a3"/>
<rect x="1238.57" y="289.20" width="10.21" height="25.20" fill="#2a5995"/>
<rect x="1248.48" y="289.20" width="10.21" height="25.20" fill="#335fa0"/>
<rect x="1258.38" y="289.20" width="10.21" height="25.20" fill="#3d66aa"/>
<rect x="1268.29" y="289.20" width="10.21" height="25.20" fill="#2e5b9a"/>
<rect x="1278.19" y="289.20" width="10.21" height="25.20" fill="#2d5b99"/>
<rect x="1288.10" y="289.20" width="10.21" height="25.20" fill="#305d9d"/>
<rect x="1298.01" y="289.20" width="10.21" height="25.20" fill="#3a64aa"/>
<rect x="1307.91" y="289.20" width="10.21" height="25.20" fill="#3f66aa"/>
<rect x="1317.82" y="289.20" width="10.21" height="25.20" fill="#2e5c9a"/>
<rect x="1327.72" y="289.20" width="10.21" height="25.20" fill="#2f5c9b"/>
<rect x="1337.63" y="289.20" width="10.21" height="25.20" fill="#315e9f"/>
<rect x="1347.53" y="289.20" width="10.21" height="25.20" fill="#3460a2"/>
<rect x="1357.44" y="289.20" width="10.21" height="25.20" fill="#3964a9"/>
<rect x="1367.34" y="289.20" width="10.21" height="25.20" fill="#315e9f"/>
<rect x="1377.25" y="289.20" width="10.21" height="25.20" fill="#3661a5"/>
<rect x="1387.15" y="289.20" width="10.21" height="25.20" fill="#335fa1"/>
<rect x="1397.06" y="289.20" width="10.21" height="25.20" fill="#486bab"/>
<rect x="1406.96" y="289.20" width="10.21" height="25.20" fill="#4268ab"/>
<rect x="1416.87" y="289.20" width="10.21" height="25.20" fill="#335fa1"/>
<rect x="1426.77" y="289.20" width="10.21" height="25.20" fill="#4a6bab"/>
<rect x="1436.68" y="289.20" width="10.21" height="25.20" fill="#3460a2"/>
<rect x="1446.58" y="289.20" width="10.21" height="25.20" fill="#3c65aa"/>
<rect x="1456.49" y="289.20" width="10.21" height="25.20" fill="#4d6dab"/>
<rect x="1466.39" y="289.20" width="16.21" height="25.20" fill="#486bab"/>
<rect x="1093.90" y="314.10" width="16.21" height="25.20" fill="#3661a5"/>
<rect x="1109.81" y="314.10" width="10.21" height="25.20" fill="#2f5c9b"/>
<rect x="1119.71" y="314.10" width="10.21" height="25.20" fill="#295894"/>
<rect x="1129.62" y="314.10" width="10.21" height="25.20" fill="#3460a2"/>
<rect x="1139.52" y="314.10" width="10.21" height="25.20" fill="#275792"/>
<rect x="1149.43" y="314.10" width="10.21" height="25.20" fill="#2a5995"/>
<rect x="1159.33" y="314.10" width="10.21" height="25.20" fill="#2f5c9b"/>
<rect x="1169.24" y="314.10" width="10.21" height="25.20" fill="#265690"/>
<rect x="1179.14" y="314.10" width="10.21" height="25.20" fill="#2f5d9c"/>
<rect x="1189.05" y="314.10" width="10.21" height="25.20" fill="#3963a9"/>
<rect x="1198.95" y="314.10" width="10.21" height="25.20" fill="#3762a6"/>
<rect x="1208.86" y="314.10" width="10.21" height="25.20" fill="#335fa0"/>
<rect x="1218.76" y="314.10" width="10.21" height="25.20" fill="#3661a5"/>
<rect x="1228.67" y="314.10" width="10.21" height="25.20" fill="#325fa0"/>
<rect x="1238.57" y="314.10" width="10.21" height="25.20" fill="#2b5996"/>
<rect x="1248.48" y="314.10" width="10.21" height="25.20" fill="#3661a5"/>
<rect x="1258.38" y="314.10" width="10.21" height="25.20" fill="#315e9f"/>
<rect x="1268.29" y="314.10" width="10.21" height="25.20" fill="#3a64aa"/>
<rect x="1278.19" y="314.10" width="10.21" height="25.20" fill="#3f66aa"/>
<rect x="1288.10" y="314.10" width="10.21" height="25.20" fill="#335fa1"/>
<rect x="1298.01" y="314.10" width="10.21" height="25.20" fill="#3762a6"/>
<rect x="1307.91" y="314.10" width="10.21" height="25.20" fill="#3c65aa"/>
<rect x="1317.82" y="314.10" width="10.21" height="25.20" fill="#3460a2"/>
<rect x="1327.72" y="314.10" width="10.21" height="25.20" fill="#305d9d"/>
<rect x="1337.63" y="314.10" width="10.21" height="25.20" fill="#3c65aa"/>
<rect x="1347.53" y="314.10" width="10.21" height="25.20" fill="#4167ab"/>
<rect x="1357.44" y="314.10" width="10.21" height="25.20" fill="#3f66aa"/>
<rect x="1367.34" y="314.10" width="10.21" height="25.20" fill="#3d66aa"/>
<rect x="1377.25" y="314.10" width="10.21" height="25.20" fill="#4268ab"/>
<rect x="1387.15" y="314.10" width="10.21" height="25.20" fill="#3e66aa"/>
<rect x="1397.06" y="314.10" width="10.21" height="25.20" fill="#3d66aa"/>
<rect x="1406.96" y="314.10" width="10.21" height="25.20" fill="#3963a8"/>
<rect x="1416.87" y="314.10" width="10.21" height="25.20" fill="#3661a5"/>
<rect x="1426.77" y="314.10" width="10.21" height="25.20" fill="#3e66aa"/>
<rect x="1436.68" y="314.10" width="10.21" height="25.20" fill="#325e9f"/>
<rect x="1446.58" y="314.10" width="10.21" height="25.20" fill="#3a64aa"/>
<rect x="1456.49" y="314.10" width="10.21" height="25.20" fill="#4469ab"/>
<rect x="1466.39" y="314.10" width="16.21" height="25.20" fill="#4368ab"/>
<rect x="1093.90" y="339.00" width="16.21" height="25.20" fill="#335fa1"/>
<rect x="1109.81" y="339.00" width="10.21" height="25.20" fill="#2a5996"/>
<rect x="1119.71" y="339.00" width="10.21" height="25.20" fill="#2f5c9b"/>
<rect x="1129.62" y="339.00" width="10.21" height="25.20" fill="#305d9d"/>
<rect x="1139.52" y="339.00" width="10.21" height="25.20" fill="#3460a2"/>
<rect x="1149.43" y="339.00" width="10.21" height="25.20" fill="#2f5c9c"/>
<rect x="1159.33" y="339.00" width="10.21" height="25.20" fill="#3661a4"/>
<rect x="1169.24" y="339.00" width="10.21" height="25.20" fill="#3c65aa"/>
<rect x="1179.14" y="339.00" width="10.21" height="25.20" fill="#2a5995"/>
<rect x="1189.05" y="339.00" width="10.21" height="25.20" fill="#3661a5"/>
<rect x="1198.95" y="339.00" width="10.21" height="25.20" fill="#3963a9"/>
<rect x="1208.86" y="339.00" width="10.21" height="25.20" fill="#305d9d"/>
<rect x="1218.76" y="339.00" width="10.21" height="25.20" fill="#335fa0"/>
<rect x="1228.67" y="339.00" width="10.21" height="25.20" fill="#3f66aa"/>
<rect x="1238.57" y="339.00" width="10.21" height="25.20" fill="#285793"/>
<rect x="1248.48" y="339.00" width="10.21" height="25.20" fill="#3560a3"/>
<rect x="1258.38" y="339.00" width="10.21" height="25.20" fill="#2b5a97"/>
<rect x="1268.29" y="339.00" width="10.21" height="25.20" fill="#3b64aa"/>
<rect x="1278.19" y="339.00" width="10.21" height="25.20" fill="#4067aa"/>
<rect x="1288.10" y="339.00" width="10.21" height="25.20" fill="#3560a3"/>
<rect x="1298.01" y="339.00" width="10.21" height="25.20" fill="#2b5a97"/>
<rect x="1307.91" y="339.00" width="10.21" height="25.20" fill="#3762a6"/>
<rect x="1317.82" y="339.00" width="10.21" height="25.20" fill="#3762a6"/>
<rect x="1327.72" y="339.00" width="10.21" height="25.20" fill="#3c65aa"/>
<rect x="1337.63" y="339.00" width="10.21" height="25.20" fill="#3762a6"/>
<rect x="1347.53" y="339.00" width="10.21" height="25.20" fill="#3b64aa"/>
<rect x="1357.44" y="339.00" width="10.21" height="25.20" fill="#4067aa"/>
<rect x="1367.34" y="339.00" width="10.21" height="25.20" fill="#3963a8"/>
<rect x="1377.25" y="339.00" width="10.21" height="25.20" fill="#3661a5"/>
<rect x="1387.15" y="339.00" width="10.21" height="25.20" fill="#4569ab"/>
<rect x="1397.06" y="339.00" width="10.21" height="25.20" fill="#325fa0"/>
<rect x="1406.96" y="339.00" width="10.21" height="25.20" fill="#3f66aa"/>
<rect x="1416.87" y="339.00" width="10.21" height="25.20" fill="#3862a7"/>
<rect x="1426.77" y="339.00" width="10.21" height="25.20" fill="#4268ab"/>
<rect x="1436.68" y="339.00" width="10.21" height="25.20" fill="#325ea0"/>
<rect x="1446.58" y="339.00" width="10.21" height="25.20" fill="#496bab"/>
<rect x="1456.49" y="339.00" width="10.21" height="25.20" fill="#3963a8"/>
<rect x="1466.39" y="339.00" width="16.21" height="25.20" fill="#325e9f"/>
<rect x="1093.90" y="363.90" width="16.21" height="25.20" fill="#2b5996"/>
<rect x="1109.81" y="363.90" width="10.21" height="25.20" fill="#2e5c9a"/>
<rect x="1119.71" y="363.90" width="10.21" height="25.20" fill="#265690"/>
<rect x="1129.62" y="363.90" width="10.21" height="25.20" fill="#2f5c9b"/>
<rect x="1139.52" y="363.90" width="10.21" height="25.20" fill="#2f5c9c"/>
<rect x="1149.43" y="363.90" width="10.21" height="25.20" fill="#3661a5"/>
<rect x="1159.33" y="363.90" width="10.21" height="25.20" fill="#2e5c9a"/>
<rect x="1169.24" y="363.90" width="10.21" height="25.20" fill="#2c5a98"/>
<rect x="1179.14" y="363.90" width="10.21" height="25.20" fill="#2b5a97"/>
<rect x="1189.05" y="363.90" width="10.21" height="25.20" fill="#3863a7"/>
<rect x="1198.95" y="363.90" width="10.21" height="25.20" fill="#3d66aa"/>
<rect x="1208.86" y="363.90" width="10.21" height="25.20" fill="#335fa1"/>
<rect x="1218.76" y="363.90" width="10.21" height="25.20" fill="#2c5a98"/>
<rect x="1228.67" y="363.90" width="10.21" height="25.20" fill="#3a64aa"/>
<rect x="1238.57" y="363.90" width="10.21" height="25.20" fill="#315d9e"/>
<rect x="1248.48" y="363.90" width="10.21" height="25.20" fill="#2d5b98"/>
<rect x="1258.38" y="363.90" width="10.21" height="25.20" fill="#2b5996"/>
<rect x="1268.29" y="363.90" width="10.21" height="25.20" fill="#3b64aa"/>
<rect x="1278.19" y="363.90" width="10.21" height="25.20" fill="#3c65aa"/>
<rect x="1288.10" y="363.90" width="10.21" height="25.20" fill="#3863a7"/>
<rect x="1298.01" y="363.90" width="10.21" height="25.20" fill="#3560a3"/>
<rect x="1307.91" y="363.90" width="10.21" height="25.20" fill="#3863a8"/>
<rect x="1317.82" y="363.90" width="10.21" height="25.20" fill="#315e9e"/>
<rect x="1327.72" y="363.90" width="10.21" height="25.20" fill="#4569ab"/>
<rect x="1337.63" y="363.90" width="10.21" height="25.20" fill="#3661a5"/>
<rect x="1347.53" y="363.90" width="10.21" height="25.20" fill="#3e66aa"/>
<rect x="1357.44" y="363.90" width="10.21" height="25.20" fill="#4469ab"/>
<rect x="1367.34" y="363.90" width="10.21" height="25.20" fill="#4569ab"/>
<rect x="1377.25" y="363.90" width="10.21" height="25.20" fill="#506eac"/>
<rect x="1387.15" y="363.90" width="10.21" height="25.20" fill="#3f66aa"/>
<rect x="1397.06" y="363.90" width="10.21" height="25.20" fill="#3f66aa"/>
<rect x="1406.96" y="363.90" width="10.21" height="25.20" fill="#3561a4"/>
<rect x="1416.87" y="363.90" width="10.21" height="25.20" fill="#496bab"/>
<rect x="1426.77" y="363.90" width="10.21" height="25.20" fill="#3c65aa"/>
<rect x="1436.68" y="363.90" width="10.21" height="25.20" fill="#4b6cab"/>
<rect x="1446.58" y="363.90" width="10.21" height="25.20" fill="#3b65aa"/>
<rect x="1456.49" y="363.90" width="10.21" height="25.20" fill="#3f66aa"/>
<rect x="1466.39" y="363.90" width="16.21" height="25.20" fill="#3d65aa"/>
<rect x="1093.90" y="388.80" width="16.21" height="11.20" fill="#335fa0"/>
<rect x="1109.81" y="388.80" width="10.21" height="11.20" fill="#2d5b99"/>
<rect x="1119.71" y="388.80" width="10.21" height="11.20" fill="#295894"/>
<rect x="1129.62" y="388.80" width="10.21" height="11.20" fill="#3b64aa"/>
<rect x="1139.52" y="388.80" width="10.21" height="11.20" fill="#305d9d"/>
<rect x="1149.43" y="388.80" width="10.21" height="11.20" fill="#305d9d"/>
<rect x="1159.33" y="388.80" width="10.21" height="11.20" fill="#315e9f"/>
<rect x="1169.24" y="388.80" width="10.21" height="11.20" fill="#3661a5"/>
<rect x="1179.14" y="388.80" width="10.21" height="11.20" fill="#3561a4"/>
<rect x="1189.05" y="388.80" width="10.21" height="11.20" fill="#3b64aa"/>
<rect x="1198.95" y="388.80" width="10.21" height="11.20" fill="#3b65aa"/>
<rect x="1208.86" y="388.80" width="10.21" height="11.20" fill="#3460a3"/>
<rect x="1218.76" y="388.80" width="10.21" height="11.20" fill="#4468ab"/>
<rect x="1228.67" y="388.80" width="10.21" height="11.20" fill="#4268ab"/>
<rect x="1238.57" y="388.80" width="10.21" height="11.20" fill="#2e5c9a"/>
<rect x="1248.48" y="388.80" width="10.21" height="11.20" fill="#4268ab"/>
<rect x="1258.38" y="388.80" width="10.21" height="11.20" fill="#4469ab"/>
<rect x="1268.29" y="388.80" width="10.21" height="11.20" fill="#4167ab"/>
<rect x="1278.19" y="388.80" width="10.21" height="11.20" fill="#315e9e"/>
<rect x="1288.10" y="388.80" width="10.21" height="11.20" fill="#4368ab"/>
<rect x="1298.01" y="388.80" width="10.21" height="11.20" fill="#3e66aa"/>
<rect x="1307.91" y="388.80" width="10.21" height="11.20" fill="#2f5c9b"/>
<rect x="1317.82" y="388.80" width="10.21" height="11.20" fill="#2f5c9b"/>
<rect x="1327.72" y="388.80" width="10.21" height="11.20" fill="#476aab"/>
<rect x="1337.63" y="388.80" width="10.21" height="11.20" fill="#3f66aa"/>
<rect x="1347.53" y="388.80" width="10.21" height="11.20" fill="#3560a3"/>
<rect x="1357.44" y="388.80" width="10.21" height="11.20" fill="#315e9f"/>
<rect x="1367.34" y="388.80" width="10.21" height="11.20" fill="#335fa0"/>
<rect x="1377.25" y="388.80" width="10.21" height="11.20" fill="#3560a3"/>
<rect x="1387.15" y="388.80" width="10.21" height="11.20" fill="#4368ab"/>
<rect x="1397.06" y="388.80" width="10.21" height="11.20" fill="#3863a7"/>
<rect x="1406.96" y="388.80" width="10.21" height="11.20" fill="#335fa1"/>
<rect x="1416.87" y="388.80" width="10.21" height="11.20" fill="#476aab"/>
<rect x="1426.77" y="388.80" width="10.21" height="11.20" fill="#4569ab"/>
<rect x="1436.68" y="388.80" width="10.21" height="11.20" fill="#3460a3"/>
<rect x="1446.58" y="388.80" width="10.21" height="11.20" fill="#486aab"/>
<rect x="1456.49" y="388.80" width="10.21" height="11.20" fill="#4067aa"/>
<rect x="1466.39" y="388.80" width="16.21" height="11.20" fill="#4569ab"/>
</g></g>
<rect x="671.8" y="454.5" width="376.5" height="373.5" fill="#265690"/>
<rect x="1098.7" y="454.5" width="376.3" height="373.5" fill="#265690"/>
<linearGradient id="bl8" x1="0" x2="1" y1="0" y2="0"><stop offset="0.0000" stop-color="#f8ce8e"/><stop offset="0.0104" stop-color="#f8ce8e"/><stop offset="0.0208" stop-color="#f8ce8e"/><stop offset="0.0312" stop-color="#f8ce8e"/><stop offset="0.0417" stop-color="#f6c781"/><stop offset="0.0521" stop-color="#f3bc71"/><stop offset="0.0625" stop-color="#f0b061"/><stop offset="0.0729" stop-color="#eca550"/><stop offset="0.0833" stop-color="#e29b4c"/><stop offset="0.0938" stop-color="#cb935d"/><stop offset="0.1042" stop-color="#b28a6f"/><stop offset="0.1146" stop-color="#a38579"/><stop offset="0.1250" stop-color="#9a827f"/><stop offset="0.1354" stop-color="#998180"/><stop offset="0.1458" stop-color="#988181"/><stop offset="0.1562" stop-color="#968181"/><stop offset="0.1667" stop-color="#9f847c"/><stop offset="0.1771" stop-color="#b08a70"/><stop offset="0.1875" stop-color="#d09559"/><stop offset="0.1979" stop-color="#eba049"/><stop offset="0.2083" stop-color="#eda754"/><stop offset="0.2188" stop-color="#efaf5f"/><stop offset="0.2292" stop-color="#f1b76a"/><stop offset="0.2396" stop-color="#f4be74"/><stop offset="0.2500" stop-color="#f6c57e"/><stop offset="0.2604" stop-color="#f7cc8b"/><stop offset="0.2708" stop-color="#f9d397"/><stop offset="0.2812" stop-color="#fadaa4"/><stop offset="0.2917" stop-color="#fadba6"/><stop offset="0.3021" stop-color="#f9d59b"/><stop offset="0.3125" stop-color="#f8cf8f"/><stop offset="0.3229" stop-color="#f6c884"/><stop offset="0.3333" stop-color="#f5c27a"/><stop offset="0.3438" stop-color="#f3bb71"/><stop offset="0.3542" stop-color="#f1b466"/><stop offset="0.3646" stop-color="#eead5b"/><stop offset="0.3750" stop-color="#eca551"/><stop offset="0.3854" stop-color="#e89d47"/><stop offset="0.3958" stop-color="#d39657"/><stop offset="0.4062" stop-color="#c19064"/><stop offset="0.4167" stop-color="#b18a6f"/><stop offset="0.4271" stop-color="#ab8873"/><stop offset="0.4375" stop-color="#aa8774"/><stop offset="0.4479" stop-color="#a88776"/><stop offset="0.4583" stop-color="#b98d6a"/><stop offset="0.4688" stop-color="#cc935c"/><stop offset="0.4792" stop-color="#e59c4a"/><stop offset="0.4896" stop-color="#eda753"/><stop offset="0.5000" stop-color="#f0b162"/><stop offset="0.5104" stop-color="#f3bc71"/><stop offset="0.5208" stop-color="#f5c27a"/><stop offset="0.5312" stop-color="#f6c681"/><stop offset="0.5417" stop-color="#f7cb89"/><stop offset="0.5521" stop-color="#f8d092"/><stop offset="0.5625" stop-color="#f9d59a"/><stop offset="0.5729" stop-color="#f9d398"/><stop offset="0.5833" stop-color="#f8cf91"/><stop offset="0.5938" stop-color="#f7cb8a"/><stop offset="0.6042" stop-color="#f6c783"/><stop offset="0.6146" stop-color="#f5c47c"/><stop offset="0.6250" stop-color="#f3bd74"/><stop offset="0.6354" stop-color="#f1b669"/><stop offset="0.6458" stop-color="#efaf5e"/><stop offset="0.6562" stop-color="#eda754"/><stop offset="0.6667" stop-color="#eba24c"/><stop offset="0.6771" stop-color="#ea9e46"/><stop offset="0.6875" stop-color="#df9a4e"/><stop offset="0.6979" stop-color="#d89853"/><stop offset="0.7083" stop-color="#d39657"/><stop offset="0.7188" stop-color="#cf955a"/><stop offset="0.7292" stop-color="#d69755"/><stop offset="0.7396" stop-color="#dd9a4f"/><stop offset="0.7500" stop-color="#e79d48"/><stop offset="0.7604" stop-color="#eba24c"/><stop offset="0.7708" stop-color="#eda854"/><stop offset="0.7812" stop-color="#efae5d"/><stop offset="0.7917" stop-color="#f0b365"/><stop offset="0.8021" stop-color="#f2b96d"/><stop offset="0.8125" stop-color="#f4be75"/><stop offset="0.8229" stop-color="#f5c27a"/><stop offset="0.8333" stop-color="#f6c57e"/><stop offset="0.8438" stop-color="#f6c883"/><stop offset="0.8542" stop-color="#f7cb89"/><stop offset="0.8646" stop-color="#f8ce8e"/><stop offset="0.8750" stop-color="#f7ca88"/><stop offset="0.8854" stop-color="#f6c781"/><stop offset="0.8958" stop-color="#f5c37c"/><stop offset="0.9062" stop-color="#f4c077"/><stop offset="0.9167" stop-color="#f3bc72"/><stop offset="0.9271" stop-color="#f2b96d"/><stop offset="0.9375" stop-color="#f1b669"/><stop offset="0.9479" stop-color="#f0b465"/><stop offset="0.9583" stop-color="#f0b161"/><stop offset="0.9688" stop-color="#efae5d"/><stop offset="0.9792" stop-color="#eeab59"/><stop offset="0.9896" stop-color="#eda956"/><stop offset="1.0000" stop-color="#eca652"/></linearGradient>
<rect x="671.80" y="641.40" width="376.50" height="27.00" fill="url(#bl8)"/>
<linearGradient id="bl9" x1="0" x2="1" y1="0" y2="0"><stop offset="0.0000" stop-color="#265690"/><stop offset="0.0104" stop-color="#265690"/><stop offset="0.0208" stop-color="#265690"/><stop offset="0.0312" stop-color="#3460a3"/><stop offset="0.0417" stop-color="#496bab"/><stop offset="0.0521" stop-color="#5871aa"/><stop offset="0.0625" stop-color="#6674a1"/><stop offset="0.0729" stop-color="#757797"/><stop offset="0.0833" stop-color="#837a8e"/><stop offset="0.0938" stop-color="#917e86"/><stop offset="0.1042" stop-color="#9c837e"/><stop offset="0.1146" stop-color="#a78676"/><stop offset="0.1250" stop-color="#b18a70"/><stop offset="0.1354" stop-color="#b18a70"/><stop offset="0.1458" stop-color="#b18a70"/><stop offset="0.1562" stop-color="#b18a70"/><stop offset="0.1667" stop-color="#b18a70"/><stop offset="0.1771" stop-color="#ad8972"/><stop offset="0.1875" stop-color="#a38579"/><stop offset="0.1979" stop-color="#988180"/><stop offset="0.2083" stop-color="#8b7d89"/><stop offset="0.2188" stop-color="#7e7992"/><stop offset="0.2292" stop-color="#6f769b"/><stop offset="0.2396" stop-color="#6173a4"/><stop offset="0.2500" stop-color="#536fac"/><stop offset="0.2604" stop-color="#4167ab"/><stop offset="0.2708" stop-color="#2d5b99"/><stop offset="0.2812" stop-color="#265690"/><stop offset="0.2917" stop-color="#265690"/><stop offset="0.3021" stop-color="#265690"/><stop offset="0.3125" stop-color="#265690"/><stop offset="0.3229" stop-color="#2b5996"/><stop offset="0.3333" stop-color="#4067aa"/><stop offset="0.3438" stop-color="#5370ac"/><stop offset="0.3542" stop-color="#6273a3"/><stop offset="0.3646" stop-color="#727699"/><stop offset="0.3750" stop-color="#817990"/><stop offset="0.3854" stop-color="#8f7e86"/><stop offset="0.3958" stop-color="#9d837d"/><stop offset="0.4062" stop-color="#a88776"/><stop offset="0.4167" stop-color="#b38b6e"/><stop offset="0.4271" stop-color="#b58c6d"/><stop offset="0.4375" stop-color="#b58c6d"/><stop offset="0.4479" stop-color="#b58c6d"/><stop offset="0.4583" stop-color="#b58c6d"/><stop offset="0.4688" stop-color="#b38b6e"/><stop offset="0.4792" stop-color="#a88776"/><stop offset="0.4896" stop-color="#9d837d"/><stop offset="0.5000" stop-color="#907e86"/><stop offset="0.5104" stop-color="#827990"/><stop offset="0.5208" stop-color="#727699"/><stop offset="0.5312" stop-color="#6373a3"/><stop offset="0.5417" stop-color="#5370ac"/><stop offset="0.5521" stop-color="#4067aa"/><stop offset="0.5625" stop-color="#295893"/><stop offset="0.5729" stop-color="#265690"/><stop offset="0.5833" stop-color="#265690"/><stop offset="0.5938" stop-color="#265690"/><stop offset="0.6042" stop-color="#265690"/><stop offset="0.6146" stop-color="#265690"/><stop offset="0.6250" stop-color="#305d9d"/><stop offset="0.6354" stop-color="#486aab"/><stop offset="0.6458" stop-color="#5b71a8"/><stop offset="0.6562" stop-color="#6b759e"/><stop offset="0.6667" stop-color="#7c7893"/><stop offset="0.6771" stop-color="#8b7d89"/><stop offset="0.6875" stop-color="#9a827f"/><stop offset="0.6979" stop-color="#a78677"/><stop offset="0.7083" stop-color="#b38b6e"/><stop offset="0.7188" stop-color="#ba8d6a"/><stop offset="0.7292" stop-color="#ba8d6a"/><stop offset="0.7396" stop-color="#ba8d6a"/><stop offset="0.7500" stop-color="#ba8d6a"/><stop offset="0.7604" stop-color="#b98d6a"/><stop offset="0.7708" stop-color="#af8971"/><stop offset="0.7812" stop-color="#a38579"/><stop offset="0.7917" stop-color="#958082"/><stop offset="0.8021" stop-color="#867b8c"/><stop offset="0.8125" stop-color="#767796"/><stop offset="0.8229" stop-color="#6674a1"/><stop offset="0.8333" stop-color="#5470ac"/><stop offset="0.8438" stop-color="#4167ab"/><stop offset="0.8542" stop-color="#2a5995"/><stop offset="0.8646" stop-color="#265690"/><stop offset="0.8750" stop-color="#265690"/><stop offset="0.8854" stop-color="#265690"/><stop offset="0.8958" stop-color="#265690"/><stop offset="0.9062" stop-color="#265690"/><stop offset="0.9167" stop-color="#2b5a97"/><stop offset="0.9271" stop-color="#4268ab"/><stop offset="0.9375" stop-color="#5570ab"/><stop offset="0.9479" stop-color="#6574a1"/><stop offset="0.9583" stop-color="#767797"/><stop offset="0.9688" stop-color="#867b8d"/><stop offset="0.9792" stop-color="#948083"/><stop offset="0.9896" stop-color="#a1857a"/><stop offset="1.0000" stop-color="#ad8972"/></linearGradient>
<rect x="671.80" y="614.70" width="376.50" height="27.00" fill="url(#bl9)"/>
<linearGradient id="bl7" x1="0" x2="1" y1="0" y2="0"><stop offset="0.0000" stop-color="#265690"/><stop offset="0.0104" stop-color="#265690"/><stop offset="0.0208" stop-color="#265690"/><stop offset="0.0312" stop-color="#3460a2"/><stop offset="0.0417" stop-color="#476aab"/><stop offset="0.0521" stop-color="#536fac"/><stop offset="0.0625" stop-color="#6173a4"/><stop offset="0.0729" stop-color="#6f769b"/><stop offset="0.0833" stop-color="#7d7893"/><stop offset="0.0938" stop-color="#897c8a"/><stop offset="0.1042" stop-color="#948083"/><stop offset="0.1146" stop-color="#9d837d"/><stop offset="0.1250" stop-color="#9f847c"/><stop offset="0.1354" stop-color="#9f847c"/><stop offset="0.1458" stop-color="#9f847c"/><stop offset="0.1562" stop-color="#9f847c"/><stop offset="0.1667" stop-color="#998180"/><stop offset="0.1771" stop-color="#8e7e87"/><stop offset="0.1875" stop-color="#837a8f"/><stop offset="0.1979" stop-color="#757797"/><stop offset="0.2083" stop-color="#6774a0"/><stop offset="0.2188" stop-color="#5971a9"/><stop offset="0.2292" stop-color="#4e6dac"/><stop offset="0.2396" stop-color="#3d65aa"/><stop offset="0.2500" stop-color="#275791"/><stop offset="0.2604" stop-color="#265690"/><stop offset="0.2708" stop-color="#265690"/><stop offset="0.2812" stop-color="#265690"/><stop offset="0.2917" stop-color="#325fa0"/><stop offset="0.3021" stop-color="#496bab"/><stop offset="0.3125" stop-color="#5971a9"/><stop offset="0.3229" stop-color="#6a759e"/><stop offset="0.3333" stop-color="#7a7894"/><stop offset="0.3438" stop-color="#8a7c8a"/><stop offset="0.3542" stop-color="#988181"/><stop offset="0.3646" stop-color="#a48578"/><stop offset="0.3750" stop-color="#ac8873"/><stop offset="0.3854" stop-color="#ac8873"/><stop offset="0.3958" stop-color="#ac8873"/><stop offset="0.4062" stop-color="#ac8873"/><stop offset="0.4167" stop-color="#a98775"/><stop offset="0.4271" stop-color="#9d837d"/><stop offset="0.4375" stop-color="#917f85"/><stop offset="0.4479" stop-color="#827a8f"/><stop offset="0.4583" stop-color="#727699"/><stop offset="0.4688" stop-color="#6173a4"/><stop offset="0.4792" stop-color="#526fac"/><stop offset="0.4896" stop-color="#3d66aa"/><stop offset="0.5000" stop-color="#265690"/><stop offset="0.5104" stop-color="#265690"/><stop offset="0.5208" stop-color="#265690"/><stop offset="0.5312" stop-color="#265690"/><stop offset="0.5417" stop-color="#265690"/><stop offset="0.5521" stop-color="#265690"/><stop offset="0.5625" stop-color="#265690"/><stop offset="0.5729" stop-color="#2c5a98"/><stop offset="0.5833" stop-color="#466aab"/><stop offset="0.5938" stop-color="#5f72a5"/><stop offset="0.6042" stop-color="#737699"/><stop offset="0.6146" stop-color="#867b8d"/><stop offset="0.6250" stop-color="#988181"/><stop offset="0.6354" stop-color="#a88775"/><stop offset="0.6458" stop-color="#b78c6b"/><stop offset="0.6562" stop-color="#c29064"/><stop offset="0.6667" stop-color="#c29064"/><stop offset="0.6771" stop-color="#c29064"/><stop offset="0.6875" stop-color="#c29064"/><stop offset="0.6979" stop-color="#be8f66"/><stop offset="0.7083" stop-color="#b18a6f"/><stop offset="0.7188" stop-color="#a2857a"/><stop offset="0.7292" stop-color="#907e86"/><stop offset="0.7396" stop-color="#7e7992"/><stop offset="0.7500" stop-color="#6a759e"/><stop offset="0.7604" stop-color="#5470ac"/><stop offset="0.7708" stop-color="#3a64aa"/><stop offset="0.7812" stop-color="#265690"/><stop offset="0.7917" stop-color="#265690"/><stop offset="0.8021" stop-color="#265690"/><stop offset="0.8125" stop-color="#265690"/><stop offset="0.8229" stop-color="#265690"/><stop offset="0.8333" stop-color="#265690"/><stop offset="0.8438" stop-color="#265690"/><stop offset="0.8542" stop-color="#265690"/><stop offset="0.8646" stop-color="#2a5995"/><stop offset="0.8750" stop-color="#4368ab"/><stop offset="0.8854" stop-color="#5a71a8"/><stop offset="0.8958" stop-color="#6f769b"/><stop offset="0.9062" stop-color="#837a8f"/><stop offset="0.9167" stop-color="#958082"/><stop offset="0.9271" stop-color="#a58678"/><stop offset="0.9375" stop-color="#b48b6e"/><stop offset="0.9479" stop-color="#b58c6d"/><stop offset="0.9583" stop-color="#b58c6d"/><stop offset="0.9688" stop-color="#b58c6d"/><stop offset="0.9792" stop-color="#af8a71"/><stop offset="0.9896" stop-color="#a1847b"/><stop offset="1.0000" stop-color="#907e86"/></linearGradient>
<rect x="671.80" y="668.10" width="376.50" height="27.00" fill="url(#bl7)"/>
<linearGradient id="bl10" x1="0" x2="1" y1="0" y2="0"><stop offset="0.0000" stop-color="#265690"/><stop offset="0.0104" stop-color="#265690"/><stop offset="0.0208" stop-color="#275792"/><stop offset="0.0312" stop-color="#295894"/><stop offset="0.0417" stop-color="#2a5996"/><stop offset="0.0521" stop-color="#2b5a97"/><stop offset="0.0625" stop-color="#2c5a98"/><stop offset="0.0729" stop-color="#2d5b99"/><stop offset="0.0833" stop-color="#2e5b9a"/><stop offset="0.0938" stop-color="#2e5c9b"/><stop offset="0.1042" stop-color="#2f5c9c"/><stop offset="0.1146" stop-color="#305d9c"/><stop offset="0.1250" stop-color="#305d9d"/><stop offset="0.1354" stop-color="#305d9d"/><stop offset="0.1458" stop-color="#305d9d"/><stop offset="0.1562" stop-color="#305d9d"/><stop offset="0.1667" stop-color="#305d9d"/><stop offset="0.1771" stop-color="#305d9d"/><stop offset="0.1875" stop-color="#2f5c9c"/><stop offset="0.1979" stop-color="#2f5c9b"/><stop offset="0.2083" stop-color="#2e5b9a"/><stop offset="0.2188" stop-color="#2d5b99"/><stop offset="0.2292" stop-color="#2c5a98"/><stop offset="0.2396" stop-color="#2b5a97"/><stop offset="0.2500" stop-color="#2b5996"/><stop offset="0.2604" stop-color="#2a5895"/><stop offset="0.2708" stop-color="#285793"/><stop offset="0.2812" stop-color="#265690"/><stop offset="0.2917" stop-color="#265690"/><stop offset="0.3021" stop-color="#265690"/><stop offset="0.3125" stop-color="#265690"/><stop offset="0.3229" stop-color="#265690"/><stop offset="0.3333" stop-color="#285792"/><stop offset="0.3438" stop-color="#2a5995"/><stop offset="0.3542" stop-color="#2b5a97"/><stop offset="0.3646" stop-color="#2c5a98"/><stop offset="0.3750" stop-color="#2d5b99"/><stop offset="0.3854" stop-color="#2e5c9a"/><stop offset="0.3958" stop-color="#2f5c9c"/><stop offset="0.4062" stop-color="#305d9d"/><stop offset="0.4167" stop-color="#315d9e"/><stop offset="0.4271" stop-color="#315e9f"/><stop offset="0.4375" stop-color="#315e9f"/><stop offset="0.4479" stop-color="#315e9f"/><stop offset="0.4583" stop-color="#315e9f"/><stop offset="0.4688" stop-color="#315e9f"/><stop offset="0.4792" stop-color="#315e9f"/><stop offset="0.4896" stop-color="#315d9e"/><stop offset="0.5000" stop-color="#305d9d"/><stop offset="0.5104" stop-color="#2f5c9c"/><stop offset="0.5208" stop-color="#2e5c9a"/><stop offset="0.5312" stop-color="#2d5b99"/><stop offset="0.5417" stop-color="#2c5a98"/><stop offset="0.5521" stop-color="#2b5a97"/><stop offset="0.5625" stop-color="#2a5995"/><stop offset="0.5729" stop-color="#275792"/><stop offset="0.5833" stop-color="#265690"/><stop offset="0.5938" stop-color="#265690"/><stop offset="0.6042" stop-color="#265690"/><stop offset="0.6146" stop-color="#265690"/><stop offset="0.6250" stop-color="#265690"/><stop offset="0.6354" stop-color="#265690"/><stop offset="0.6458" stop-color="#285792"/><stop offset="0.6562" stop-color="#2a5995"/><stop offset="0.6667" stop-color="#2b5996"/><stop offset="0.6771" stop-color="#2c5a97"/><stop offset="0.6875" stop-color="#2d5b98"/><stop offset="0.6979" stop-color="#2d5b9a"/><stop offset="0.7083" stop-color="#2e5c9b"/><stop offset="0.7188" stop-color="#2f5c9c"/><stop offset="0.7292" stop-color="#305d9d"/><stop offset="0.7396" stop-color="#305d9d"/><stop offset="0.7500" stop-color="#305d9d"/><stop offset="0.7604" stop-color="#305d9d"/><stop offset="0.7708" stop-color="#305d9d"/><stop offset="0.7812" stop-color="#305d9d"/><stop offset="0.7917" stop-color="#2f5d9c"/><stop offset="0.8021" stop-color="#2f5c9b"/><stop offset="0.8125" stop-color="#2e5b9a"/><stop offset="0.8229" stop-color="#2d5b99"/><stop offset="0.8333" stop-color="#2c5a98"/><stop offset="0.8438" stop-color="#2b5a97"/><stop offset="0.8542" stop-color="#2a5996"/><stop offset="0.8646" stop-color="#295894"/><stop offset="0.8750" stop-color="#275691"/><stop offset="0.8854" stop-color="#265690"/><stop offset="0.8958" stop-color="#265690"/><stop offset="0.9062" stop-color="#265690"/><stop offset="0.9167" stop-color="#265690"/><stop offset="0.9271" stop-color="#265690"/><stop offset="0.9375" stop-color="#265690"/><stop offset="0.9479" stop-color="#265690"/><stop offset="0.9583" stop-color="#295893"/><stop offset="0.9688" stop-color="#2b5996"/><stop offset="0.9792" stop-color="#2c5a98"/><stop offset="0.9896" stop-color="#2d5b9a"/><stop offset="1.0000" stop-color="#2f5c9b"/></linearGradient>
<rect x="671.80" y="588.00" width="376.50" height="27.00" fill="url(#bl10)"/>
<linearGradient id="bl6" x1="0" x2="1" y1="0" y2="0"><stop offset="0.0000" stop-color="#265690"/><stop offset="0.0104" stop-color="#265690"/><stop offset="0.0208" stop-color="#275792"/><stop offset="0.0312" stop-color="#295894"/><stop offset="0.0417" stop-color="#2b5996"/><stop offset="0.0521" stop-color="#2b5a97"/><stop offset="0.0625" stop-color="#2c5a98"/><stop offset="0.0729" stop-color="#2d5b99"/><stop offset="0.0833" stop-color="#2e5c9b"/><stop offset="0.0938" stop-color="#2f5c9c"/><stop offset="0.1042" stop-color="#305d9c"/><stop offset="0.1146" stop-color="#305d9d"/><stop offset="0.1250" stop-color="#305d9d"/><stop offset="0.1354" stop-color="#305d9d"/><stop offset="0.1458" stop-color="#305d9d"/><stop offset="0.1562" stop-color="#305d9d"/><stop offset="0.1667" stop-color="#2f5d9c"/><stop offset="0.1771" stop-color="#2f5c9b"/><stop offset="0.1875" stop-color="#2e5c9a"/><stop offset="0.1979" stop-color="#2d5b99"/><stop offset="0.2083" stop-color="#2c5a98"/><stop offset="0.2188" stop-color="#2b5a97"/><stop offset="0.2292" stop-color="#2a5996"/><stop offset="0.2396" stop-color="#295894"/><stop offset="0.2500" stop-color="#275791"/><stop offset="0.2604" stop-color="#265690"/><stop offset="0.2708" stop-color="#265690"/><stop offset="0.2812" stop-color="#285793"/><stop offset="0.2917" stop-color="#2a5995"/><stop offset="0.3021" stop-color="#2b5a97"/><stop offset="0.3125" stop-color="#2c5a98"/><stop offset="0.3229" stop-color="#2d5b99"/><stop offset="0.3333" stop-color="#2e5c9a"/><stop offset="0.3438" stop-color="#2f5c9c"/><stop offset="0.3542" stop-color="#305d9d"/><stop offset="0.3646" stop-color="#305d9d"/><stop offset="0.3750" stop-color="#305d9d"/><stop offset="0.3854" stop-color="#305d9d"/><stop offset="0.3958" stop-color="#305d9d"/><stop offset="0.4062" stop-color="#305d9c"/><stop offset="0.4167" stop-color="#2f5c9b"/><stop offset="0.4271" stop-color="#2e5c9a"/><stop offset="0.4375" stop-color="#2d5b99"/><stop offset="0.4479" stop-color="#2c5a98"/><stop offset="0.4583" stop-color="#2b5996"/><stop offset="0.4688" stop-color="#2a5995"/><stop offset="0.4792" stop-color="#285893"/><stop offset="0.4896" stop-color="#2a5995"/><stop offset="0.5000" stop-color="#2b5a97"/><stop offset="0.5104" stop-color="#2c5a98"/><stop offset="0.5208" stop-color="#2d5b99"/><stop offset="0.5312" stop-color="#2e5c9b"/><stop offset="0.5417" stop-color="#2f5c9c"/><stop offset="0.5521" stop-color="#305d9d"/><stop offset="0.5625" stop-color="#305d9d"/><stop offset="0.5729" stop-color="#305d9d"/><stop offset="0.5833" stop-color="#305d9d"/><stop offset="0.5938" stop-color="#305d9d"/><stop offset="0.6042" stop-color="#2f5c9c"/><stop offset="0.6146" stop-color="#2e5c9b"/><stop offset="0.6250" stop-color="#2d5b99"/><stop offset="0.6354" stop-color="#2c5a98"/><stop offset="0.6458" stop-color="#2b5996"/><stop offset="0.6562" stop-color="#2a5995"/><stop offset="0.6667" stop-color="#275792"/><stop offset="0.6771" stop-color="#265690"/><stop offset="0.6875" stop-color="#265690"/><stop offset="0.6979" stop-color="#265690"/><stop offset="0.7083" stop-color="#265690"/><stop offset="0.7188" stop-color="#265690"/><stop offset="0.7292" stop-color="#295893"/><stop offset="0.7396" stop-color="#2a5995"/><stop offset="0.7500" stop-color="#2b5a97"/><stop offset="0.7604" stop-color="#2c5a98"/><stop offset="0.7708" stop-color="#2d5b99"/><stop offset="0.7812" stop-color="#2e5c9a"/><stop offset="0.7917" stop-color="#2f5c9b"/><stop offset="0.8021" stop-color="#305d9c"/><stop offset="0.8125" stop-color="#305d9d"/><stop offset="0.8229" stop-color="#305d9d"/><stop offset="0.8333" stop-color="#305d9d"/><stop offset="0.8438" stop-color="#305d9d"/><stop offset="0.8542" stop-color="#305d9d"/><stop offset="0.8646" stop-color="#2f5c9c"/><stop offset="0.8750" stop-color="#2e5c9b"/><stop offset="0.8854" stop-color="#2e5b9a"/><stop offset="0.8958" stop-color="#2d5b99"/><stop offset="0.9062" stop-color="#2c5a97"/><stop offset="0.9167" stop-color="#2b5996"/><stop offset="0.9271" stop-color="#2a5895"/><stop offset="0.9375" stop-color="#285792"/><stop offset="0.9479" stop-color="#265690"/><stop offset="0.9583" stop-color="#265690"/><stop offset="0.9688" stop-color="#265690"/><stop offset="0.9792" stop-color="#265690"/><stop offset="0.9896" stop-color="#265690"/><stop offset="1.0000" stop-color="#265690"/></linearGradient>
<rect x="671.80" y="694.80" width="376.50" height="27.00" fill="url(#bl6)"/>
<linearGradient id="br8" x1="0" x2="1" y1="0" y2="0"><stop offset="0.0000" stop-color="#f8ce8e"/><stop offset="0.0104" stop-color="#f7cd8c"/><stop offset="0.0208" stop-color="#f7cb89"/><stop offset="0.0312" stop-color="#f7c985"/><stop offset="0.0417" stop-color="#f4c077"/><stop offset="0.0521" stop-color="#f2b76b"/><stop offset="0.0625" stop-color="#efaf5e"/><stop offset="0.0729" stop-color="#eeab59"/><stop offset="0.0833" stop-color="#eda855"/><stop offset="0.0938" stop-color="#eca550"/><stop offset="0.1042" stop-color="#eca34e"/><stop offset="0.1146" stop-color="#eba24c"/><stop offset="0.1250" stop-color="#eba14a"/><stop offset="0.1354" stop-color="#eba14a"/><stop offset="0.1458" stop-color="#eba24c"/><stop offset="0.1562" stop-color="#eca34e"/><stop offset="0.1667" stop-color="#eca44f"/><stop offset="0.1771" stop-color="#eca551"/><stop offset="0.1875" stop-color="#eda855"/><stop offset="0.1979" stop-color="#eead5b"/><stop offset="0.2083" stop-color="#f0b162"/><stop offset="0.2188" stop-color="#f1b668"/><stop offset="0.2292" stop-color="#f2ba6f"/><stop offset="0.2396" stop-color="#f5c179"/><stop offset="0.2500" stop-color="#f6c884"/><stop offset="0.2604" stop-color="#f8d091"/><stop offset="0.2708" stop-color="#f9d79e"/><stop offset="0.2812" stop-color="#f9d69d"/><stop offset="0.2917" stop-color="#f8cf90"/><stop offset="0.3021" stop-color="#f6c883"/><stop offset="0.3125" stop-color="#f4c078"/><stop offset="0.3229" stop-color="#f2ba6e"/><stop offset="0.3333" stop-color="#f1b567"/><stop offset="0.3438" stop-color="#efb060"/><stop offset="0.3542" stop-color="#eeab59"/><stop offset="0.3646" stop-color="#eda754"/><stop offset="0.3750" stop-color="#eda652"/><stop offset="0.3854" stop-color="#eca551"/><stop offset="0.3958" stop-color="#eca54f"/><stop offset="0.4062" stop-color="#eca44e"/><stop offset="0.4167" stop-color="#eca34d"/><stop offset="0.4271" stop-color="#eca44f"/><stop offset="0.4375" stop-color="#eca651"/><stop offset="0.4479" stop-color="#eda753"/><stop offset="0.4583" stop-color="#eda956"/><stop offset="0.4688" stop-color="#eeaa58"/><stop offset="0.4792" stop-color="#efb060"/><stop offset="0.4896" stop-color="#f1b567"/><stop offset="0.5000" stop-color="#f2ba6f"/><stop offset="0.5104" stop-color="#f4c077"/><stop offset="0.5208" stop-color="#f6c680"/><stop offset="0.5312" stop-color="#f7cc8b"/><stop offset="0.5417" stop-color="#f8d296"/><stop offset="0.5521" stop-color="#f9d398"/><stop offset="0.5625" stop-color="#f7cd8d"/><stop offset="0.5729" stop-color="#f6c781"/><stop offset="0.5833" stop-color="#f4c078"/><stop offset="0.5938" stop-color="#f3bb70"/><stop offset="0.6042" stop-color="#f1b668"/><stop offset="0.6146" stop-color="#efb061"/><stop offset="0.6250" stop-color="#eeab59"/><stop offset="0.6354" stop-color="#eda956"/><stop offset="0.6458" stop-color="#eda955"/><stop offset="0.6562" stop-color="#eda854"/><stop offset="0.6667" stop-color="#eda753"/><stop offset="0.6771" stop-color="#eca652"/><stop offset="0.6875" stop-color="#eda753"/><stop offset="0.6979" stop-color="#eda855"/><stop offset="0.7083" stop-color="#eeaa57"/><stop offset="0.7188" stop-color="#eeab59"/><stop offset="0.7292" stop-color="#eead5b"/><stop offset="0.7396" stop-color="#efae5d"/><stop offset="0.7500" stop-color="#f0b365"/><stop offset="0.7604" stop-color="#f2b86c"/><stop offset="0.7708" stop-color="#f3be74"/><stop offset="0.7812" stop-color="#f5c37b"/><stop offset="0.7917" stop-color="#f6c781"/><stop offset="0.8021" stop-color="#f7cb89"/><stop offset="0.8125" stop-color="#f8cf90"/><stop offset="0.8229" stop-color="#f8d193"/><stop offset="0.8333" stop-color="#f7cc8c"/><stop offset="0.8438" stop-color="#f6c884"/><stop offset="0.8542" stop-color="#f5c47d"/><stop offset="0.8646" stop-color="#f4c077"/><stop offset="0.8750" stop-color="#f3bc72"/><stop offset="0.8854" stop-color="#f2b96d"/><stop offset="0.8958" stop-color="#f1b668"/><stop offset="0.9062" stop-color="#f1b567"/><stop offset="0.9167" stop-color="#f1b466"/><stop offset="0.9271" stop-color="#f0b365"/><stop offset="0.9375" stop-color="#f0b364"/><stop offset="0.9479" stop-color="#f0b263"/><stop offset="0.9583" stop-color="#f1b466"/><stop offset="0.9688" stop-color="#f1b568"/><stop offset="0.9792" stop-color="#f1b76a"/><stop offset="0.9896" stop-color="#f2b86c"/><stop offset="1.0000" stop-color="#f2ba6f"/></linearGradient>
<rect x="1098.70" y="641.40" width="376.30" height="27.00" fill="url(#br8)"/>
<linearGradient id="br9" x1="0" x2="1" y1="0" y2="0"><stop offset="0.0000" stop-color="#265690"/><stop offset="0.0104" stop-color="#265690"/><stop offset="0.0208" stop-color="#265690"/><stop offset="0.0312" stop-color="#265690"/><stop offset="0.0417" stop-color="#2c5a97"/><stop offset="0.0521" stop-color="#3e66aa"/><stop offset="0.0625" stop-color="#4c6cab"/><stop offset="0.0729" stop-color="#5670ab"/><stop offset="0.0833" stop-color="#6473a2"/><stop offset="0.0938" stop-color="#71769a"/><stop offset="0.1042" stop-color="#7d7992"/><stop offset="0.1146" stop-color="#887b8b"/><stop offset="0.1250" stop-color="#8d7d88"/><stop offset="0.1354" stop-color="#8d7d88"/><stop offset="0.1458" stop-color="#8d7d88"/><stop offset="0.1562" stop-color="#8d7d88"/><stop offset="0.1667" stop-color="#867b8d"/><stop offset="0.1771" stop-color="#7b7894"/><stop offset="0.1875" stop-color="#6e759c"/><stop offset="0.1979" stop-color="#6173a4"/><stop offset="0.2083" stop-color="#5370ac"/><stop offset="0.2188" stop-color="#496bab"/><stop offset="0.2292" stop-color="#3a64aa"/><stop offset="0.2396" stop-color="#285893"/><stop offset="0.2500" stop-color="#265690"/><stop offset="0.2604" stop-color="#265690"/><stop offset="0.2708" stop-color="#265690"/><stop offset="0.2812" stop-color="#265690"/><stop offset="0.2917" stop-color="#265690"/><stop offset="0.3021" stop-color="#3862a7"/><stop offset="0.3125" stop-color="#496bab"/><stop offset="0.3229" stop-color="#536fac"/><stop offset="0.3333" stop-color="#6173a4"/><stop offset="0.3438" stop-color="#6f769b"/><stop offset="0.3542" stop-color="#7d7893"/><stop offset="0.3646" stop-color="#887b8b"/><stop offset="0.3750" stop-color="#8d7d88"/><stop offset="0.3854" stop-color="#8d7d88"/><stop offset="0.3958" stop-color="#8d7d88"/><stop offset="0.4062" stop-color="#8d7d88"/><stop offset="0.4167" stop-color="#837a8f"/><stop offset="0.4271" stop-color="#777796"/><stop offset="0.4375" stop-color="#69749f"/><stop offset="0.4479" stop-color="#5a71a8"/><stop offset="0.4583" stop-color="#4e6dac"/><stop offset="0.4688" stop-color="#4268ab"/><stop offset="0.4792" stop-color="#2e5b9a"/><stop offset="0.4896" stop-color="#265690"/><stop offset="0.5000" stop-color="#265690"/><stop offset="0.5104" stop-color="#265690"/><stop offset="0.5208" stop-color="#265690"/><stop offset="0.5312" stop-color="#265690"/><stop offset="0.5417" stop-color="#265690"/><stop offset="0.5521" stop-color="#2a5996"/><stop offset="0.5625" stop-color="#3f66aa"/><stop offset="0.5729" stop-color="#4d6dab"/><stop offset="0.5833" stop-color="#5a71a8"/><stop offset="0.5938" stop-color="#69749f"/><stop offset="0.6042" stop-color="#787796"/><stop offset="0.6146" stop-color="#847a8e"/><stop offset="0.6250" stop-color="#8d7d88"/><stop offset="0.6354" stop-color="#8d7d88"/><stop offset="0.6458" stop-color="#8d7d88"/><stop offset="0.6562" stop-color="#8d7d88"/><stop offset="0.6667" stop-color="#847a8e"/><stop offset="0.6771" stop-color="#777796"/><stop offset="0.6875" stop-color="#69749f"/><stop offset="0.6979" stop-color="#5971a9"/><stop offset="0.7083" stop-color="#4d6dab"/><stop offset="0.7188" stop-color="#3f66aa"/><stop offset="0.7292" stop-color="#2a5995"/><stop offset="0.7396" stop-color="#265690"/><stop offset="0.7500" stop-color="#265690"/><stop offset="0.7604" stop-color="#265690"/><stop offset="0.7708" stop-color="#265690"/><stop offset="0.7812" stop-color="#265690"/><stop offset="0.7917" stop-color="#265690"/><stop offset="0.8021" stop-color="#265690"/><stop offset="0.8125" stop-color="#2d5b9a"/><stop offset="0.8229" stop-color="#4368ab"/><stop offset="0.8333" stop-color="#4f6eac"/><stop offset="0.8438" stop-color="#5d72a6"/><stop offset="0.8542" stop-color="#6d759c"/><stop offset="0.8646" stop-color="#7b7894"/><stop offset="0.8750" stop-color="#877b8c"/><stop offset="0.8854" stop-color="#887c8b"/><stop offset="0.8958" stop-color="#887c8b"/><stop offset="0.9062" stop-color="#887c8b"/><stop offset="0.9167" stop-color="#807991"/><stop offset="0.9271" stop-color="#727699"/><stop offset="0.9375" stop-color="#6373a3"/><stop offset="0.9479" stop-color="#5370ac"/><stop offset="0.9583" stop-color="#486aab"/><stop offset="0.9688" stop-color="#3762a5"/><stop offset="0.9792" stop-color="#265691"/><stop offset="0.9896" stop-color="#265690"/><stop offset="1.0000" stop-color="#265690"/></linearGradient>
<rect x="1098.70" y="614.70" width="376.30" height="27.00" fill="url(#br9)"/>
<linearGradient id="br7" x1="0" x2="1" y1="0" y2="0"><stop offset="0.0000" stop-color="#265690"/><stop offset="0.0104" stop-color="#265690"/><stop offset="0.0208" stop-color="#265690"/><stop offset="0.0312" stop-color="#265690"/><stop offset="0.0417" stop-color="#275791"/><stop offset="0.0521" stop-color="#3762a6"/><stop offset="0.0625" stop-color="#476aab"/><stop offset="0.0729" stop-color="#506eac"/><stop offset="0.0833" stop-color="#5c72a7"/><stop offset="0.0938" stop-color="#69749f"/><stop offset="0.1042" stop-color="#757797"/><stop offset="0.1146" stop-color="#807990"/><stop offset="0.1250" stop-color="#8a7c8a"/><stop offset="0.1354" stop-color="#8d7d88"/><stop offset="0.1458" stop-color="#8d7d88"/><stop offset="0.1562" stop-color="#8d7d88"/><stop offset="0.1667" stop-color="#8d7d88"/><stop offset="0.1771" stop-color="#877b8c"/><stop offset="0.1875" stop-color="#7d7992"/><stop offset="0.1979" stop-color="#71769a"/><stop offset="0.2083" stop-color="#6573a2"/><stop offset="0.2188" stop-color="#5871aa"/><stop offset="0.2292" stop-color="#4e6dac"/><stop offset="0.2396" stop-color="#4368ab"/><stop offset="0.2500" stop-color="#325e9f"/><stop offset="0.2604" stop-color="#265690"/><stop offset="0.2708" stop-color="#265690"/><stop offset="0.2812" stop-color="#265690"/><stop offset="0.2917" stop-color="#265690"/><stop offset="0.3021" stop-color="#265690"/><stop offset="0.3125" stop-color="#265690"/><stop offset="0.3229" stop-color="#265690"/><stop offset="0.3333" stop-color="#335fa0"/><stop offset="0.3438" stop-color="#4569ab"/><stop offset="0.3542" stop-color="#4f6eac"/><stop offset="0.3646" stop-color="#5b71a8"/><stop offset="0.3750" stop-color="#69749f"/><stop offset="0.3854" stop-color="#767797"/><stop offset="0.3958" stop-color="#817990"/><stop offset="0.4062" stop-color="#8b7d89"/><stop offset="0.4167" stop-color="#8d7d88"/><stop offset="0.4271" stop-color="#8d7d88"/><stop offset="0.4375" stop-color="#8d7d88"/><stop offset="0.4479" stop-color="#8c7d89"/><stop offset="0.4583" stop-color="#837a8f"/><stop offset="0.4688" stop-color="#787895"/><stop offset="0.4792" stop-color="#6b759e"/><stop offset="0.4896" stop-color="#5e72a6"/><stop offset="0.5000" stop-color="#516fac"/><stop offset="0.5104" stop-color="#476aab"/><stop offset="0.5208" stop-color="#3661a5"/><stop offset="0.5312" stop-color="#265690"/><stop offset="0.5417" stop-color="#265690"/><stop offset="0.5521" stop-color="#265690"/><stop offset="0.5625" stop-color="#265690"/><stop offset="0.5729" stop-color="#265690"/><stop offset="0.5833" stop-color="#265690"/><stop offset="0.5938" stop-color="#265690"/><stop offset="0.6042" stop-color="#265690"/><stop offset="0.6146" stop-color="#265690"/><stop offset="0.6250" stop-color="#3560a3"/><stop offset="0.6354" stop-color="#4569ab"/><stop offset="0.6458" stop-color="#506eac"/><stop offset="0.6562" stop-color="#5d72a6"/><stop offset="0.6667" stop-color="#6b759e"/><stop offset="0.6771" stop-color="#787895"/><stop offset="0.6875" stop-color="#837a8e"/><stop offset="0.6979" stop-color="#8c7d89"/><stop offset="0.7083" stop-color="#8d7d88"/><stop offset="0.7188" stop-color="#8d7d88"/><stop offset="0.7292" stop-color="#8d7d88"/><stop offset="0.7396" stop-color="#8a7c8a"/><stop offset="0.7500" stop-color="#7f7991"/><stop offset="0.7604" stop-color="#737699"/><stop offset="0.7708" stop-color="#6574a1"/><stop offset="0.7812" stop-color="#5771aa"/><stop offset="0.7917" stop-color="#4c6dab"/><stop offset="0.8021" stop-color="#3f67aa"/><stop offset="0.8125" stop-color="#2b5a97"/><stop offset="0.8229" stop-color="#265690"/><stop offset="0.8333" stop-color="#265690"/><stop offset="0.8438" stop-color="#265690"/><stop offset="0.8542" stop-color="#265690"/><stop offset="0.8646" stop-color="#265690"/><stop offset="0.8750" stop-color="#265690"/><stop offset="0.8854" stop-color="#265690"/><stop offset="0.8958" stop-color="#2d5b99"/><stop offset="0.9062" stop-color="#3f66aa"/><stop offset="0.9167" stop-color="#4c6cab"/><stop offset="0.9271" stop-color="#5570ab"/><stop offset="0.9375" stop-color="#6273a3"/><stop offset="0.9479" stop-color="#6f769b"/><stop offset="0.9583" stop-color="#7b7894"/><stop offset="0.9688" stop-color="#857a8d"/><stop offset="0.9792" stop-color="#8c7d88"/><stop offset="0.9896" stop-color="#8d7d88"/><stop offset="1.0000" stop-color="#8d7d88"/></linearGradient>
<rect x="1098.70" y="668.10" width="376.30" height="27.00" fill="url(#br7)"/>
<linearGradient id="br10" x1="0" x2="1" y1="0" y2="0"><stop offset="0.0000" stop-color="#265690"/><stop offset="0.0104" stop-color="#265690"/><stop offset="0.0208" stop-color="#265690"/><stop offset="0.0312" stop-color="#275791"/><stop offset="0.0417" stop-color="#295894"/><stop offset="0.0521" stop-color="#2a5995"/><stop offset="0.0625" stop-color="#2b5996"/><stop offset="0.0729" stop-color="#2c5a97"/><stop offset="0.0833" stop-color="#2c5a98"/><stop offset="0.0938" stop-color="#2d5b99"/><stop offset="0.1042" stop-color="#2e5b9a"/><stop offset="0.1146" stop-color="#2e5c9b"/><stop offset="0.1250" stop-color="#2f5c9b"/><stop offset="0.1354" stop-color="#2f5c9b"/><stop offset="0.1458" stop-color="#2f5c9b"/><stop offset="0.1562" stop-color="#2f5c9b"/><stop offset="0.1667" stop-color="#2e5c9b"/><stop offset="0.1771" stop-color="#2e5b9a"/><stop offset="0.1875" stop-color="#2d5b99"/><stop offset="0.1979" stop-color="#2c5a98"/><stop offset="0.2083" stop-color="#2b5a97"/><stop offset="0.2188" stop-color="#2b5996"/><stop offset="0.2292" stop-color="#2a5995"/><stop offset="0.2396" stop-color="#285893"/><stop offset="0.2500" stop-color="#265691"/><stop offset="0.2604" stop-color="#265690"/><stop offset="0.2708" stop-color="#265690"/><stop offset="0.2812" stop-color="#265690"/><stop offset="0.2917" stop-color="#285893"/><stop offset="0.3021" stop-color="#2a5995"/><stop offset="0.3125" stop-color="#2b5a97"/><stop offset="0.3229" stop-color="#2c5a98"/><stop offset="0.3333" stop-color="#2d5b99"/><stop offset="0.3438" stop-color="#2e5c9b"/><stop offset="0.3542" stop-color="#2f5c9c"/><stop offset="0.3646" stop-color="#305d9d"/><stop offset="0.3750" stop-color="#305d9d"/><stop offset="0.3854" stop-color="#305d9d"/><stop offset="0.3958" stop-color="#305d9d"/><stop offset="0.4062" stop-color="#305d9d"/><stop offset="0.4167" stop-color="#2f5d9c"/><stop offset="0.4271" stop-color="#2f5c9b"/><stop offset="0.4375" stop-color="#2e5b9a"/><stop offset="0.4479" stop-color="#2d5b99"/><stop offset="0.4583" stop-color="#2c5a98"/><stop offset="0.4688" stop-color="#2b5996"/><stop offset="0.4792" stop-color="#295894"/><stop offset="0.4896" stop-color="#275792"/><stop offset="0.5000" stop-color="#265690"/><stop offset="0.5104" stop-color="#265690"/><stop offset="0.5208" stop-color="#265690"/><stop offset="0.5312" stop-color="#265690"/><stop offset="0.5417" stop-color="#265691"/><stop offset="0.5521" stop-color="#285893"/><stop offset="0.5625" stop-color="#2a5995"/><stop offset="0.5729" stop-color="#2b5996"/><stop offset="0.5833" stop-color="#2c5a97"/><stop offset="0.5938" stop-color="#2d5b99"/><stop offset="0.6042" stop-color="#2d5b9a"/><stop offset="0.6146" stop-color="#2e5c9b"/><stop offset="0.6250" stop-color="#2f5c9b"/><stop offset="0.6354" stop-color="#2f5c9b"/><stop offset="0.6458" stop-color="#2f5c9b"/><stop offset="0.6562" stop-color="#2f5c9b"/><stop offset="0.6667" stop-color="#2e5c9b"/><stop offset="0.6771" stop-color="#2d5b9a"/><stop offset="0.6875" stop-color="#2d5b99"/><stop offset="0.6979" stop-color="#2c5a97"/><stop offset="0.7083" stop-color="#2b5996"/><stop offset="0.7188" stop-color="#2a5995"/><stop offset="0.7292" stop-color="#285893"/><stop offset="0.7396" stop-color="#265691"/><stop offset="0.7500" stop-color="#265690"/><stop offset="0.7604" stop-color="#265690"/><stop offset="0.7708" stop-color="#265690"/><stop offset="0.7812" stop-color="#265690"/><stop offset="0.7917" stop-color="#265690"/><stop offset="0.8021" stop-color="#285793"/><stop offset="0.8125" stop-color="#2a5995"/><stop offset="0.8229" stop-color="#2b5996"/><stop offset="0.8333" stop-color="#2c5a97"/><stop offset="0.8438" stop-color="#2c5a98"/><stop offset="0.8542" stop-color="#2d5b99"/><stop offset="0.8646" stop-color="#2e5c9a"/><stop offset="0.8750" stop-color="#2f5c9b"/><stop offset="0.8854" stop-color="#2f5c9b"/><stop offset="0.8958" stop-color="#2f5c9b"/><stop offset="0.9062" stop-color="#2f5c9b"/><stop offset="0.9167" stop-color="#2e5c9b"/><stop offset="0.9271" stop-color="#2e5b9a"/><stop offset="0.9375" stop-color="#2d5b99"/><stop offset="0.9479" stop-color="#2c5a98"/><stop offset="0.9583" stop-color="#2b5996"/><stop offset="0.9688" stop-color="#2a5995"/><stop offset="0.9792" stop-color="#295894"/><stop offset="0.9896" stop-color="#275791"/><stop offset="1.0000" stop-color="#265690"/></linearGradient>
<rect x="1098.70" y="588.00" width="376.30" height="27.00" fill="url(#br10)"/>
<linearGradient id="br6" x1="0" x2="1" y1="0" y2="0"><stop offset="0.0000" stop-color="#265690"/><stop offset="0.0104" stop-color="#265690"/><stop offset="0.0208" stop-color="#265690"/><stop offset="0.0312" stop-color="#265690"/><stop offset="0.0417" stop-color="#275791"/><stop offset="0.0521" stop-color="#295894"/><stop offset="0.0625" stop-color="#2a5995"/><stop offset="0.0729" stop-color="#2b5996"/><stop offset="0.0833" stop-color="#2c5a97"/><stop offset="0.0938" stop-color="#2c5a98"/><stop offset="0.1042" stop-color="#2d5b99"/><stop offset="0.1146" stop-color="#2e5b9a"/><stop offset="0.1250" stop-color="#2e5c9b"/><stop offset="0.1354" stop-color="#2f5c9b"/><stop offset="0.1458" stop-color="#2f5c9b"/><stop offset="0.1562" stop-color="#2f5c9b"/><stop offset="0.1667" stop-color="#2f5c9b"/><stop offset="0.1771" stop-color="#2e5c9b"/><stop offset="0.1875" stop-color="#2e5b9a"/><stop offset="0.1979" stop-color="#2d5b99"/><stop offset="0.2083" stop-color="#2c5a98"/><stop offset="0.2188" stop-color="#2b5a97"/><stop offset="0.2292" stop-color="#2b5996"/><stop offset="0.2396" stop-color="#2a5995"/><stop offset="0.2500" stop-color="#285893"/><stop offset="0.2604" stop-color="#265691"/><stop offset="0.2708" stop-color="#265690"/><stop offset="0.2812" stop-color="#265690"/><stop offset="0.2917" stop-color="#265690"/><stop offset="0.3021" stop-color="#265690"/><stop offset="0.3125" stop-color="#265690"/><stop offset="0.3229" stop-color="#265691"/><stop offset="0.3333" stop-color="#285893"/><stop offset="0.3438" stop-color="#2a5995"/><stop offset="0.3542" stop-color="#2b5996"/><stop offset="0.3646" stop-color="#2b5a97"/><stop offset="0.3750" stop-color="#2c5a98"/><stop offset="0.3854" stop-color="#2d5b99"/><stop offset="0.3958" stop-color="#2e5b9a"/><stop offset="0.4062" stop-color="#2f5c9b"/><stop offset="0.4167" stop-color="#2f5c9b"/><stop offset="0.4271" stop-color="#2f5c9b"/><stop offset="0.4375" stop-color="#2f5c9b"/><stop offset="0.4479" stop-color="#2f5c9b"/><stop offset="0.4583" stop-color="#2e5c9a"/><stop offset="0.4688" stop-color="#2d5b99"/><stop offset="0.4792" stop-color="#2d5b98"/><stop offset="0.4896" stop-color="#2c5a97"/><stop offset="0.5000" stop-color="#2b5996"/><stop offset="0.5104" stop-color="#2a5995"/><stop offset="0.5208" stop-color="#295893"/><stop offset="0.5312" stop-color="#275691"/><stop offset="0.5417" stop-color="#265690"/><stop offset="0.5521" stop-color="#265690"/><stop offset="0.5625" stop-color="#265690"/><stop offset="0.5729" stop-color="#265690"/><stop offset="0.5833" stop-color="#265690"/><stop offset="0.5938" stop-color="#265690"/><stop offset="0.6042" stop-color="#265690"/><stop offset="0.6146" stop-color="#265690"/><stop offset="0.6250" stop-color="#285792"/><stop offset="0.6354" stop-color="#295895"/><stop offset="0.6458" stop-color="#2a5996"/><stop offset="0.6562" stop-color="#2b5a97"/><stop offset="0.6667" stop-color="#2c5a98"/><stop offset="0.6771" stop-color="#2d5b99"/><stop offset="0.6875" stop-color="#2e5c9a"/><stop offset="0.6979" stop-color="#2f5c9b"/><stop offset="0.7083" stop-color="#2f5c9b"/><stop offset="0.7188" stop-color="#2f5c9b"/><stop offset="0.7292" stop-color="#2f5c9b"/><stop offset="0.7396" stop-color="#2e5c9b"/><stop offset="0.7500" stop-color="#2e5b9a"/><stop offset="0.7604" stop-color="#2d5b99"/><stop offset="0.7708" stop-color="#2c5a98"/><stop offset="0.7812" stop-color="#2b5a97"/><stop offset="0.7917" stop-color="#2a5995"/><stop offset="0.8021" stop-color="#295894"/><stop offset="0.8125" stop-color="#275791"/><stop offset="0.8229" stop-color="#265690"/><stop offset="0.8333" stop-color="#265690"/><stop offset="0.8438" stop-color="#265690"/><stop offset="0.8542" stop-color="#265690"/><stop offset="0.8646" stop-color="#265690"/><stop offset="0.8750" stop-color="#265690"/><stop offset="0.8854" stop-color="#265690"/><stop offset="0.8958" stop-color="#265690"/><stop offset="0.9062" stop-color="#285792"/><stop offset="0.9167" stop-color="#295894"/><stop offset="0.9271" stop-color="#2a5996"/><stop offset="0.9375" stop-color="#2b5a97"/><stop offset="0.9479" stop-color="#2c5a98"/><stop offset="0.9583" stop-color="#2d5b99"/><stop offset="0.9688" stop-color="#2e5c9a"/><stop offset="0.9792" stop-color="#2e5c9b"/><stop offset="0.9896" stop-color="#2f5c9b"/><stop offset="1.0000" stop-color="#2f5c9b"/></linearGradient>
<rect x="1098.70" y="694.80" width="376.30" height="27.00" fill="url(#br6)"/>
<linearGradient id="cb" x1="0" x2="0" y1="0" y2="1"><stop offset="0.000" stop-color="#feeec8"/><stop offset="0.025" stop-color="#fdeac1"/><stop offset="0.050" stop-color="#fce6ba"/><stop offset="0.075" stop-color="#fce2b2"/><stop offset="0.100" stop-color="#fbdeab"/><stop offset="0.125" stop-color="#fadaa4"/><stop offset="0.150" stop-color="#f9d69d"/><stop offset="0.175" stop-color="#f8d296"/><stop offset="0.200" stop-color="#f8ce8e"/><stop offset="0.225" stop-color="#f7ca87"/><stop offset="0.250" stop-color="#f6c680"/><stop offset="0.275" stop-color="#f5c27a"/><stop offset="0.300" stop-color="#f4be74"/><stop offset="0.325" stop-color="#f2ba6f"/><stop offset="0.350" stop-color="#f1b669"/><stop offset="0.375" stop-color="#f0b263"/><stop offset="0.400" stop-color="#efae5d"/><stop offset="0.425" stop-color="#eeaa57"/><stop offset="0.450" stop-color="#eca652"/><stop offset="0.475" stop-color="#eba24c"/><stop offset="0.500" stop-color="#ea9e46"/><stop offset="0.525" stop-color="#e19b4d"/><stop offset="0.550" stop-color="#d89854"/><stop offset="0.575" stop-color="#ce945a"/><stop offset="0.600" stop-color="#c59161"/><stop offset="0.625" stop-color="#bc8e68"/><stop offset="0.650" stop-color="#b18a70"/><stop offset="0.675" stop-color="#a68677"/><stop offset="0.700" stop-color="#9a827f"/><stop offset="0.725" stop-color="#8f7e86"/><stop offset="0.750" stop-color="#847a8e"/><stop offset="0.775" stop-color="#787896"/><stop offset="0.800" stop-color="#6c759d"/><stop offset="0.825" stop-color="#6072a4"/><stop offset="0.850" stop-color="#5470ac"/><stop offset="0.875" stop-color="#4c6cab"/><stop offset="0.900" stop-color="#4468ab"/><stop offset="0.925" stop-color="#3c65aa"/><stop offset="0.950" stop-color="#3460a3"/><stop offset="0.975" stop-color="#2d5b99"/><stop offset="1.000" stop-color="#265690"/></linearGradient>
<rect x="1561.5" y="251.5" width="14.5" height="327.8" fill="url(#cb)"/>
<text x="1586.0" y="259.2" font-family='"Liberation Sans", Arial, Helvetica, sans-serif' font-size="23.0" text-anchor="start" font-weight="normal" font-style="normal" >1</text>
<text x="1584.0" y="584.3" font-family='"Liberation Sans", Arial, Helvetica, sans-serif' font-size="23.0" text-anchor="start" font-weight="normal" font-style="normal" >-1</text>
<text transform="translate(1531.5 224.0) scale(0.630 1.000)" font-family='"DejaVu Math TeX Gyre", "DejaVu Sans", "DejaVu Serif", serif' font-size="52.7" font-style="normal">&#x27E8;</text>
<text transform="translate(1589.5 224.0) scale(0.630 1.000)" font-family='"DejaVu Math TeX Gyre", "DejaVu Sans", "DejaVu Serif", serif' font-size="52.7" font-style="normal">&#x27E9;</text>
<text transform="translate(1547.0 219.2) scale(1.150 1.000)" font-family='"Liberation Serif", "DejaVu Serif", serif' font-size="36.0" font-style="italic">&#963;</text>
<text x="1574.5" y="199.8" font-family='"Liberation Serif", "DejaVu Serif", serif' font-size="27.0" text-anchor="start" font-weight="normal" font-style="italic" >z</text>
<text x="1575.5" y="229.8" font-family='"Liberation Serif", "DejaVu Serif", serif' font-size="31.5" text-anchor="start" font-weight="normal" font-style="italic" >j</text>
<text x="803.0" y="20.0" font-family='"Liberation Sans", Arial, Helvetica, sans-serif' font-size="26.5" text-anchor="start" font-weight="normal" font-style="normal" >Continuous</text>
<text x="1228.5" y="20.0" font-family='"Liberation Sans", Arial, Helvetica, sans-serif' font-size="26.5" text-anchor="start" font-weight="normal" font-style="normal" >Trotterized</text>
<text x="671.0" y="42.5" font-family='"Liberation Sans", Arial, Helvetica, sans-serif' font-size="25.0" text-anchor="end" font-weight="normal" font-style="normal" >15</text>
<text x="669.0" y="399.5" font-family='"Liberation Sans", Arial, Helvetica, sans-serif' font-size="25.0" text-anchor="end" font-weight="normal" font-style="normal" >1</text>
<text x="665.0" y="467.5" font-family='"Liberation Sans", Arial, Helvetica, sans-serif' font-size="25.0" text-anchor="end" font-weight="normal" font-style="normal" >15</text>
<text x="663.0" y="823.0" font-family='"Liberation Sans", Arial, Helvetica, sans-serif' font-size="25.0" text-anchor="end" font-weight="normal" font-style="normal" >1</text>
<text x="602.0" y="190.5" font-family='"Liberation Sans", Arial, Helvetica, sans-serif' font-size="29.0" text-anchor="start" font-weight="normal" font-style="normal" letter-spacing="1.7">spin</text>
<text x="633.0" y="236.0" font-family='"Liberation Serif", "DejaVu Serif", serif' font-size="46.0" text-anchor="start" font-weight="normal" font-style="italic" >j</text>
<text x="598.5" y="617.8" font-family='"Liberation Sans", Arial, Helvetica, sans-serif' font-size="35.0" text-anchor="start" font-weight="normal" font-style="normal" letter-spacing="2">spin</text>
<text x="629.5" y="663.3" font-family='"Liberation Serif", "DejaVu Serif", serif' font-size="46.0" text-anchor="start" font-weight="normal" font-style="italic" >j</text>
<text x="671.6" y="431.2" font-family='"Liberation Sans", Arial, Helvetica, sans-serif' font-size="25.0" text-anchor="start" font-weight="normal" font-style="normal" >0</text>
<text x="1021.5" y="431.3" font-family='"Liberation Sans", Arial, Helvetica, sans-serif' font-size="24.5" text-anchor="start" font-weight="normal" font-style="normal" letter-spacing="1.3">7.85</text>
<text x="795.5" y="431.8" font-family='"Liberation Sans", Arial, Helvetica, sans-serif' font-size="31.0" text-anchor="start" font-weight="normal" font-style="normal" letter-spacing="1.1">time</text>
<text x="871.5" y="432.3" font-family='"Liberation Serif", "DejaVu Serif", serif' font-size="44.0" text-anchor="start" font-weight="normal" font-style="italic" >t</text>
<text x="888.5" y="432.3" font-family='"Liberation Serif", "DejaVu Serif", serif' font-size="44.0" text-anchor="start" font-weight="normal" font-style="italic" >J</text>
<text transform="translate(908.6 439.0) scale(1.030 1.000)" font-family='"Liberation Serif", "DejaVu Serif", serif' font-size="28.0" font-style="normal">0</text>
<text x="1094.4" y="431.2" font-family='"Liberation Sans", Arial, Helvetica, sans-serif' font-size="25.0" text-anchor="start" font-weight="normal" font-style="normal" >0</text>
<text x="1443.2" y="431.3" font-family='"Liberation Sans", Arial, Helvetica, sans-serif' font-size="24.5" text-anchor="start" font-weight="normal" font-style="normal" letter-spacing="1.3">7.85</text>
<text x="1224.5" y="431.8" font-family='"Liberation Sans", Arial, Helvetica, sans-serif' font-size="31.0" text-anchor="start" font-weight="normal" font-style="normal" letter-spacing="1.1">time</text>
<text x="1300.5" y="432.3" font-family='"Liberation Serif", "DejaVu Serif", serif' font-size="44.0" text-anchor="start" font-weight="normal" font-style="italic" >t</text>
<text x="1317.5" y="432.3" font-family='"Liberation Serif", "DejaVu Serif", serif' font-size="44.0" text-anchor="start" font-weight="normal" font-style="italic" >J</text>
<text transform="translate(1337.6 439.0) scale(1.030 1.000)" font-family='"Liberation Serif", "DejaVu Serif", serif' font-size="28.0" font-style="normal">0</text>
</svg></body></html>
